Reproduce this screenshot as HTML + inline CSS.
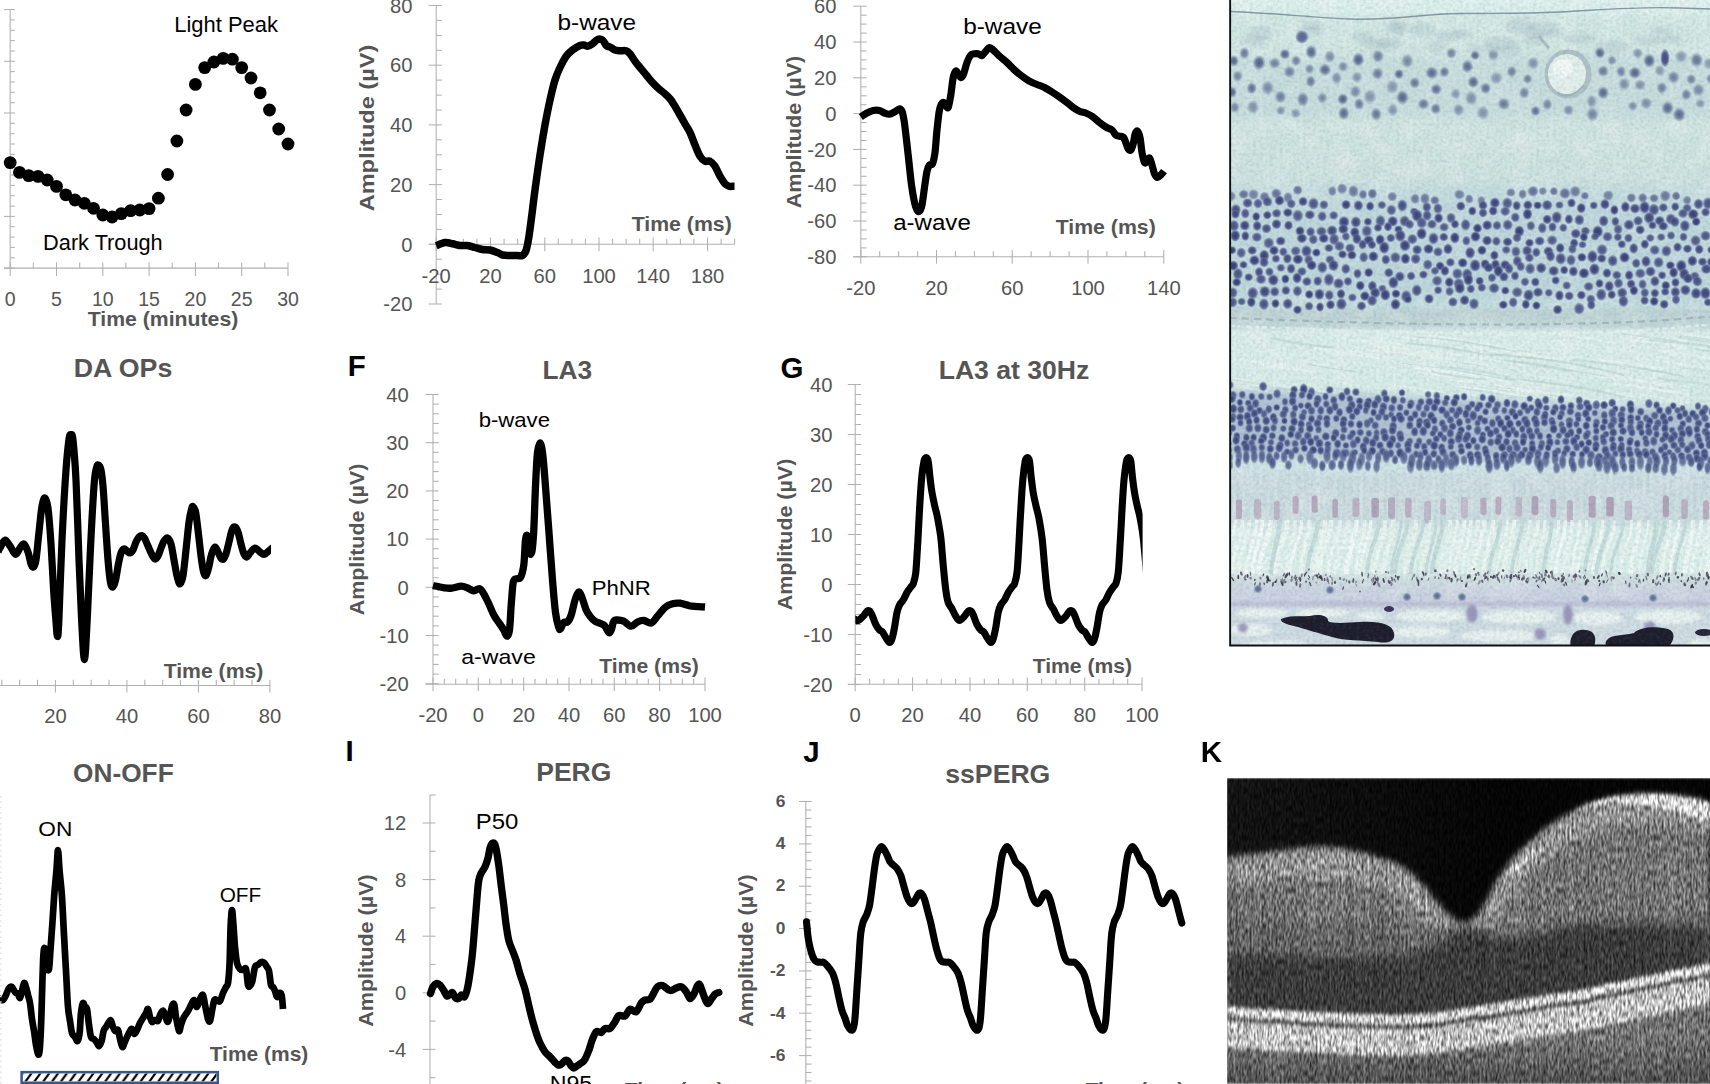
<!DOCTYPE html>
<html><head><meta charset="utf-8"><title>ERG figure</title>
<style>html,body{margin:0;padding:0;background:#fff;overflow:hidden}svg{display:block}text{font-family:"Liberation Sans",sans-serif}</style>
</head><body>
<svg width="1710" height="1084" viewBox="0 0 1710 1084">
<g id="chartA">
<line x1="10.2" y1="9.6" x2="10.2" y2="268.1" stroke="#b0b0b0" stroke-width="1.05"/>
<line x1="4" y1="9.6" x2="14.8" y2="9.6" stroke="#b0b0b0" stroke-width="1.05"/>
<line x1="4" y1="61.3" x2="14.8" y2="61.3" stroke="#b0b0b0" stroke-width="1.05"/>
<line x1="4" y1="113" x2="14.8" y2="113" stroke="#b0b0b0" stroke-width="1.05"/>
<line x1="4" y1="164.7" x2="14.8" y2="164.7" stroke="#b0b0b0" stroke-width="1.05"/>
<line x1="4" y1="216.4" x2="14.8" y2="216.4" stroke="#b0b0b0" stroke-width="1.05"/>
<line x1="4" y1="268.1" x2="14.8" y2="268.1" stroke="#b0b0b0" stroke-width="1.05"/>
<line x1="10.2" y1="19.9" x2="14.8" y2="19.9" stroke="#b0b0b0" stroke-width="1.05"/>
<line x1="10.2" y1="30.3" x2="14.8" y2="30.3" stroke="#b0b0b0" stroke-width="1.05"/>
<line x1="10.2" y1="40.6" x2="14.8" y2="40.6" stroke="#b0b0b0" stroke-width="1.05"/>
<line x1="10.2" y1="51" x2="14.8" y2="51" stroke="#b0b0b0" stroke-width="1.05"/>
<line x1="10.2" y1="71.6" x2="14.8" y2="71.6" stroke="#b0b0b0" stroke-width="1.05"/>
<line x1="10.2" y1="82" x2="14.8" y2="82" stroke="#b0b0b0" stroke-width="1.05"/>
<line x1="10.2" y1="92.3" x2="14.8" y2="92.3" stroke="#b0b0b0" stroke-width="1.05"/>
<line x1="10.2" y1="102.7" x2="14.8" y2="102.7" stroke="#b0b0b0" stroke-width="1.05"/>
<line x1="10.2" y1="123.3" x2="14.8" y2="123.3" stroke="#b0b0b0" stroke-width="1.05"/>
<line x1="10.2" y1="133.7" x2="14.8" y2="133.7" stroke="#b0b0b0" stroke-width="1.05"/>
<line x1="10.2" y1="144" x2="14.8" y2="144" stroke="#b0b0b0" stroke-width="1.05"/>
<line x1="10.2" y1="154.4" x2="14.8" y2="154.4" stroke="#b0b0b0" stroke-width="1.05"/>
<line x1="10.2" y1="175" x2="14.8" y2="175" stroke="#b0b0b0" stroke-width="1.05"/>
<line x1="10.2" y1="185.4" x2="14.8" y2="185.4" stroke="#b0b0b0" stroke-width="1.05"/>
<line x1="10.2" y1="195.7" x2="14.8" y2="195.7" stroke="#b0b0b0" stroke-width="1.05"/>
<line x1="10.2" y1="206.1" x2="14.8" y2="206.1" stroke="#b0b0b0" stroke-width="1.05"/>
<line x1="10.2" y1="226.7" x2="14.8" y2="226.7" stroke="#b0b0b0" stroke-width="1.05"/>
<line x1="10.2" y1="237.1" x2="14.8" y2="237.1" stroke="#b0b0b0" stroke-width="1.05"/>
<line x1="10.2" y1="247.4" x2="14.8" y2="247.4" stroke="#b0b0b0" stroke-width="1.05"/>
<line x1="10.2" y1="257.8" x2="14.8" y2="257.8" stroke="#b0b0b0" stroke-width="1.05"/>
<line x1="4" y1="268.1" x2="288" y2="268.1" stroke="#b0b0b0" stroke-width="1.05"/>
<line x1="10.2" y1="262.4" x2="10.2" y2="276" stroke="#b0b0b0" stroke-width="1.05"/>
<line x1="56.5" y1="262.4" x2="56.5" y2="276" stroke="#b0b0b0" stroke-width="1.05"/>
<line x1="102.8" y1="262.4" x2="102.8" y2="276" stroke="#b0b0b0" stroke-width="1.05"/>
<line x1="149.1" y1="262.4" x2="149.1" y2="276" stroke="#b0b0b0" stroke-width="1.05"/>
<line x1="195.4" y1="262.4" x2="195.4" y2="276" stroke="#b0b0b0" stroke-width="1.05"/>
<line x1="241.7" y1="262.4" x2="241.7" y2="276" stroke="#b0b0b0" stroke-width="1.05"/>
<line x1="288" y1="262.4" x2="288" y2="276" stroke="#b0b0b0" stroke-width="1.05"/>
<line x1="33.3" y1="262.4" x2="33.3" y2="268" stroke="#b0b0b0" stroke-width="1.05"/>
<line x1="79.7" y1="262.4" x2="79.7" y2="268" stroke="#b0b0b0" stroke-width="1.05"/>
<line x1="125.9" y1="262.4" x2="125.9" y2="268" stroke="#b0b0b0" stroke-width="1.05"/>
<line x1="172.2" y1="262.4" x2="172.2" y2="268" stroke="#b0b0b0" stroke-width="1.05"/>
<line x1="218.5" y1="262.4" x2="218.5" y2="268" stroke="#b0b0b0" stroke-width="1.05"/>
<line x1="264.8" y1="262.4" x2="264.8" y2="268" stroke="#b0b0b0" stroke-width="1.05"/>
<text x="10.2" y="306.3" font-size="19.5" fill="#555555" text-anchor="middle">0</text>
<text x="56.5" y="306.3" font-size="19.5" fill="#555555" text-anchor="middle">5</text>
<text x="102.8" y="306.3" font-size="19.5" fill="#555555" text-anchor="middle">10</text>
<text x="149.1" y="306.3" font-size="19.5" fill="#555555" text-anchor="middle">15</text>
<text x="195.4" y="306.3" font-size="19.5" fill="#555555" text-anchor="middle">20</text>
<text x="241.7" y="306.3" font-size="19.5" fill="#555555" text-anchor="middle">25</text>
<text x="288" y="306.3" font-size="19.5" fill="#555555" text-anchor="middle">30</text>
<text x="163" y="326.3" font-size="20.5" fill="#555555" font-weight="bold" text-anchor="middle" textLength="150.6" lengthAdjust="spacingAndGlyphs">Time (minutes)</text>
<text x="174.3" y="32" font-size="21.3" fill="#000" textLength="103.6" lengthAdjust="spacingAndGlyphs">Light Peak</text>
<text x="43.1" y="250" font-size="21.3" fill="#000" textLength="119.6" lengthAdjust="spacingAndGlyphs">Dark Trough</text>
<circle cx="10.2" cy="162.6" r="6.4" fill="#000"/>
<circle cx="19.5" cy="172.4" r="6.4" fill="#000"/>
<circle cx="28.7" cy="175.6" r="6.4" fill="#000"/>
<circle cx="38" cy="176.4" r="6.4" fill="#000"/>
<circle cx="47.2" cy="180" r="6.4" fill="#000"/>
<circle cx="56.5" cy="186.4" r="6.4" fill="#000"/>
<circle cx="65.8" cy="194.8" r="6.4" fill="#000"/>
<circle cx="75" cy="200" r="6.4" fill="#000"/>
<circle cx="84.3" cy="203.3" r="6.4" fill="#000"/>
<circle cx="93.5" cy="208.3" r="6.4" fill="#000"/>
<circle cx="102.8" cy="215" r="6.4" fill="#000"/>
<circle cx="112.1" cy="217" r="6.4" fill="#000"/>
<circle cx="121.3" cy="213.6" r="6.4" fill="#000"/>
<circle cx="130.6" cy="210.6" r="6.4" fill="#000"/>
<circle cx="139.8" cy="210" r="6.4" fill="#000"/>
<circle cx="149.1" cy="208.6" r="6.4" fill="#000"/>
<circle cx="158.4" cy="198.2" r="6.4" fill="#000"/>
<circle cx="167.6" cy="174.5" r="6.4" fill="#000"/>
<circle cx="176.9" cy="141" r="6.4" fill="#000"/>
<circle cx="186.1" cy="110" r="6.4" fill="#000"/>
<circle cx="195.4" cy="84.4" r="6.4" fill="#000"/>
<circle cx="204.7" cy="67.6" r="6.4" fill="#000"/>
<circle cx="213.9" cy="62" r="6.4" fill="#000"/>
<circle cx="223.2" cy="58.4" r="6.4" fill="#000"/>
<circle cx="232.4" cy="59.2" r="6.4" fill="#000"/>
<circle cx="241.7" cy="67.6" r="6.4" fill="#000"/>
<circle cx="251" cy="78" r="6.4" fill="#000"/>
<circle cx="260.2" cy="92.8" r="6.4" fill="#000"/>
<circle cx="269.5" cy="110" r="6.4" fill="#000"/>
<circle cx="278.7" cy="129" r="6.4" fill="#000"/>
<circle cx="288" cy="144" r="6.4" fill="#000"/>
</g>
<g id="chartC">
<line x1="436.2" y1="5.5" x2="436.2" y2="304" stroke="#b0b0b0" stroke-width="1.05"/>
<line x1="428.8" y1="5.5" x2="441.9" y2="5.5" stroke="#b0b0b0" stroke-width="1.05"/>
<line x1="428.8" y1="65.2" x2="441.9" y2="65.2" stroke="#b0b0b0" stroke-width="1.05"/>
<line x1="428.8" y1="124.9" x2="441.9" y2="124.9" stroke="#b0b0b0" stroke-width="1.05"/>
<line x1="428.8" y1="184.6" x2="441.9" y2="184.6" stroke="#b0b0b0" stroke-width="1.05"/>
<line x1="428.8" y1="244.3" x2="441.9" y2="244.3" stroke="#b0b0b0" stroke-width="1.05"/>
<line x1="428.8" y1="304" x2="441.9" y2="304" stroke="#b0b0b0" stroke-width="1.05"/>
<line x1="436.2" y1="20.4" x2="441.9" y2="20.4" stroke="#b0b0b0" stroke-width="1.05"/>
<line x1="436.2" y1="35.4" x2="441.9" y2="35.4" stroke="#b0b0b0" stroke-width="1.05"/>
<line x1="436.2" y1="50.3" x2="441.9" y2="50.3" stroke="#b0b0b0" stroke-width="1.05"/>
<line x1="436.2" y1="80.1" x2="441.9" y2="80.1" stroke="#b0b0b0" stroke-width="1.05"/>
<line x1="436.2" y1="95.1" x2="441.9" y2="95.1" stroke="#b0b0b0" stroke-width="1.05"/>
<line x1="436.2" y1="110" x2="441.9" y2="110" stroke="#b0b0b0" stroke-width="1.05"/>
<line x1="436.2" y1="139.8" x2="441.9" y2="139.8" stroke="#b0b0b0" stroke-width="1.05"/>
<line x1="436.2" y1="154.8" x2="441.9" y2="154.8" stroke="#b0b0b0" stroke-width="1.05"/>
<line x1="436.2" y1="169.7" x2="441.9" y2="169.7" stroke="#b0b0b0" stroke-width="1.05"/>
<line x1="436.2" y1="199.5" x2="441.9" y2="199.5" stroke="#b0b0b0" stroke-width="1.05"/>
<line x1="436.2" y1="214.5" x2="441.9" y2="214.5" stroke="#b0b0b0" stroke-width="1.05"/>
<line x1="436.2" y1="229.4" x2="441.9" y2="229.4" stroke="#b0b0b0" stroke-width="1.05"/>
<line x1="436.2" y1="259.2" x2="441.9" y2="259.2" stroke="#b0b0b0" stroke-width="1.05"/>
<line x1="436.2" y1="274.1" x2="441.9" y2="274.1" stroke="#b0b0b0" stroke-width="1.05"/>
<line x1="436.2" y1="289.1" x2="441.9" y2="289.1" stroke="#b0b0b0" stroke-width="1.05"/>
<line x1="428.8" y1="244.3" x2="734.6" y2="244.3" stroke="#b0b0b0" stroke-width="1.05"/>
<line x1="436.2" y1="237.5" x2="436.2" y2="251.2" stroke="#b0b0b0" stroke-width="1.05"/>
<line x1="490.5" y1="237.5" x2="490.5" y2="251.2" stroke="#b0b0b0" stroke-width="1.05"/>
<line x1="544.8" y1="237.5" x2="544.8" y2="251.2" stroke="#b0b0b0" stroke-width="1.05"/>
<line x1="599" y1="237.5" x2="599" y2="251.2" stroke="#b0b0b0" stroke-width="1.05"/>
<line x1="653.2" y1="237.5" x2="653.2" y2="251.2" stroke="#b0b0b0" stroke-width="1.05"/>
<line x1="707.5" y1="237.5" x2="707.5" y2="251.2" stroke="#b0b0b0" stroke-width="1.05"/>
<line x1="449.8" y1="238.7" x2="449.8" y2="244.3" stroke="#b0b0b0" stroke-width="1.05"/>
<line x1="463.4" y1="238.7" x2="463.4" y2="244.3" stroke="#b0b0b0" stroke-width="1.05"/>
<line x1="476.9" y1="238.7" x2="476.9" y2="244.3" stroke="#b0b0b0" stroke-width="1.05"/>
<line x1="504.1" y1="238.7" x2="504.1" y2="244.3" stroke="#b0b0b0" stroke-width="1.05"/>
<line x1="517.6" y1="238.7" x2="517.6" y2="244.3" stroke="#b0b0b0" stroke-width="1.05"/>
<line x1="531.2" y1="238.7" x2="531.2" y2="244.3" stroke="#b0b0b0" stroke-width="1.05"/>
<line x1="558.3" y1="238.7" x2="558.3" y2="244.3" stroke="#b0b0b0" stroke-width="1.05"/>
<line x1="571.9" y1="238.7" x2="571.9" y2="244.3" stroke="#b0b0b0" stroke-width="1.05"/>
<line x1="585.4" y1="238.7" x2="585.4" y2="244.3" stroke="#b0b0b0" stroke-width="1.05"/>
<line x1="612.6" y1="238.7" x2="612.6" y2="244.3" stroke="#b0b0b0" stroke-width="1.05"/>
<line x1="626.1" y1="238.7" x2="626.1" y2="244.3" stroke="#b0b0b0" stroke-width="1.05"/>
<line x1="639.7" y1="238.7" x2="639.7" y2="244.3" stroke="#b0b0b0" stroke-width="1.05"/>
<line x1="666.8" y1="238.7" x2="666.8" y2="244.3" stroke="#b0b0b0" stroke-width="1.05"/>
<line x1="680.4" y1="238.7" x2="680.4" y2="244.3" stroke="#b0b0b0" stroke-width="1.05"/>
<line x1="693.9" y1="238.7" x2="693.9" y2="244.3" stroke="#b0b0b0" stroke-width="1.05"/>
<line x1="721.1" y1="238.7" x2="721.1" y2="244.3" stroke="#b0b0b0" stroke-width="1.05"/>
<line x1="734.6" y1="238.7" x2="734.6" y2="244.3" stroke="#b0b0b0" stroke-width="1.05"/>
<text x="412.5" y="12.7" font-size="20.2" fill="#555555" text-anchor="end">80</text>
<text x="412.5" y="72.4" font-size="20.2" fill="#555555" text-anchor="end">60</text>
<text x="412.5" y="132.1" font-size="20.2" fill="#555555" text-anchor="end">40</text>
<text x="412.5" y="191.8" font-size="20.2" fill="#555555" text-anchor="end">20</text>
<text x="412.5" y="251.5" font-size="20.2" fill="#555555" text-anchor="end">0</text>
<text x="412.5" y="311.2" font-size="20.2" fill="#555555" text-anchor="end">-20</text>
<text x="436.2" y="282.5" font-size="20.2" fill="#555555" text-anchor="middle">-20</text>
<text x="490.5" y="282.5" font-size="20.2" fill="#555555" text-anchor="middle">20</text>
<text x="544.8" y="282.5" font-size="20.2" fill="#555555" text-anchor="middle">60</text>
<text x="599" y="282.5" font-size="20.2" fill="#555555" text-anchor="middle">100</text>
<text x="653.2" y="282.5" font-size="20.2" fill="#555555" text-anchor="middle">140</text>
<text x="707.5" y="282.5" font-size="20.2" fill="#555555" text-anchor="middle">180</text>
<text x="373.5" y="128" font-size="20.5" fill="#555555" font-weight="bold" text-anchor="middle" textLength="166.6" lengthAdjust="spacingAndGlyphs" transform="rotate(-90 373.5 128)">Amplitude (µV)</text>
<text x="557.5" y="29.5" font-size="21.3" fill="#000" textLength="78.6" lengthAdjust="spacingAndGlyphs">b-wave</text>
<text x="631.7" y="231.2" font-size="21" fill="#555555" font-weight="bold" textLength="100.1" lengthAdjust="spacingAndGlyphs">Time (ms)</text>
<path d="M436.2 245.8C437.7 245.2 442.3 242.8 445 242.5C447.7 242.2 450 243.2 452.5 243.8C455 244.2 457.5 245.2 460 245.5C462.5 245.8 465 245.2 467.5 245.5C470 245.8 472.5 246.8 475 247.5C477.5 248.2 480 249.1 482.5 249.5C485 249.9 487.5 249.5 490 250C492.5 250.5 495.4 251.7 497.5 252.5C499.6 253.3 500.4 254.5 502.5 255C504.6 255.5 507.5 255.4 510 255.5C512.5 255.6 515.4 255.5 517.5 255.5C519.6 255.5 521 256.4 522.5 255.5C524 254.6 525.2 253 526.2 250C527.3 247 527.9 242.5 528.8 237.5C529.6 232.5 530.2 227.9 531.2 220C532.3 212.1 533.5 200.8 535 190C536.5 179.2 538.3 165.8 540 155C541.7 144.2 543.3 134.2 545 125C546.7 115.8 548.3 107.5 550 100C551.7 92.5 553.3 85.4 555 80C556.7 74.6 558.1 71.5 560 67.5C561.9 63.5 564.2 59.2 566.2 56.2C568.3 53.3 570.2 51.8 572.5 50C574.8 48.2 578.1 46.3 580 45.5C581.9 44.7 582.5 44.9 583.8 45C585 45.1 586 46.5 587.5 46.2C589 46 590.8 44.9 592.5 43.8C594.2 42.6 595.8 40.1 597.5 39.5C599.2 38.9 601 39 602.5 40C604 41 605 44.3 606.2 45.5C607.5 46.7 608.5 46.2 610 47C611.5 47.8 613.3 49.4 615 50C616.7 50.6 618.1 50.6 620 50.8C621.9 50.9 624.6 50.2 626.2 50.8C627.9 51.2 628.5 52 630 53.8C631.5 55.5 633.3 59 635 61.2C636.7 63.5 638.1 65.2 640 67.5C641.9 69.8 644.2 72.5 646.2 75C648.3 77.5 650.4 80.2 652.5 82.5C654.6 84.8 656.7 86.9 658.8 88.8C660.8 90.6 663.1 92.1 665 93.8C666.9 95.4 668.3 96.7 670 98.8C671.7 100.8 673.3 103.5 675 106.2C676.7 109 678.3 112.1 680 115C681.7 117.9 683.3 120.8 685 123.8C686.7 126.7 688.3 129 690 132.5C691.7 136 693.3 141 695 145C696.7 149 698.3 153.5 700 156.2C701.7 159 703.3 160.4 705 161.2C706.7 162.1 708.3 160.4 710 161.2C711.7 162.1 713.3 163.8 715 166.2C716.7 168.8 718.3 173.3 720 176.2C721.7 179.2 723.5 182.1 725 183.8C726.5 185.4 727.2 185.8 728.8 186.2C730.3 186.7 733.5 186.2 734.5 186.2" fill="none" stroke="#000" stroke-width="7.5" stroke-linecap="butt" stroke-linejoin="round"/>
</g>
<g id="chartD">
<line x1="860.8" y1="6.2" x2="860.8" y2="256.8" stroke="#b0b0b0" stroke-width="1.05"/>
<line x1="853.2" y1="6.2" x2="866.5" y2="6.2" stroke="#b0b0b0" stroke-width="1.05"/>
<line x1="853.2" y1="42" x2="866.5" y2="42" stroke="#b0b0b0" stroke-width="1.05"/>
<line x1="853.2" y1="77.8" x2="866.5" y2="77.8" stroke="#b0b0b0" stroke-width="1.05"/>
<line x1="853.2" y1="113.6" x2="866.5" y2="113.6" stroke="#b0b0b0" stroke-width="1.05"/>
<line x1="853.2" y1="149.4" x2="866.5" y2="149.4" stroke="#b0b0b0" stroke-width="1.05"/>
<line x1="853.2" y1="185.2" x2="866.5" y2="185.2" stroke="#b0b0b0" stroke-width="1.05"/>
<line x1="853.2" y1="221" x2="866.5" y2="221" stroke="#b0b0b0" stroke-width="1.05"/>
<line x1="853.2" y1="256.8" x2="866.5" y2="256.8" stroke="#b0b0b0" stroke-width="1.05"/>
<line x1="860.8" y1="15.2" x2="866.5" y2="15.2" stroke="#b0b0b0" stroke-width="1.05"/>
<line x1="860.8" y1="24.1" x2="866.5" y2="24.1" stroke="#b0b0b0" stroke-width="1.05"/>
<line x1="860.8" y1="33.1" x2="866.5" y2="33.1" stroke="#b0b0b0" stroke-width="1.05"/>
<line x1="860.8" y1="51" x2="866.5" y2="51" stroke="#b0b0b0" stroke-width="1.05"/>
<line x1="860.8" y1="59.9" x2="866.5" y2="59.9" stroke="#b0b0b0" stroke-width="1.05"/>
<line x1="860.8" y1="68.9" x2="866.5" y2="68.9" stroke="#b0b0b0" stroke-width="1.05"/>
<line x1="860.8" y1="86.8" x2="866.5" y2="86.8" stroke="#b0b0b0" stroke-width="1.05"/>
<line x1="860.8" y1="95.8" x2="866.5" y2="95.8" stroke="#b0b0b0" stroke-width="1.05"/>
<line x1="860.8" y1="104.7" x2="866.5" y2="104.7" stroke="#b0b0b0" stroke-width="1.05"/>
<line x1="860.8" y1="122.6" x2="866.5" y2="122.6" stroke="#b0b0b0" stroke-width="1.05"/>
<line x1="860.8" y1="131.5" x2="866.5" y2="131.5" stroke="#b0b0b0" stroke-width="1.05"/>
<line x1="860.8" y1="140.5" x2="866.5" y2="140.5" stroke="#b0b0b0" stroke-width="1.05"/>
<line x1="860.8" y1="158.4" x2="866.5" y2="158.4" stroke="#b0b0b0" stroke-width="1.05"/>
<line x1="860.8" y1="167.3" x2="866.5" y2="167.3" stroke="#b0b0b0" stroke-width="1.05"/>
<line x1="860.8" y1="176.3" x2="866.5" y2="176.3" stroke="#b0b0b0" stroke-width="1.05"/>
<line x1="860.8" y1="194.2" x2="866.5" y2="194.2" stroke="#b0b0b0" stroke-width="1.05"/>
<line x1="860.8" y1="203.1" x2="866.5" y2="203.1" stroke="#b0b0b0" stroke-width="1.05"/>
<line x1="860.8" y1="212.1" x2="866.5" y2="212.1" stroke="#b0b0b0" stroke-width="1.05"/>
<line x1="860.8" y1="230" x2="866.5" y2="230" stroke="#b0b0b0" stroke-width="1.05"/>
<line x1="860.8" y1="238.9" x2="866.5" y2="238.9" stroke="#b0b0b0" stroke-width="1.05"/>
<line x1="860.8" y1="247.9" x2="866.5" y2="247.9" stroke="#b0b0b0" stroke-width="1.05"/>
<line x1="853.2" y1="256.8" x2="1164" y2="256.8" stroke="#b0b0b0" stroke-width="1.05"/>
<line x1="860.8" y1="250" x2="860.8" y2="263.7" stroke="#b0b0b0" stroke-width="1.05"/>
<line x1="936.5" y1="250" x2="936.5" y2="263.7" stroke="#b0b0b0" stroke-width="1.05"/>
<line x1="1012.2" y1="250" x2="1012.2" y2="263.7" stroke="#b0b0b0" stroke-width="1.05"/>
<line x1="1088" y1="250" x2="1088" y2="263.7" stroke="#b0b0b0" stroke-width="1.05"/>
<line x1="1163.8" y1="250" x2="1163.8" y2="263.7" stroke="#b0b0b0" stroke-width="1.05"/>
<line x1="879.7" y1="251.2" x2="879.7" y2="256.8" stroke="#b0b0b0" stroke-width="1.05"/>
<line x1="898.6" y1="251.2" x2="898.6" y2="256.8" stroke="#b0b0b0" stroke-width="1.05"/>
<line x1="917.6" y1="251.2" x2="917.6" y2="256.8" stroke="#b0b0b0" stroke-width="1.05"/>
<line x1="955.4" y1="251.2" x2="955.4" y2="256.8" stroke="#b0b0b0" stroke-width="1.05"/>
<line x1="974.4" y1="251.2" x2="974.4" y2="256.8" stroke="#b0b0b0" stroke-width="1.05"/>
<line x1="993.3" y1="251.2" x2="993.3" y2="256.8" stroke="#b0b0b0" stroke-width="1.05"/>
<line x1="1031.2" y1="251.2" x2="1031.2" y2="256.8" stroke="#b0b0b0" stroke-width="1.05"/>
<line x1="1050.1" y1="251.2" x2="1050.1" y2="256.8" stroke="#b0b0b0" stroke-width="1.05"/>
<line x1="1069.1" y1="251.2" x2="1069.1" y2="256.8" stroke="#b0b0b0" stroke-width="1.05"/>
<line x1="1106.9" y1="251.2" x2="1106.9" y2="256.8" stroke="#b0b0b0" stroke-width="1.05"/>
<line x1="1125.9" y1="251.2" x2="1125.9" y2="256.8" stroke="#b0b0b0" stroke-width="1.05"/>
<line x1="1144.8" y1="251.2" x2="1144.8" y2="256.8" stroke="#b0b0b0" stroke-width="1.05"/>
<text x="836.5" y="13.4" font-size="20.2" fill="#555555" text-anchor="end">60</text>
<text x="836.5" y="49.2" font-size="20.2" fill="#555555" text-anchor="end">40</text>
<text x="836.5" y="85" font-size="20.2" fill="#555555" text-anchor="end">20</text>
<text x="836.5" y="120.8" font-size="20.2" fill="#555555" text-anchor="end">0</text>
<text x="836.5" y="156.6" font-size="20.2" fill="#555555" text-anchor="end">-20</text>
<text x="836.5" y="192.4" font-size="20.2" fill="#555555" text-anchor="end">-40</text>
<text x="836.5" y="228.2" font-size="20.2" fill="#555555" text-anchor="end">-60</text>
<text x="836.5" y="264" font-size="20.2" fill="#555555" text-anchor="end">-80</text>
<text x="860.8" y="295" font-size="20.2" fill="#555555" text-anchor="middle">-20</text>
<text x="936.5" y="295" font-size="20.2" fill="#555555" text-anchor="middle">20</text>
<text x="1012.2" y="295" font-size="20.2" fill="#555555" text-anchor="middle">60</text>
<text x="1088" y="295" font-size="20.2" fill="#555555" text-anchor="middle">100</text>
<text x="1163.8" y="295" font-size="20.2" fill="#555555" text-anchor="middle">140</text>
<text x="800.8" y="132" font-size="20.5" fill="#555555" font-weight="bold" text-anchor="middle" textLength="152.6" lengthAdjust="spacingAndGlyphs" transform="rotate(-90 800.8 132)">Amplitude (µV)</text>
<text x="963.2" y="33.8" font-size="21.3" fill="#000" textLength="78.6" lengthAdjust="spacingAndGlyphs">b-wave</text>
<text x="893.2" y="230" font-size="21.3" fill="#000" textLength="77.6" lengthAdjust="spacingAndGlyphs">a-wave</text>
<text x="1055.7" y="233.8" font-size="21" fill="#555555" font-weight="bold" textLength="100.1" lengthAdjust="spacingAndGlyphs">Time (ms)</text>
<path d="M860.8 117C861.8 116.3 864.9 114.1 867 113C869.1 111.9 871.2 110.9 873.2 110.5C875.3 110.1 877.6 110.1 879.5 110.5C881.4 110.9 882.8 112.4 884.5 113C886.2 113.6 887.8 114.4 889.5 114.2C891.2 114.1 892.8 112.9 894.5 112C896.2 111.1 898.2 108.9 899.5 108.8C900.8 108.6 901.2 109.4 902 111.2C902.8 113.1 903.2 115.2 904 120C904.8 124.8 905.7 132.9 906.5 140C907.3 147.1 908.2 155 909 162.5C909.8 170 910.6 178.3 911.5 185C912.4 191.7 913.6 198.3 914.5 202.5C915.4 206.7 916.2 208.5 917 210C917.8 211.5 918.7 212.1 919.5 211.2C920.3 210.4 921.2 209 922 205C922.8 201 923.7 193.1 924.5 187.5C925.3 181.9 926.2 175 927 171.2C927.8 167.5 928.6 166.2 929.5 165C930.4 163.8 931.6 165.8 932.5 163.8C933.4 161.7 934.2 158.1 935 152.5C935.8 146.9 936.2 137.1 937 130C937.8 122.9 938.5 114.6 939.5 110C940.5 105.4 941.7 103.3 942.8 102.5C943.8 101.7 944.8 104.2 945.8 105C946.7 105.8 947.4 109.2 948.2 107.5C949.1 105.8 949.9 100 950.8 95C951.6 90 952.4 81.5 953.2 77.5C954.1 73.5 954.9 71.9 955.8 71.2C956.6 70.6 957.4 72.7 958.2 73.8C959.1 74.8 959.9 77.3 960.8 77.5C961.6 77.7 962.2 77.5 963.2 75C964.3 72.5 965.8 65.8 967 62.5C968.2 59.2 969.5 56.5 970.8 55C972 53.5 973.2 54 974.5 53.8C975.8 53.5 977 53.5 978.2 53.8C979.5 54 980.8 55.9 982 55.5C983.2 55.1 984.5 52.6 985.8 51.2C987 49.9 988.2 47.7 989.5 47.5C990.8 47.3 991.6 48.5 993.2 50C994.9 51.5 997.2 54.2 999.5 56.2C1001.8 58.3 1004.5 60.2 1007 62.5C1009.5 64.8 1012 67.7 1014.5 70C1017 72.3 1019.5 74.4 1022 76.2C1024.5 78.1 1027 79.9 1029.5 81.2C1032 82.6 1034.5 83.5 1037 84.5C1039.5 85.5 1042 86.2 1044.5 87.5C1047 88.8 1049.5 90.4 1052 92C1054.5 93.6 1057 95.2 1059.5 97C1062 98.8 1064.7 100.8 1067 102.5C1069.3 104.2 1071.2 106 1073.2 107.5C1075.3 109 1077.4 110.3 1079.5 111.2C1081.6 112.2 1083.7 112.2 1085.8 113C1087.8 113.8 1089.7 114.7 1092 116.2C1094.3 117.8 1097.2 120.7 1099.5 122.5C1101.8 124.3 1103.7 125.8 1105.8 127C1107.8 128.2 1110.3 128.7 1112 130C1113.7 131.3 1114.5 134 1115.8 135C1117 136 1118.2 135.9 1119.5 136.2C1120.8 136.6 1122.2 136 1123.2 137C1124.3 138 1124.9 140.5 1125.8 142.5C1126.6 144.5 1127.4 147.5 1128.2 148.8C1129.1 150 1129.9 150.8 1130.8 150C1131.6 149.2 1132.5 146.5 1133.2 143.8C1134 141 1134.5 135.8 1135.2 133.8C1136 131.7 1136.7 130.6 1137.5 131.2C1138.3 131.9 1139.2 134 1140 137.5C1140.8 141 1141.2 148.3 1142 152.5C1142.8 156.7 1143.7 161 1144.5 162.5C1145.3 164 1146.2 162 1147 161.2C1147.8 160.5 1148.7 157.4 1149.5 158C1150.3 158.6 1151.2 162.4 1152 165C1152.8 167.6 1153.6 171.7 1154.5 173.8C1155.4 175.8 1156.5 177.3 1157.5 177.5C1158.5 177.7 1159.7 176 1160.8 175C1161.8 174 1163.5 171.9 1164 171.2" fill="none" stroke="#000" stroke-width="7.2" stroke-linecap="butt" stroke-linejoin="round"/>
</g>
<g id="chartE">
<text x="123" y="377" font-size="25.7" fill="#555555" font-weight="bold" text-anchor="middle" textLength="98.6" lengthAdjust="spacingAndGlyphs">DA OPs</text>
<line x1="0" y1="685.4" x2="270.4" y2="685.4" stroke="#b0b0b0" stroke-width="1.05"/>
<line x1="55.4" y1="680" x2="55.4" y2="692.4" stroke="#b0b0b0" stroke-width="1.05"/>
<line x1="126.9" y1="680" x2="126.9" y2="692.4" stroke="#b0b0b0" stroke-width="1.05"/>
<line x1="198.4" y1="680" x2="198.4" y2="692.4" stroke="#b0b0b0" stroke-width="1.05"/>
<line x1="269.9" y1="680" x2="269.9" y2="692.4" stroke="#b0b0b0" stroke-width="1.05"/>
<line x1="73.3" y1="679.8" x2="73.3" y2="685.4" stroke="#b0b0b0" stroke-width="1.05"/>
<line x1="91.2" y1="679.8" x2="91.2" y2="685.4" stroke="#b0b0b0" stroke-width="1.05"/>
<line x1="109" y1="679.8" x2="109" y2="685.4" stroke="#b0b0b0" stroke-width="1.05"/>
<line x1="144.8" y1="679.8" x2="144.8" y2="685.4" stroke="#b0b0b0" stroke-width="1.05"/>
<line x1="162.7" y1="679.8" x2="162.7" y2="685.4" stroke="#b0b0b0" stroke-width="1.05"/>
<line x1="180.5" y1="679.8" x2="180.5" y2="685.4" stroke="#b0b0b0" stroke-width="1.05"/>
<line x1="216.3" y1="679.8" x2="216.3" y2="685.4" stroke="#b0b0b0" stroke-width="1.05"/>
<line x1="234.1" y1="679.8" x2="234.1" y2="685.4" stroke="#b0b0b0" stroke-width="1.05"/>
<line x1="252" y1="679.8" x2="252" y2="685.4" stroke="#b0b0b0" stroke-width="1.05"/>
<line x1="37.5" y1="679.8" x2="37.5" y2="685.4" stroke="#b0b0b0" stroke-width="1.05"/>
<line x1="19.6" y1="679.8" x2="19.6" y2="685.4" stroke="#b0b0b0" stroke-width="1.05"/>
<line x1="1.8" y1="679.8" x2="1.8" y2="685.4" stroke="#b0b0b0" stroke-width="1.05"/>
<text x="55.4" y="723" font-size="20.2" fill="#555555" text-anchor="middle">20</text>
<text x="126.9" y="723" font-size="20.2" fill="#555555" text-anchor="middle">40</text>
<text x="198.4" y="723" font-size="20.2" fill="#555555" text-anchor="middle">60</text>
<text x="269.9" y="723" font-size="20.2" fill="#555555" text-anchor="middle">80</text>
<text x="163.7" y="678" font-size="21" fill="#555555" font-weight="bold" textLength="99.6" lengthAdjust="spacingAndGlyphs">Time (ms)</text>
<clipPath id="clipE"><rect x="0" y="400" width="271" height="290"/></clipPath><g clip-path="url(#clipE)">
<path d="M-2 552C-1.7 551.3 -1.2 550 0 548C1.2 546 3.3 540.3 5 540C6.7 539.7 8.2 543.6 10 546C11.8 548.4 13.9 554.1 15.6 554.4C17.3 554.7 18.6 549.7 20 548C21.4 546.3 22.7 543.3 24 544C25.3 544.7 26.8 548.7 28 552C29.2 555.3 30.1 561.5 31 564C31.9 566.5 32.8 567.7 33.6 567C34.4 566.3 35.1 565.8 36 560C36.9 554.2 38 541 39 532C40 523 41 511.7 42 506C43 500.3 44 497.7 45 498C46 498.3 47 500.3 48 508C49 515.7 50.1 530.3 51 544C51.9 557.7 52.8 577 53.6 590C54.4 603 55.4 614.3 56 622C56.6 629.7 56.9 636.4 57.4 636.4C57.9 636.4 58 638.1 58.8 622C59.6 605.9 60.8 565.3 62 540C63.2 514.7 64.8 486.8 66 470C67.2 453.2 68.2 444.8 69 439C69.8 433.2 70.3 434.8 71 435C71.7 435.2 72.2 432.5 73 440C73.8 447.5 75 460 76 480C77 500 78.1 536.7 79 560C79.9 583.3 80.7 603.4 81.6 620C82.5 636.6 83.5 659.6 84.4 659.6C85.3 659.6 86.2 638.3 87.2 620C88.2 601.7 89.3 572.3 90.4 550C91.5 527.7 93 499.7 94 486C95 472.3 95.6 471.5 96.4 468C97.2 464.5 97.8 464.7 98.6 465C99.4 465.3 100.3 466.5 101 470C101.7 473.5 102.3 478.3 103 486C103.7 493.7 104.2 503.7 105 516C105.8 528.3 107.1 549 108 560C108.9 571 109.6 577.5 110.4 582C111.2 586.5 112.1 587.3 113 587C113.9 586.7 114.7 583.8 115.6 580C116.5 576.2 117.5 568.5 118.4 564C119.3 559.5 120.1 555.5 121 553C121.9 550.5 123 549.3 124 549C125 548.7 126 550.3 127 551C128 551.7 129 553.2 130 553C131 552.8 132 551.8 133 550C134 548.2 135 544.2 136 542C137 539.8 138.1 538.1 139 537C139.9 535.9 140.7 535.4 141.6 535.6C142.5 535.8 143.3 536.3 144.4 538C145.5 539.7 146.8 543.3 148 546C149.2 548.7 150.4 551.8 151.6 554C152.8 556.2 153.9 558.7 155 559C156.1 559.3 157 557.8 158 556C159 554.2 160 550.5 161 548C162 545.5 162.9 542.7 164 541C165.1 539.3 166.4 537.5 167.6 538C168.8 538.5 169.9 540.3 171 544C172.1 547.7 173 554.7 174 560C175 565.3 176 572 177 576C178 580 179 584 180 584C181 584 182 581.7 183 576C184 570.3 185 559 186 550C187 541 188.1 528.8 189 522C189.9 515.2 190.9 511.6 191.6 509C192.3 506.4 192.3 506.1 193 506.6C193.7 507.1 194.8 508.1 195.6 512C196.4 515.9 197.1 522.7 198 530C198.9 537.3 200.1 549 201 556C201.9 563 202.8 568.7 203.6 572C204.4 575.3 205.2 576.3 206 575.6C206.8 574.9 207.7 571.6 208.6 568C209.5 564.4 210.5 557.5 211.6 554C212.7 550.5 213.9 547.3 215 547C216.1 546.7 217 550.2 218 552C219 553.8 220.1 556.8 221 558C221.9 559.2 222.8 559.7 223.6 559C224.4 558.3 225.1 556.8 226 554C226.9 551.2 228 546 229 542C230 538 231 532.5 232 530C233 527.5 234 526.7 235 527C236 527.3 237 529.2 238 532C239 534.8 240 540.3 241 544C242 547.7 243 551.8 244 554C245 556.2 246 557.2 247 557C248 556.8 248.7 554.5 250 553C251.3 551.5 253.3 548.2 255 548C256.7 547.8 258.5 550.9 260 552C261.5 553.1 262.7 554.5 264 554.4C265.3 554.3 266.8 552.5 268 551.6C269.2 550.7 269.8 550.1 271 549.2C272.2 548.3 274.3 546.5 275 546" fill="none" stroke="#000" stroke-width="7.2" stroke-linecap="butt" stroke-linejoin="round"/>
</g>
</g>
<g id="chartF">
<text x="347.8" y="375.8" font-size="29.5" fill="#000" font-weight="bold">F</text>
<text x="567.2" y="378.8" font-size="25" fill="#555555" font-weight="bold" text-anchor="middle" textLength="49.6" lengthAdjust="spacingAndGlyphs">LA3</text>
<line x1="433" y1="394.5" x2="433" y2="683.7" stroke="#b0b0b0" stroke-width="1.05"/>
<line x1="425.5" y1="394.5" x2="438.7" y2="394.5" stroke="#b0b0b0" stroke-width="1.05"/>
<line x1="425.5" y1="442.7" x2="438.7" y2="442.7" stroke="#b0b0b0" stroke-width="1.05"/>
<line x1="425.5" y1="490.9" x2="438.7" y2="490.9" stroke="#b0b0b0" stroke-width="1.05"/>
<line x1="425.5" y1="539.1" x2="438.7" y2="539.1" stroke="#b0b0b0" stroke-width="1.05"/>
<line x1="425.5" y1="587.3" x2="438.7" y2="587.3" stroke="#b0b0b0" stroke-width="1.05"/>
<line x1="425.5" y1="635.5" x2="438.7" y2="635.5" stroke="#b0b0b0" stroke-width="1.05"/>
<line x1="425.5" y1="683.7" x2="438.7" y2="683.7" stroke="#b0b0b0" stroke-width="1.05"/>
<line x1="433" y1="404.1" x2="438.7" y2="404.1" stroke="#b0b0b0" stroke-width="1.05"/>
<line x1="433" y1="413.8" x2="438.7" y2="413.8" stroke="#b0b0b0" stroke-width="1.05"/>
<line x1="433" y1="423.4" x2="438.7" y2="423.4" stroke="#b0b0b0" stroke-width="1.05"/>
<line x1="433" y1="433.1" x2="438.7" y2="433.1" stroke="#b0b0b0" stroke-width="1.05"/>
<line x1="433" y1="452.3" x2="438.7" y2="452.3" stroke="#b0b0b0" stroke-width="1.05"/>
<line x1="433" y1="462" x2="438.7" y2="462" stroke="#b0b0b0" stroke-width="1.05"/>
<line x1="433" y1="471.6" x2="438.7" y2="471.6" stroke="#b0b0b0" stroke-width="1.05"/>
<line x1="433" y1="481.3" x2="438.7" y2="481.3" stroke="#b0b0b0" stroke-width="1.05"/>
<line x1="433" y1="500.5" x2="438.7" y2="500.5" stroke="#b0b0b0" stroke-width="1.05"/>
<line x1="433" y1="510.2" x2="438.7" y2="510.2" stroke="#b0b0b0" stroke-width="1.05"/>
<line x1="433" y1="519.8" x2="438.7" y2="519.8" stroke="#b0b0b0" stroke-width="1.05"/>
<line x1="433" y1="529.5" x2="438.7" y2="529.5" stroke="#b0b0b0" stroke-width="1.05"/>
<line x1="433" y1="548.7" x2="438.7" y2="548.7" stroke="#b0b0b0" stroke-width="1.05"/>
<line x1="433" y1="558.4" x2="438.7" y2="558.4" stroke="#b0b0b0" stroke-width="1.05"/>
<line x1="433" y1="568" x2="438.7" y2="568" stroke="#b0b0b0" stroke-width="1.05"/>
<line x1="433" y1="577.7" x2="438.7" y2="577.7" stroke="#b0b0b0" stroke-width="1.05"/>
<line x1="433" y1="596.9" x2="438.7" y2="596.9" stroke="#b0b0b0" stroke-width="1.05"/>
<line x1="433" y1="606.6" x2="438.7" y2="606.6" stroke="#b0b0b0" stroke-width="1.05"/>
<line x1="433" y1="616.2" x2="438.7" y2="616.2" stroke="#b0b0b0" stroke-width="1.05"/>
<line x1="433" y1="625.9" x2="438.7" y2="625.9" stroke="#b0b0b0" stroke-width="1.05"/>
<line x1="433" y1="645.1" x2="438.7" y2="645.1" stroke="#b0b0b0" stroke-width="1.05"/>
<line x1="433" y1="654.8" x2="438.7" y2="654.8" stroke="#b0b0b0" stroke-width="1.05"/>
<line x1="433" y1="664.4" x2="438.7" y2="664.4" stroke="#b0b0b0" stroke-width="1.05"/>
<line x1="433" y1="674.1" x2="438.7" y2="674.1" stroke="#b0b0b0" stroke-width="1.05"/>
<line x1="425.5" y1="684.3" x2="705" y2="684.3" stroke="#b0b0b0" stroke-width="1.05"/>
<line x1="433" y1="677.5" x2="433" y2="691.2" stroke="#b0b0b0" stroke-width="1.05"/>
<line x1="478.3" y1="677.5" x2="478.3" y2="691.2" stroke="#b0b0b0" stroke-width="1.05"/>
<line x1="523.7" y1="677.5" x2="523.7" y2="691.2" stroke="#b0b0b0" stroke-width="1.05"/>
<line x1="569" y1="677.5" x2="569" y2="691.2" stroke="#b0b0b0" stroke-width="1.05"/>
<line x1="614.3" y1="677.5" x2="614.3" y2="691.2" stroke="#b0b0b0" stroke-width="1.05"/>
<line x1="659.6" y1="677.5" x2="659.6" y2="691.2" stroke="#b0b0b0" stroke-width="1.05"/>
<line x1="705" y1="677.5" x2="705" y2="691.2" stroke="#b0b0b0" stroke-width="1.05"/>
<line x1="444.3" y1="678.7" x2="444.3" y2="684.3" stroke="#b0b0b0" stroke-width="1.05"/>
<line x1="455.7" y1="678.7" x2="455.7" y2="684.3" stroke="#b0b0b0" stroke-width="1.05"/>
<line x1="467" y1="678.7" x2="467" y2="684.3" stroke="#b0b0b0" stroke-width="1.05"/>
<line x1="489.7" y1="678.7" x2="489.7" y2="684.3" stroke="#b0b0b0" stroke-width="1.05"/>
<line x1="501" y1="678.7" x2="501" y2="684.3" stroke="#b0b0b0" stroke-width="1.05"/>
<line x1="512.3" y1="678.7" x2="512.3" y2="684.3" stroke="#b0b0b0" stroke-width="1.05"/>
<line x1="535" y1="678.7" x2="535" y2="684.3" stroke="#b0b0b0" stroke-width="1.05"/>
<line x1="546.3" y1="678.7" x2="546.3" y2="684.3" stroke="#b0b0b0" stroke-width="1.05"/>
<line x1="557.7" y1="678.7" x2="557.7" y2="684.3" stroke="#b0b0b0" stroke-width="1.05"/>
<line x1="580.3" y1="678.7" x2="580.3" y2="684.3" stroke="#b0b0b0" stroke-width="1.05"/>
<line x1="591.7" y1="678.7" x2="591.7" y2="684.3" stroke="#b0b0b0" stroke-width="1.05"/>
<line x1="603" y1="678.7" x2="603" y2="684.3" stroke="#b0b0b0" stroke-width="1.05"/>
<line x1="625.7" y1="678.7" x2="625.7" y2="684.3" stroke="#b0b0b0" stroke-width="1.05"/>
<line x1="637" y1="678.7" x2="637" y2="684.3" stroke="#b0b0b0" stroke-width="1.05"/>
<line x1="648.3" y1="678.7" x2="648.3" y2="684.3" stroke="#b0b0b0" stroke-width="1.05"/>
<line x1="671" y1="678.7" x2="671" y2="684.3" stroke="#b0b0b0" stroke-width="1.05"/>
<line x1="682.3" y1="678.7" x2="682.3" y2="684.3" stroke="#b0b0b0" stroke-width="1.05"/>
<line x1="693.6" y1="678.7" x2="693.6" y2="684.3" stroke="#b0b0b0" stroke-width="1.05"/>
<text x="408.8" y="401.7" font-size="20.2" fill="#555555" text-anchor="end">40</text>
<text x="408.8" y="449.9" font-size="20.2" fill="#555555" text-anchor="end">30</text>
<text x="408.8" y="498.1" font-size="20.2" fill="#555555" text-anchor="end">20</text>
<text x="408.8" y="546.3" font-size="20.2" fill="#555555" text-anchor="end">10</text>
<text x="408.8" y="594.5" font-size="20.2" fill="#555555" text-anchor="end">0</text>
<text x="408.8" y="642.7" font-size="20.2" fill="#555555" text-anchor="end">-10</text>
<text x="408.8" y="690.9" font-size="20.2" fill="#555555" text-anchor="end">-20</text>
<text x="433" y="722" font-size="20.2" fill="#555555" text-anchor="middle">-20</text>
<text x="478.3" y="722" font-size="20.2" fill="#555555" text-anchor="middle">0</text>
<text x="523.7" y="722" font-size="20.2" fill="#555555" text-anchor="middle">20</text>
<text x="569" y="722" font-size="20.2" fill="#555555" text-anchor="middle">40</text>
<text x="614.3" y="722" font-size="20.2" fill="#555555" text-anchor="middle">60</text>
<text x="659.6" y="722" font-size="20.2" fill="#555555" text-anchor="middle">80</text>
<text x="705" y="722" font-size="20.2" fill="#555555" text-anchor="middle">100</text>
<text x="363.5" y="539.5" font-size="20.5" fill="#555555" font-weight="bold" text-anchor="middle" textLength="151.6" lengthAdjust="spacingAndGlyphs" transform="rotate(-90 363.5 539.5)">Amplitude (µV)</text>
<text x="478.7" y="426.8" font-size="21" fill="#000" textLength="71.3" lengthAdjust="spacingAndGlyphs">b-wave</text>
<text x="461.2" y="664.2" font-size="21" fill="#000" textLength="74.6" lengthAdjust="spacingAndGlyphs">a-wave</text>
<text x="591.7" y="595" font-size="21" fill="#000" textLength="59.1" lengthAdjust="spacingAndGlyphs">PhNR</text>
<text x="599.2" y="672.5" font-size="21" fill="#555555" font-weight="bold" textLength="99.6" lengthAdjust="spacingAndGlyphs">Time (ms)</text>
<path d="M433 585.5C434.2 585.8 437.6 586.5 440 587C442.4 587.5 445.4 588.1 447.5 588.2C449.6 588.4 450.2 588.3 452.5 588C454.8 587.7 458.8 586.2 461.2 586.2C463.8 586.2 465.4 587.2 467.5 588C469.6 588.8 471.8 590.6 473.8 590.8C475.8 590.9 477.8 588.2 479.5 588.8C481.2 589.2 482.2 591.2 483.8 593.8C485.3 596.2 487.1 600.2 488.8 603.8C490.4 607.3 492.1 611.9 493.8 615C495.4 618.1 497.1 620 498.8 622.5C500.4 625 502.4 627.7 503.8 630C505.1 632.3 506 636.2 507 636.2C508 636.2 508.8 635.2 509.5 630C510.2 624.8 510.6 612.9 511.2 605C511.9 597.1 512.4 586.9 513.2 582.5C514.1 578.1 515 579.6 516.2 578.8C517.5 577.9 519.2 579.8 520.5 577.5C521.8 575.2 522.9 571.2 523.8 565C524.6 558.8 524.9 544.8 525.5 540C526.1 535.2 526.8 534.2 527.5 536.2C528.2 538.3 528.8 550 529.5 552.5C530.2 555 531.3 555 532 551.2C532.7 547.5 533.1 541.9 533.8 530C534.4 518.1 535.1 492.9 535.8 480C536.4 467.1 536.8 458.7 537.5 452.5C538.2 446.3 539.2 443 540 443C540.8 443 541.7 446.3 542.5 452.5C543.3 458.7 544 467.1 545 480C546 492.9 547.5 513.3 548.8 530C550 546.7 551.4 566.2 552.5 580C553.6 593.8 554.5 604.6 555.5 612.5C556.5 620.4 557.9 624.8 558.8 627.5C559.6 630.2 559.7 629.6 560.5 628.8C561.3 627.9 562.6 623.6 563.8 622.5C564.9 621.4 566.2 623.2 567.5 622C568.8 620.8 570 618.7 571.2 615C572.5 611.3 573.8 603.8 575 600C576.2 596.2 577.6 592.4 578.8 592C579.9 591.6 580.8 594.5 582 597.5C583.2 600.5 584.9 606.9 586.2 610C587.6 613.1 588.5 614.4 590 616.2C591.5 618.1 593.1 620 595 621.2C596.9 622.5 599.6 622.9 601.2 623.8C602.9 624.6 603.8 624.8 605 626.2C606.2 627.7 607.7 631.9 608.8 632.5C609.8 633.1 610.4 631.9 611.2 630C612.1 628.1 612.7 622.9 613.8 621.2C614.8 619.6 615.8 620 617.5 620C619.2 620 621.5 620.2 623.8 621.2C626 622.3 629 626.1 631.2 626.2C633.5 626.4 635.4 623 637.5 622C639.6 621 641.5 620.3 643.8 620.5C646 620.7 649 623.7 651.2 623C653.5 622.3 655.2 618.8 657.5 616.2C659.8 613.7 662.5 609.6 665 607.5C667.5 605.4 670 604.5 672.5 603.8C675 603 677.1 602.9 680 603.2C682.9 603.6 685.8 605.1 690 605.8C694.2 606.4 702.5 606.8 705 607" fill="none" stroke="#000" stroke-width="7.3" stroke-linecap="butt" stroke-linejoin="round"/>
</g>
<g id="chartG">
<text x="780.6" y="377.5" font-size="29.5" fill="#000" font-weight="bold">G</text>
<text x="1014" y="379.2" font-size="25" fill="#555555" font-weight="bold" text-anchor="middle" textLength="150.6" lengthAdjust="spacingAndGlyphs">LA3 at 30Hz</text>
<line x1="855.2" y1="384.5" x2="855.2" y2="684.5" stroke="#b0b0b0" stroke-width="1.05"/>
<line x1="847.8" y1="384.5" x2="861" y2="384.5" stroke="#b0b0b0" stroke-width="1.05"/>
<line x1="847.8" y1="434.5" x2="861" y2="434.5" stroke="#b0b0b0" stroke-width="1.05"/>
<line x1="847.8" y1="484.5" x2="861" y2="484.5" stroke="#b0b0b0" stroke-width="1.05"/>
<line x1="847.8" y1="534.5" x2="861" y2="534.5" stroke="#b0b0b0" stroke-width="1.05"/>
<line x1="847.8" y1="584.5" x2="861" y2="584.5" stroke="#b0b0b0" stroke-width="1.05"/>
<line x1="847.8" y1="634.5" x2="861" y2="634.5" stroke="#b0b0b0" stroke-width="1.05"/>
<line x1="847.8" y1="684.5" x2="861" y2="684.5" stroke="#b0b0b0" stroke-width="1.05"/>
<line x1="855.2" y1="394.5" x2="861" y2="394.5" stroke="#b0b0b0" stroke-width="1.05"/>
<line x1="855.2" y1="404.5" x2="861" y2="404.5" stroke="#b0b0b0" stroke-width="1.05"/>
<line x1="855.2" y1="414.5" x2="861" y2="414.5" stroke="#b0b0b0" stroke-width="1.05"/>
<line x1="855.2" y1="424.5" x2="861" y2="424.5" stroke="#b0b0b0" stroke-width="1.05"/>
<line x1="855.2" y1="444.5" x2="861" y2="444.5" stroke="#b0b0b0" stroke-width="1.05"/>
<line x1="855.2" y1="454.5" x2="861" y2="454.5" stroke="#b0b0b0" stroke-width="1.05"/>
<line x1="855.2" y1="464.5" x2="861" y2="464.5" stroke="#b0b0b0" stroke-width="1.05"/>
<line x1="855.2" y1="474.5" x2="861" y2="474.5" stroke="#b0b0b0" stroke-width="1.05"/>
<line x1="855.2" y1="494.5" x2="861" y2="494.5" stroke="#b0b0b0" stroke-width="1.05"/>
<line x1="855.2" y1="504.5" x2="861" y2="504.5" stroke="#b0b0b0" stroke-width="1.05"/>
<line x1="855.2" y1="514.5" x2="861" y2="514.5" stroke="#b0b0b0" stroke-width="1.05"/>
<line x1="855.2" y1="524.5" x2="861" y2="524.5" stroke="#b0b0b0" stroke-width="1.05"/>
<line x1="855.2" y1="544.5" x2="861" y2="544.5" stroke="#b0b0b0" stroke-width="1.05"/>
<line x1="855.2" y1="554.5" x2="861" y2="554.5" stroke="#b0b0b0" stroke-width="1.05"/>
<line x1="855.2" y1="564.5" x2="861" y2="564.5" stroke="#b0b0b0" stroke-width="1.05"/>
<line x1="855.2" y1="574.5" x2="861" y2="574.5" stroke="#b0b0b0" stroke-width="1.05"/>
<line x1="855.2" y1="594.5" x2="861" y2="594.5" stroke="#b0b0b0" stroke-width="1.05"/>
<line x1="855.2" y1="604.5" x2="861" y2="604.5" stroke="#b0b0b0" stroke-width="1.05"/>
<line x1="855.2" y1="614.5" x2="861" y2="614.5" stroke="#b0b0b0" stroke-width="1.05"/>
<line x1="855.2" y1="624.5" x2="861" y2="624.5" stroke="#b0b0b0" stroke-width="1.05"/>
<line x1="855.2" y1="644.5" x2="861" y2="644.5" stroke="#b0b0b0" stroke-width="1.05"/>
<line x1="855.2" y1="654.5" x2="861" y2="654.5" stroke="#b0b0b0" stroke-width="1.05"/>
<line x1="855.2" y1="664.5" x2="861" y2="664.5" stroke="#b0b0b0" stroke-width="1.05"/>
<line x1="855.2" y1="674.5" x2="861" y2="674.5" stroke="#b0b0b0" stroke-width="1.05"/>
<line x1="848.2" y1="684.3" x2="1142" y2="684.3" stroke="#b0b0b0" stroke-width="1.05"/>
<line x1="855.2" y1="677.5" x2="855.2" y2="691.2" stroke="#b0b0b0" stroke-width="1.05"/>
<line x1="912.6" y1="677.5" x2="912.6" y2="691.2" stroke="#b0b0b0" stroke-width="1.05"/>
<line x1="970" y1="677.5" x2="970" y2="691.2" stroke="#b0b0b0" stroke-width="1.05"/>
<line x1="1027.3" y1="677.5" x2="1027.3" y2="691.2" stroke="#b0b0b0" stroke-width="1.05"/>
<line x1="1084.7" y1="677.5" x2="1084.7" y2="691.2" stroke="#b0b0b0" stroke-width="1.05"/>
<line x1="1142" y1="677.5" x2="1142" y2="691.2" stroke="#b0b0b0" stroke-width="1.05"/>
<line x1="869.6" y1="678.7" x2="869.6" y2="684.3" stroke="#b0b0b0" stroke-width="1.05"/>
<line x1="883.9" y1="678.7" x2="883.9" y2="684.3" stroke="#b0b0b0" stroke-width="1.05"/>
<line x1="898.3" y1="678.7" x2="898.3" y2="684.3" stroke="#b0b0b0" stroke-width="1.05"/>
<line x1="926.9" y1="678.7" x2="926.9" y2="684.3" stroke="#b0b0b0" stroke-width="1.05"/>
<line x1="941.3" y1="678.7" x2="941.3" y2="684.3" stroke="#b0b0b0" stroke-width="1.05"/>
<line x1="955.6" y1="678.7" x2="955.6" y2="684.3" stroke="#b0b0b0" stroke-width="1.05"/>
<line x1="984.3" y1="678.7" x2="984.3" y2="684.3" stroke="#b0b0b0" stroke-width="1.05"/>
<line x1="998.6" y1="678.7" x2="998.6" y2="684.3" stroke="#b0b0b0" stroke-width="1.05"/>
<line x1="1013" y1="678.7" x2="1013" y2="684.3" stroke="#b0b0b0" stroke-width="1.05"/>
<line x1="1041.6" y1="678.7" x2="1041.6" y2="684.3" stroke="#b0b0b0" stroke-width="1.05"/>
<line x1="1056" y1="678.7" x2="1056" y2="684.3" stroke="#b0b0b0" stroke-width="1.05"/>
<line x1="1070.3" y1="678.7" x2="1070.3" y2="684.3" stroke="#b0b0b0" stroke-width="1.05"/>
<line x1="1099" y1="678.7" x2="1099" y2="684.3" stroke="#b0b0b0" stroke-width="1.05"/>
<line x1="1113.3" y1="678.7" x2="1113.3" y2="684.3" stroke="#b0b0b0" stroke-width="1.05"/>
<line x1="1127.7" y1="678.7" x2="1127.7" y2="684.3" stroke="#b0b0b0" stroke-width="1.05"/>
<text x="832.5" y="391.7" font-size="20.2" fill="#555555" text-anchor="end">40</text>
<text x="832.5" y="441.7" font-size="20.2" fill="#555555" text-anchor="end">30</text>
<text x="832.5" y="491.7" font-size="20.2" fill="#555555" text-anchor="end">20</text>
<text x="832.5" y="541.7" font-size="20.2" fill="#555555" text-anchor="end">10</text>
<text x="832.5" y="591.7" font-size="20.2" fill="#555555" text-anchor="end">0</text>
<text x="832.5" y="641.7" font-size="20.2" fill="#555555" text-anchor="end">-10</text>
<text x="832.5" y="691.7" font-size="20.2" fill="#555555" text-anchor="end">-20</text>
<text x="855.2" y="722" font-size="20.2" fill="#555555" text-anchor="middle">0</text>
<text x="912.6" y="722" font-size="20.2" fill="#555555" text-anchor="middle">20</text>
<text x="970" y="722" font-size="20.2" fill="#555555" text-anchor="middle">40</text>
<text x="1027.3" y="722" font-size="20.2" fill="#555555" text-anchor="middle">60</text>
<text x="1084.7" y="722" font-size="20.2" fill="#555555" text-anchor="middle">80</text>
<text x="1142" y="722" font-size="20.2" fill="#555555" text-anchor="middle">100</text>
<text x="791.5" y="534.5" font-size="20.5" fill="#555555" font-weight="bold" text-anchor="middle" textLength="151.6" lengthAdjust="spacingAndGlyphs" transform="rotate(-90 791.5 534.5)">Amplitude (µV)</text>
<text x="1032.7" y="673" font-size="21" fill="#555555" font-weight="bold" textLength="99.3" lengthAdjust="spacingAndGlyphs">Time (ms)</text>
<clipPath id="clipG"><rect x="855.3" y="380" width="287.3" height="310"/></clipPath><g clip-path="url(#clipG)">
<path d="M852 617.5C852.7 617.9 855.2 619.5 856.2 620C857.3 620.5 857.1 621.1 858.2 620.5C859.4 619.9 861.8 617.8 863.2 616.2C864.7 614.7 865.9 612.1 867 611.2C868.1 610.4 869.1 610.4 870 611.2C870.9 612.1 871.5 614 872.5 616.2C873.5 618.5 874.6 622.2 875.8 624.5C876.9 626.8 878.4 628.8 879.5 630C880.6 631.2 881.5 630.8 882.5 632C883.5 633.2 884.6 635.8 885.8 637.5C886.9 639.2 888.5 642.3 889.5 642.5C890.5 642.7 891.2 641.2 892 638.8C892.8 636.2 893.7 631.9 894.5 627.5C895.3 623.1 896.2 616.2 897 612.5C897.8 608.8 898.5 607.1 899.5 605C900.5 602.9 902 602.1 903.2 600C904.5 597.9 905.8 594.7 907 592.5C908.2 590.3 909.7 588.5 910.8 587C911.8 585.5 912.4 586.2 913.2 583.8C914.1 581.3 915 579.4 915.8 572.5C916.5 565.6 917.1 552.9 917.8 542.5C918.4 532.1 918.9 520.4 919.5 510C920.1 499.6 920.8 488.1 921.5 480C922.2 471.9 923.2 465 924 461.2C924.8 457.5 925.5 457.5 926.2 457.5C927 457.5 927.6 457.9 928.2 461.2C928.9 464.6 929.4 472.3 930 477.5C930.6 482.7 931.2 487.9 932 492.5C932.8 497.1 933.6 500.8 934.5 505C935.4 509.2 936.5 512.1 937.5 517.5C938.5 522.9 939.8 529.6 940.8 537.5C941.7 545.4 942.4 556.2 943.2 565C944.1 573.8 944.9 583.8 945.8 590C946.6 596.2 947.2 599.4 948.2 602.5C949.3 605.6 950.8 606.5 952 608.8C953.2 611 954.5 614.3 955.8 616.2C957 618.2 958 620.5 959.5 620.5C961 620.5 963 617.8 964.5 616.2C966 614.7 967.1 612.1 968.2 611.2C969.4 610.4 970.3 610.4 971.2 611.2C972.2 612.1 972.8 614 973.8 616.2C974.7 618.5 975.8 622.2 977 624.5C978.2 626.8 979.6 628.8 980.8 630C981.9 631.2 982.7 630.8 983.8 632C984.8 633.2 985.8 635.8 987 637.5C988.2 639.2 989.7 642.3 990.8 642.5C991.8 642.7 992.4 641.2 993.2 638.8C994.1 636.2 994.9 631.9 995.8 627.5C996.6 623.1 997.4 616.2 998.2 612.5C999.1 608.8 999.7 607.1 1000.8 605C1001.8 602.9 1003.2 602.1 1004.5 600C1005.8 597.9 1007 594.7 1008.2 592.5C1009.5 590.3 1011 588.5 1012 587C1013 585.5 1013.7 586.2 1014.5 583.8C1015.3 581.3 1016.2 579.4 1017 572.5C1017.8 565.6 1018.4 552.9 1019 542.5C1019.6 532.1 1020.1 520.4 1020.8 510C1021.4 499.6 1022 488.1 1022.8 480C1023.5 471.9 1024.5 465 1025.2 461.2C1026 457.5 1026.8 457.5 1027.5 457.5C1028.2 457.5 1028.9 457.9 1029.5 461.2C1030.1 464.6 1030.6 472.3 1031.2 477.5C1031.9 482.7 1032.5 487.9 1033.2 492.5C1034 497.1 1034.8 500.8 1035.8 505C1036.7 509.2 1037.7 512.1 1038.8 517.5C1039.8 522.9 1041 529.6 1042 537.5C1043 545.4 1043.7 556.2 1044.5 565C1045.3 573.8 1046.2 583.8 1047 590C1047.8 596.2 1048.5 599.4 1049.5 602.5C1050.5 605.6 1052 606.5 1053.2 608.8C1054.5 611 1055.8 614.3 1057 616.2C1058.2 618.2 1059.3 620.5 1060.8 620.5C1062.2 620.5 1064.3 617.8 1065.8 616.2C1067.2 614.7 1068.4 612.1 1069.5 611.2C1070.6 610.4 1071.6 610.4 1072.5 611.2C1073.4 612.1 1074 614 1075 616.2C1076 618.5 1077.1 622.2 1078.2 624.5C1079.4 626.8 1080.9 628.8 1082 630C1083.1 631.2 1084 630.8 1085 632C1086 633.2 1087.1 635.8 1088.2 637.5C1089.4 639.2 1091 642.3 1092 642.5C1093 642.7 1093.7 641.2 1094.5 638.8C1095.3 636.2 1096.2 631.9 1097 627.5C1097.8 623.1 1098.7 616.2 1099.5 612.5C1100.3 608.8 1101 607.1 1102 605C1103 602.9 1104.5 602.1 1105.8 600C1107 597.9 1108.2 594.7 1109.5 592.5C1110.8 590.3 1112.2 588.5 1113.2 587C1114.3 585.5 1114.9 586.2 1115.8 583.8C1116.6 581.3 1117.5 579.4 1118.2 572.5C1119 565.6 1119.6 552.9 1120.2 542.5C1120.9 532.1 1121.4 520.4 1122 510C1122.6 499.6 1123.2 488.1 1124 480C1124.8 471.9 1125.7 465 1126.5 461.2C1127.3 457.5 1128 457.5 1128.8 457.5C1129.5 457.5 1130.1 457.9 1130.8 461.2C1131.4 464.6 1131.9 472.3 1132.5 477.5C1133.1 482.7 1133.8 487.9 1134.5 492.5C1135.2 497.1 1136.1 500.8 1137 505C1137.9 509.2 1139 512.1 1140 517.5C1141 522.9 1142.3 529.6 1143.2 537.5C1144.2 545.4 1144.9 556.2 1145.8 565C1146.6 573.8 1147.4 583.8 1148.2 590C1149.1 596.2 1149.7 599.4 1150.8 602.5C1151.8 605.6 1153.9 607.7 1154.5 608.8" fill="none" stroke="#000" stroke-width="7.1" stroke-linecap="butt" stroke-linejoin="round"/>
</g>
</g>
<g id="chartH">
<text x="123.4" y="782" font-size="25.7" fill="#555555" font-weight="bold" text-anchor="middle" textLength="100.6" lengthAdjust="spacingAndGlyphs">ON-OFF</text>
<text x="38.3" y="836" font-size="21" fill="#000" textLength="34" lengthAdjust="spacingAndGlyphs">ON</text>
<text x="219.7" y="901.6" font-size="21" fill="#000" textLength="41.6" lengthAdjust="spacingAndGlyphs">OFF</text>
<text x="209.7" y="1061" font-size="20.5" fill="#555555" font-weight="bold" textLength="98.6" lengthAdjust="spacingAndGlyphs">Time (ms)</text>
<path d="M-2 998C-1.7 998.2 -0.8 998.7 0 999C0.8 999.3 2 1000.7 3 1000C4 999.3 5 997 6 995C7 993 8 989.3 9 988C10 986.7 11 986.3 12 987C13 987.7 14 990.8 15 992C16 993.2 17.2 993 18 994C18.8 995 19.3 998.5 20 998C20.7 997.5 21.3 993.5 22 991C22.7 988.5 23.3 983.7 24 983C24.7 982.3 25.3 985 26 987C26.7 989 27.3 992.3 28 995C28.7 997.7 29.3 999 30 1003C30.7 1007 31.3 1014.3 32 1019C32.7 1023.7 33.3 1026.7 34 1031C34.7 1035.3 35.3 1041.2 36 1045C36.7 1048.8 37.4 1053 38 1054C38.6 1055 39.1 1055.5 39.6 1051C40.1 1046.5 40.6 1036.3 41 1027C41.4 1017.7 41.7 1005.7 42 995C42.3 984.3 42.7 970.7 43 963C43.3 955.3 43.6 951 44 949C44.4 947 45.1 948 45.6 951C46.1 954 46.4 964 47 967C47.6 970 48.4 971.7 49 969C49.6 966.3 49.8 958.7 50.4 951C51 943.3 51.7 932.7 52.4 923C53.1 913.3 53.7 901.7 54.4 893C55.1 884.3 55.8 878.2 56.4 871C57 863.8 57.5 850 58 850C58.5 850 58.9 863.2 59.6 871C60.3 878.8 61.3 886.3 62 897C62.7 907.7 63.3 922.7 64 935C64.7 947.3 65.3 959 66 971C66.7 983 67.3 998.7 68 1007C68.7 1015.3 69.3 1016.7 70 1021C70.7 1025.3 71.2 1030.3 72 1033C72.8 1035.7 74.1 1035.7 75 1037C75.9 1038.3 76.8 1041.7 77.6 1041C78.4 1040.3 79 1037.7 79.6 1033C80.2 1028.3 80.4 1018 81 1013C81.6 1008 82.3 1004 83 1003C83.7 1002 84.3 1006 85 1007C85.7 1008 86.3 1006 87 1009C87.7 1012 88.3 1020.3 89 1025C89.7 1029.7 90.2 1034.7 91 1037C91.8 1039.3 93 1038 94 1039C95 1040 96.2 1041.8 97 1043C97.8 1044.2 98.2 1046.3 99 1046C99.8 1045.7 100.8 1043.5 101.6 1041C102.4 1038.5 102.9 1033.3 103.6 1031C104.3 1028.7 105.1 1028.5 106 1027C106.9 1025.5 108.2 1023.1 109 1022C109.8 1020.9 110.3 1019.8 111 1020.6C111.7 1021.4 112.3 1025.3 113 1027C113.7 1028.7 114.2 1030.5 115 1031C115.8 1031.5 117.2 1028.7 118 1030C118.8 1031.3 119.3 1036.2 120 1039C120.7 1041.8 121.7 1046.3 122.4 1047C123.1 1047.7 123.6 1044.7 124.4 1043C125.2 1041.3 126.1 1039 127 1037C127.9 1035 129.2 1032.3 130 1031C130.8 1029.7 131.3 1028.5 132 1029C132.7 1029.5 133.6 1033.8 134.4 1034C135.2 1034.2 136.1 1031.8 137 1030C137.9 1028.2 139 1025 140 1023C141 1021 142 1019.7 143 1018C144 1016.3 145.2 1014.5 146 1013C146.8 1011.5 147.3 1008.3 148 1009C148.7 1009.7 149.3 1014.8 150 1017C150.7 1019.2 151.2 1021.5 152 1022C152.8 1022.5 154 1020.2 155 1020C156 1019.8 157.2 1021.8 158 1021C158.8 1020.2 159.2 1016.7 160 1015C160.8 1013.3 162.2 1010.6 163 1010.6C163.8 1010.6 164.2 1013.1 165 1015C165.8 1016.9 166.8 1022 167.6 1022C168.4 1022 169.2 1017.8 170 1015C170.8 1012.2 171.7 1006.7 172.4 1005C173.1 1003.3 173.8 1003 174.4 1005C175 1007 175.2 1012.7 176 1017C176.8 1021.3 178.2 1029.7 179 1031C179.8 1032.3 180.2 1027.3 181 1025C181.8 1022.7 182.8 1019.3 184 1017C185.2 1014.7 186.8 1013 188 1011C189.2 1009 190 1006.8 191 1005C192 1003.2 193 999.7 194 1000C195 1000.3 196 1007.2 197 1007C198 1006.8 199 1001 200 999C201 997 202.2 994 203 995C203.8 996 204.2 1001 205 1005C205.8 1009 207.2 1016.3 208 1019C208.8 1021.7 209.3 1022.3 210 1021C210.7 1019.7 211.3 1014.5 212 1011C212.7 1007.5 213.6 1001.7 214.4 1000C215.2 998.3 216.1 1000.4 217 1000.6C217.9 1000.8 219 1002.3 220 1001C221 999.7 222 995.3 223 993C224 990.7 225.2 988.7 226 987C226.8 985.3 227.4 987 228 983C228.6 979 229.2 972.3 229.6 963C230 953.7 230.2 935.8 230.6 927C231 918.2 231.5 910 232 910C232.5 910 233.1 920.8 233.6 927C234.1 933.2 234.4 941 235 947C235.6 953 236.2 959.3 237 963C237.8 966.7 239 967.8 240 969C241 970.2 242 970 243 970C244 970 245.2 966.5 246 969C246.8 971.5 247.3 982.2 248 985C248.7 987.8 249.3 986.7 250 986C250.7 985.3 251.6 984.2 252.4 981C253.2 977.8 254.1 969.7 255 967C255.9 964.3 257 965.8 258 965C259 964.2 260 962.4 261 962C262 961.6 263 961.8 264 962.6C265 963.4 266.2 965.6 267 967C267.8 968.4 268.3 968 269 971C269.7 974 270.3 982.3 271 985C271.7 987.7 272.3 986 273 987C273.7 988 274.3 989.3 275 991C275.7 992.7 276.3 996.7 277 997C277.7 997.3 278.2 993.3 279 993C279.8 992.7 280.9 992.3 281.6 995C282.3 997.7 282.8 1006.7 283 1009" fill="none" stroke="#000" stroke-width="6.7" stroke-linecap="butt" stroke-linejoin="round"/>
<line x1="0.6" y1="796" x2="0.6" y2="1084" stroke="#e4e4e4" stroke-width="2" stroke-dasharray="1.5 3.9"/>
<defs><pattern id="hatch" width="8.85" height="12" patternUnits="userSpaceOnUse" patternTransform="translate(24.2 1073)"><path d="M0 8.6 L6.2 0 L8.9 0 L2.7 8.6 Z M-8.85 8.6 L-2.65 0 L0.05 0 L-6.15 8.6Z M8.85 8.6 L15.05 0 L17.75 0 L11.55 8.6Z" fill="#000"/></pattern><clipPath id="barclip"><rect x="23" y="1073.4" width="193.5" height="8.2"/></clipPath></defs>
<rect x="21.6" y="1072.15" width="196.2" height="10.6" fill="#fff"/>
<rect x="21.6" y="1073" width="196.2" height="9" fill="url(#hatch)" clip-path="url(#barclip)"/>
<rect x="21.6" y="1072.15" width="196.2" height="10.6" fill="none" stroke="#3a578a" stroke-width="2.5"/>
</g>
<g id="chartI">
<text x="345.4" y="761.2" font-size="29.5" fill="#000" font-weight="bold">I</text>
<text x="573.8" y="781.2" font-size="25.5" fill="#555555" font-weight="bold" text-anchor="middle" textLength="75.1" lengthAdjust="spacingAndGlyphs">PERG</text>
<line x1="430" y1="795" x2="430" y2="1084" stroke="#b0b0b0" stroke-width="1.05"/>
<line x1="430" y1="795" x2="435.5" y2="795" stroke="#b0b0b0" stroke-width="1.05"/>
<line x1="422.5" y1="823" x2="435.5" y2="823" stroke="#b0b0b0" stroke-width="1.05"/>
<line x1="430" y1="851.3" x2="435.5" y2="851.3" stroke="#b0b0b0" stroke-width="1.05"/>
<line x1="422.5" y1="879.6" x2="435.5" y2="879.6" stroke="#b0b0b0" stroke-width="1.05"/>
<line x1="430" y1="907.9" x2="435.5" y2="907.9" stroke="#b0b0b0" stroke-width="1.05"/>
<line x1="422.5" y1="936.2" x2="435.5" y2="936.2" stroke="#b0b0b0" stroke-width="1.05"/>
<line x1="430" y1="964.5" x2="435.5" y2="964.5" stroke="#b0b0b0" stroke-width="1.05"/>
<line x1="422.5" y1="992.8" x2="435.5" y2="992.8" stroke="#b0b0b0" stroke-width="1.05"/>
<line x1="430" y1="1021.1" x2="435.5" y2="1021.1" stroke="#b0b0b0" stroke-width="1.05"/>
<line x1="422.5" y1="1049.4" x2="435.5" y2="1049.4" stroke="#b0b0b0" stroke-width="1.05"/>
<line x1="430" y1="1077.7" x2="435.5" y2="1077.7" stroke="#b0b0b0" stroke-width="1.05"/>
<text x="406.2" y="830.2" font-size="20.2" fill="#555555" text-anchor="end">12</text>
<text x="406.2" y="886.8" font-size="20.2" fill="#555555" text-anchor="end">8</text>
<text x="406.2" y="943.4" font-size="20.2" fill="#555555" text-anchor="end">4</text>
<text x="406.2" y="1000" font-size="20.2" fill="#555555" text-anchor="end">0</text>
<text x="406.2" y="1056.6" font-size="20.2" fill="#555555" text-anchor="end">-4</text>
<text x="372.5" y="950.5" font-size="20.5" fill="#555555" font-weight="bold" text-anchor="middle" textLength="152.6" lengthAdjust="spacingAndGlyphs" transform="rotate(-90 372.5 950.5)">Amplitude (µV)</text>
<text x="475.7" y="828.8" font-size="22" fill="#000" textLength="42.6" lengthAdjust="spacingAndGlyphs">P50</text>
<text x="549.7" y="1090.5" font-size="22" fill="#000" textLength="42.6" lengthAdjust="spacingAndGlyphs">N95</text>
<text x="624.7" y="1097" font-size="21" fill="#555555" font-weight="bold" textLength="99.1" lengthAdjust="spacingAndGlyphs">Time (ms)</text>
<path d="M430.5 993.5C430.9 992.4 432 988.4 433 986.8C434 985.1 435.1 983.8 436.2 983.5C437.4 983.2 438.8 983.8 440 985C441.2 986.2 442.6 988.7 443.8 990.5C444.9 992.3 446 995.4 447 996C448 996.6 449.1 994.8 450 994.2C450.9 993.7 451.6 991.9 452.5 992.5C453.4 993.1 454.5 997 455.5 998C456.5 999 457.8 999 458.8 998.5C459.7 998 460.3 995.3 461.2 995C462.2 994.7 463.5 997.9 464.5 996.8C465.5 995.6 466.6 992 467.5 988C468.4 984 469.2 978.8 470 973C470.8 967.2 471.7 961.3 472.5 953C473.3 944.7 474.2 932.2 475 923C475.8 913.8 476.4 905.1 477 898C477.6 890.9 478 884.7 478.8 880.5C479.5 876.3 480.2 875.3 481.2 873C482.3 870.7 483.9 869.2 485 866.8C486.1 864.2 487.2 861.1 488 858C488.8 854.9 489.3 850.4 490 848C490.7 845.6 491.2 844.2 492 843.5C492.8 842.8 493.8 842.5 494.5 843.5C495.2 844.5 495.5 845.6 496.2 849.2C497 852.9 497.9 859.5 498.8 865.5C499.6 871.5 500.4 878.8 501.2 885.5C502.1 892.2 502.9 898.8 503.8 905.5C504.6 912.2 505.4 919.7 506.2 925.5C507.1 931.3 507.7 936.3 508.8 940.5C509.8 944.7 511.2 947.2 512.5 950.5C513.8 953.8 515 956.5 516.2 960.5C517.5 964.5 518.5 969.5 520 974.2C521.5 979 523.5 984 525 989.2C526.5 994.5 527.5 1000.3 528.8 1005.5C530 1010.7 531.2 1015.9 532.5 1020.5C533.8 1025.1 535 1029.2 536.2 1033C537.5 1036.8 538.5 1039.9 540 1043C541.5 1046.1 543.3 1049.5 545 1051.8C546.7 1054 548.4 1055.1 550 1056.8C551.6 1058.4 553.2 1060.4 554.5 1061.8C555.8 1063.1 556.9 1064.6 558 1065C559.1 1065.4 560.1 1065 561.2 1064.2C562.4 1063.5 563.9 1061 565 1060.5C566.1 1060 567 1060.1 568 1061C569 1061.9 570.3 1064.8 571.2 1066C572.2 1067.2 572.7 1068.1 573.8 1068C574.8 1067.9 576.1 1066.4 577.5 1065.5C578.9 1064.6 580.8 1063.5 582 1062.5C583.2 1061.5 583.9 1061.2 585 1059.2C586.1 1057.2 587.5 1053.8 588.8 1050.5C590 1047.2 591.2 1042.4 592.5 1039.2C593.8 1036.1 594.8 1032.9 596.2 1031.8C597.7 1030.6 599.8 1033 601.2 1032.5C602.7 1032 603.5 1029.2 605 1028.5C606.5 1027.8 608.3 1029.6 610 1028.5C611.7 1027.4 613.5 1023.9 615 1021.8C616.5 1019.6 617.1 1016.5 618.8 1015.5C620.4 1014.5 623.1 1017 625 1016C626.9 1015 628.1 1010 630 1009.2C631.9 1008.5 634.4 1012.8 636.2 1011.8C638.1 1010.7 639.8 1005 641.2 1003C642.7 1001 643.5 1000.6 645 1000C646.5 999.4 648.5 1000.4 650 999.2C651.5 998.1 652.5 995.1 653.8 993C655 990.9 656 988 657.5 986.8C659 985.5 660.4 984.9 662.5 985.5C664.6 986.1 667.7 990.1 670 990.5C672.3 990.9 674.4 988.6 676.2 988C678.1 987.4 679.6 986.1 681.2 986.8C682.9 987.4 684.8 989.8 686.2 991.8C687.7 993.7 688.8 998.1 690 998.5C691.2 998.9 692.5 996.4 693.8 994.2C695 992.1 696.5 987 697.5 985.5C698.5 984 699 983.3 700 985C701 986.7 702.5 992.4 703.8 995.5C705 998.6 706.2 1002.9 707.5 1003.5C708.8 1004.1 710 1000.8 711.2 999.2C712.5 997.7 713.8 995.4 715 994.2C716.2 993.1 718.1 992.8 718.8 992.5" fill="none" stroke="#000" stroke-width="7.3" stroke-linecap="round" stroke-linejoin="round"/>
</g>
<g id="chartJ">
<text x="803.3" y="761.8" font-size="29.5" fill="#000" font-weight="bold">J</text>
<text x="997.8" y="782.5" font-size="25" fill="#555555" font-weight="bold" text-anchor="middle" textLength="105.1" lengthAdjust="spacingAndGlyphs">ssPERG</text>
<line x1="805.8" y1="801.5" x2="805.8" y2="1084" stroke="#b0b0b0" stroke-width="1.05"/>
<line x1="799" y1="801.5" x2="811.5" y2="801.5" stroke="#b0b0b0" stroke-width="1.05"/>
<line x1="805.8" y1="810" x2="811.5" y2="810" stroke="#b0b0b0" stroke-width="1.05"/>
<line x1="805.8" y1="818.4" x2="811.5" y2="818.4" stroke="#b0b0b0" stroke-width="1.05"/>
<line x1="805.8" y1="826.9" x2="811.5" y2="826.9" stroke="#b0b0b0" stroke-width="1.05"/>
<line x1="805.8" y1="835.4" x2="811.5" y2="835.4" stroke="#b0b0b0" stroke-width="1.05"/>
<line x1="799" y1="843.9" x2="811.5" y2="843.9" stroke="#b0b0b0" stroke-width="1.05"/>
<line x1="805.8" y1="852.3" x2="811.5" y2="852.3" stroke="#b0b0b0" stroke-width="1.05"/>
<line x1="805.8" y1="860.8" x2="811.5" y2="860.8" stroke="#b0b0b0" stroke-width="1.05"/>
<line x1="805.8" y1="869.3" x2="811.5" y2="869.3" stroke="#b0b0b0" stroke-width="1.05"/>
<line x1="805.8" y1="877.7" x2="811.5" y2="877.7" stroke="#b0b0b0" stroke-width="1.05"/>
<line x1="799" y1="886.2" x2="811.5" y2="886.2" stroke="#b0b0b0" stroke-width="1.05"/>
<line x1="805.8" y1="894.7" x2="811.5" y2="894.7" stroke="#b0b0b0" stroke-width="1.05"/>
<line x1="805.8" y1="903.1" x2="811.5" y2="903.1" stroke="#b0b0b0" stroke-width="1.05"/>
<line x1="805.8" y1="911.6" x2="811.5" y2="911.6" stroke="#b0b0b0" stroke-width="1.05"/>
<line x1="805.8" y1="920.1" x2="811.5" y2="920.1" stroke="#b0b0b0" stroke-width="1.05"/>
<line x1="799" y1="928.5" x2="811.5" y2="928.5" stroke="#b0b0b0" stroke-width="1.05"/>
<line x1="805.8" y1="937" x2="811.5" y2="937" stroke="#b0b0b0" stroke-width="1.05"/>
<line x1="805.8" y1="945.5" x2="811.5" y2="945.5" stroke="#b0b0b0" stroke-width="1.05"/>
<line x1="805.8" y1="954" x2="811.5" y2="954" stroke="#b0b0b0" stroke-width="1.05"/>
<line x1="805.8" y1="962.4" x2="811.5" y2="962.4" stroke="#b0b0b0" stroke-width="1.05"/>
<line x1="799" y1="970.9" x2="811.5" y2="970.9" stroke="#b0b0b0" stroke-width="1.05"/>
<line x1="805.8" y1="979.4" x2="811.5" y2="979.4" stroke="#b0b0b0" stroke-width="1.05"/>
<line x1="805.8" y1="987.8" x2="811.5" y2="987.8" stroke="#b0b0b0" stroke-width="1.05"/>
<line x1="805.8" y1="996.3" x2="811.5" y2="996.3" stroke="#b0b0b0" stroke-width="1.05"/>
<line x1="805.8" y1="1004.8" x2="811.5" y2="1004.8" stroke="#b0b0b0" stroke-width="1.05"/>
<line x1="799" y1="1013.2" x2="811.5" y2="1013.2" stroke="#b0b0b0" stroke-width="1.05"/>
<line x1="805.8" y1="1021.7" x2="811.5" y2="1021.7" stroke="#b0b0b0" stroke-width="1.05"/>
<line x1="805.8" y1="1030.2" x2="811.5" y2="1030.2" stroke="#b0b0b0" stroke-width="1.05"/>
<line x1="805.8" y1="1038.7" x2="811.5" y2="1038.7" stroke="#b0b0b0" stroke-width="1.05"/>
<line x1="805.8" y1="1047.1" x2="811.5" y2="1047.1" stroke="#b0b0b0" stroke-width="1.05"/>
<line x1="799" y1="1055.6" x2="811.5" y2="1055.6" stroke="#b0b0b0" stroke-width="1.05"/>
<line x1="805.8" y1="1064.1" x2="811.5" y2="1064.1" stroke="#b0b0b0" stroke-width="1.05"/>
<line x1="805.8" y1="1072.5" x2="811.5" y2="1072.5" stroke="#b0b0b0" stroke-width="1.05"/>
<line x1="805.8" y1="1081" x2="811.5" y2="1081" stroke="#b0b0b0" stroke-width="1.05"/>
<line x1="805.8" y1="1089.5" x2="811.5" y2="1089.5" stroke="#b0b0b0" stroke-width="1.05"/>
<text x="785.4" y="806.7" font-size="17.4" fill="#555555" font-weight="bold" text-anchor="end">6</text>
<text x="785.4" y="849.1" font-size="17.4" fill="#555555" font-weight="bold" text-anchor="end">4</text>
<text x="785.4" y="891.4" font-size="17.4" fill="#555555" font-weight="bold" text-anchor="end">2</text>
<text x="785.4" y="933.8" font-size="17.4" fill="#555555" font-weight="bold" text-anchor="end">0</text>
<text x="785.4" y="976.1" font-size="17.4" fill="#555555" font-weight="bold" text-anchor="end">-2</text>
<text x="785.4" y="1018.5" font-size="17.4" fill="#555555" font-weight="bold" text-anchor="end">-4</text>
<text x="785.4" y="1060.8" font-size="17.4" fill="#555555" font-weight="bold" text-anchor="end">-6</text>
<text x="752.5" y="950.5" font-size="20.5" fill="#555555" font-weight="bold" text-anchor="middle" textLength="152.6" lengthAdjust="spacingAndGlyphs" transform="rotate(-90 752.5 950.5)">Amplitude (µV)</text>
<text x="1085.7" y="1096.5" font-size="21" fill="#555555" font-weight="bold" textLength="98.6" lengthAdjust="spacingAndGlyphs">Time (ms)</text>
<path d="M806.5 921.8C806.8 924.5 807.5 933.2 808.2 938C809 942.8 809.8 947 810.8 950.5C811.7 954 813 957.4 814 959.2C815 961.1 815.9 961.2 817 961.8C818.1 962.2 819.6 962.1 820.8 962.2C821.9 962.4 822.8 961.8 824 962.5C825.2 963.2 826.8 965 828.2 966.8C829.7 968.5 831.2 970.3 832.5 973C833.8 975.7 834.7 978.8 835.8 983C836.8 987.2 838 993.4 839 998C840 1002.6 841 1007.2 842 1010.5C843 1013.8 844.1 1015.5 845 1018C845.9 1020.5 846.5 1023.5 847.5 1025.5C848.5 1027.5 849.8 1029.5 850.8 1030C851.7 1030.5 852.5 1030.5 853.2 1028.5C854 1026.5 854.4 1024.8 855 1018C855.6 1011.2 856.3 998 857 988C857.7 978 858.4 967.2 859 958C859.6 948.8 860 939 860.8 933C861.5 927 862.3 924.8 863.2 921.8C864.2 918.8 865.5 917.7 866.5 915C867.5 912.3 868.6 910 869.5 905.5C870.4 901 871.2 894.2 872 888C872.8 881.8 873.7 874.1 874.5 868.5C875.3 862.9 876.1 857.7 877 854.2C877.9 850.8 879.2 849.2 880 848C880.8 846.8 881.2 846.4 882 846.8C882.8 847.1 883.6 848.5 884.5 850C885.4 851.5 886.6 854 887.5 856C888.4 858 889 860.2 890 861.8C891 863.2 892.1 863.9 893.2 865C894.4 866.1 895.8 866.8 897 868.5C898.2 870.2 899.6 872.5 900.8 875.5C901.9 878.5 903 883.2 904 886.8C905 890.3 906 894.1 907 896.8C908 899.4 909 901.5 910 902.5C911 903.5 912.2 903.8 913.2 903C914.3 902.2 915.3 899.6 916.2 898C917.2 896.4 917.9 894.2 918.8 893.5C919.6 892.8 920.5 892.5 921.5 893.5C922.5 894.5 923.5 896.4 924.5 899.2C925.5 902.1 926.5 906.5 927.5 910.5C928.5 914.5 929.7 918.4 930.8 923C931.8 927.6 933 933.4 934 938C935 942.6 936 947 937 950.5C938 954 939.1 957.4 940 959.2C940.9 961.1 941.5 961.2 942.5 961.8C943.5 962.2 945.1 962.1 946.2 962.2C947.4 962.4 948.2 961.8 949.5 962.5C950.8 963.2 952.3 965 953.8 966.8C955.2 968.5 956.8 970.3 958 973C959.2 975.7 960.2 978.8 961.2 983C962.3 987.2 963.5 993.4 964.5 998C965.5 1002.6 966.5 1007.2 967.5 1010.5C968.5 1013.8 969.6 1015.5 970.5 1018C971.4 1020.5 972 1023.5 973 1025.5C974 1027.5 975.3 1029.5 976.2 1030C977.2 1030.5 978 1030.5 978.8 1028.5C979.5 1026.5 979.9 1024.8 980.5 1018C981.1 1011.2 981.8 998 982.5 988C983.2 978 983.9 967.2 984.5 958C985.1 948.8 985.5 939 986.2 933C987 927 987.8 924.8 988.8 921.8C989.7 918.8 991 917.7 992 915C993 912.3 994.1 910 995 905.5C995.9 901 996.7 894.2 997.5 888C998.3 881.8 999.2 874.1 1000 868.5C1000.8 862.9 1001.6 857.7 1002.5 854.2C1003.4 850.8 1004.7 849.2 1005.5 848C1006.3 846.8 1006.8 846.4 1007.5 846.8C1008.2 847.1 1009.1 848.5 1010 850C1010.9 851.5 1012.1 854 1013 856C1013.9 858 1014.5 860.2 1015.5 861.8C1016.5 863.2 1017.6 863.9 1018.8 865C1019.9 866.1 1021.2 866.8 1022.5 868.5C1023.8 870.2 1025.1 872.5 1026.2 875.5C1027.4 878.5 1028.5 883.2 1029.5 886.8C1030.5 890.3 1031.5 894.1 1032.5 896.8C1033.5 899.4 1034.5 901.5 1035.5 902.5C1036.5 903.5 1037.7 903.8 1038.8 903C1039.8 902.2 1040.8 899.6 1041.8 898C1042.7 896.4 1043.4 894.2 1044.2 893.5C1045.1 892.8 1046 892.5 1047 893.5C1048 894.5 1049 896.4 1050 899.2C1051 902.1 1052 906.5 1053 910.5C1054 914.5 1055.2 918.4 1056.2 923C1057.3 927.6 1058.5 933.4 1059.5 938C1060.5 942.6 1061.5 947 1062.5 950.5C1063.5 954 1064.6 957.4 1065.5 959.2C1066.4 961.1 1067 961.2 1068 961.8C1069 962.2 1070.6 962.1 1071.8 962.2C1072.9 962.4 1073.8 961.8 1075 962.5C1076.2 963.2 1077.8 965 1079.2 966.8C1080.7 968.5 1082.2 970.3 1083.5 973C1084.8 975.7 1085.7 978.8 1086.8 983C1087.8 987.2 1089 993.4 1090 998C1091 1002.6 1092 1007.2 1093 1010.5C1094 1013.8 1095.1 1015.5 1096 1018C1096.9 1020.5 1097.5 1023.5 1098.5 1025.5C1099.5 1027.5 1100.8 1029.5 1101.8 1030C1102.7 1030.5 1103.5 1030.5 1104.2 1028.5C1105 1026.5 1105.4 1024.8 1106 1018C1106.6 1011.2 1107.3 998 1108 988C1108.7 978 1109.4 967.2 1110 958C1110.6 948.8 1111 939 1111.8 933C1112.5 927 1113.3 924.8 1114.2 921.8C1115.2 918.8 1116.5 917.7 1117.5 915C1118.5 912.3 1119.6 910 1120.5 905.5C1121.4 901 1122.2 894.2 1123 888C1123.8 881.8 1124.7 874.1 1125.5 868.5C1126.3 862.9 1127.1 857.7 1128 854.2C1128.9 850.8 1130.2 849.2 1131 848C1131.8 846.8 1132.2 846.4 1133 846.8C1133.8 847.1 1134.6 848.5 1135.5 850C1136.4 851.5 1137.6 854 1138.5 856C1139.4 858 1140 860.2 1141 861.8C1142 863.2 1143.1 863.9 1144.2 865C1145.4 866.1 1146.8 866.8 1148 868.5C1149.2 870.2 1150.6 872.5 1151.8 875.5C1152.9 878.5 1154 883.2 1155 886.8C1156 890.3 1157 894.1 1158 896.8C1159 899.4 1160 901.5 1161 902.5C1162 903.5 1163.2 903.8 1164.2 903C1165.3 902.2 1166.3 899.6 1167.2 898C1168.2 896.4 1168.9 894.2 1169.8 893.5C1170.6 892.8 1171.5 892.5 1172.5 893.5C1173.5 894.5 1174.5 896.4 1175.5 899.2C1176.5 902.1 1177.5 906.5 1178.5 910.5C1179.5 914.5 1181.2 920.9 1181.8 923" fill="none" stroke="#000" stroke-width="7.1" stroke-linecap="round" stroke-linejoin="round"/>
</g>
<defs>
<clipPath id="hclip"><rect x="1230" y="0" width="480" height="646"/></clipPath>
<radialGradient id="cA"><stop offset="0" stop-color="#333a70"/><stop offset="0.6" stop-color="#444b82"/><stop offset="1" stop-color="#6f80a8" stop-opacity="0.5"/></radialGradient>
<radialGradient id="cB"><stop offset="0" stop-color="#4c5a84"/><stop offset="0.55" stop-color="#6b7c9e"/><stop offset="1" stop-color="#9cb3c2" stop-opacity="0.35"/></radialGradient>
<radialGradient id="cC"><stop offset="0" stop-color="#353e73"/><stop offset="0.6" stop-color="#485389"/><stop offset="1" stop-color="#788bb0" stop-opacity="0.45"/></radialGradient>
<linearGradient id="hbg" x1="0" y1="0" x2="0" y2="646" gradientUnits="userSpaceOnUse">
<stop offset="0.0000" stop-color="#e0f3ef"/>
<stop offset="0.0186" stop-color="#dcf0ec"/>
<stop offset="0.0248" stop-color="#d4eae6"/>
<stop offset="0.0929" stop-color="#d0e6e3"/>
<stop offset="0.1827" stop-color="#cfe5e2"/>
<stop offset="0.1981" stop-color="#d2e6e3"/>
<stop offset="0.2786" stop-color="#cfe3e1"/>
<stop offset="0.2941" stop-color="#c6dee0"/>
<stop offset="0.4721" stop-color="#c4dddf"/>
<stop offset="0.4830" stop-color="#bed4d5"/>
<stop offset="0.5046" stop-color="#c3d8d8"/>
<stop offset="0.5139" stop-color="#dcefeb"/>
<stop offset="0.5882" stop-color="#d9ede9"/>
<stop offset="0.7276" stop-color="#d0e3e6"/>
<stop offset="0.7399" stop-color="#cadbe0"/>
<stop offset="0.8050" stop-color="#cbdbe1"/>
<stop offset="0.8204" stop-color="#ddf0ec"/>
<stop offset="0.8824" stop-color="#ddf1ec"/>
<stop offset="0.8978" stop-color="#cedee1"/>
<stop offset="0.9133" stop-color="#cdd6e4"/>
<stop offset="0.9319" stop-color="#cbd2e2"/>
<stop offset="0.9412" stop-color="#d6e8e7"/>
<stop offset="1.0000" stop-color="#d7eae9"/>
</linearGradient>
<filter id="soft" x="-5%" y="-5%" width="110%" height="110%"><feGaussianBlur stdDeviation="0.75"/></filter>
<filter id="soft2" x="-5%" y="-5%" width="110%" height="110%"><feGaussianBlur stdDeviation="1.8"/></filter>
<filter id="soft3" x="-5%" y="-5%" width="110%" height="110%"><feGaussianBlur stdDeviation="3.5"/></filter>
<filter id="grain" x="0" y="0" width="100%" height="100%" color-interpolation-filters="sRGB"><feTurbulence type="fractalNoise" baseFrequency="0.3" numOctaves="2" seed="3"/><feColorMatrix type="matrix" values="0 0 0 0 0.38  0 0 0 0 0.47  0 0 0 0 0.52  0.9 0.9 0 0 -0.72"/></filter>
<filter id="mott" x="0" y="0" width="100%" height="100%" color-interpolation-filters="sRGB"><feTurbulence type="fractalNoise" baseFrequency="0.045" numOctaves="2" seed="8"/><feColorMatrix type="matrix" values="0 0 0 0 1  0 0 0 0 1  0 0 0 0 1  1.6 0 0 0 -0.62"/></filter>
</defs>
<g id="histo" clip-path="url(#hclip)">
<rect x="1230" y="0" width="480" height="646" fill="url(#hbg)"/>
<rect x="1230" y="0" width="480" height="646" filter="url(#mott)" opacity="0.35"/>
<g filter="url(#soft)"><path d="M1351.6 339.4 q54.3 2.4 108.6 16.3" stroke="#e8f5f1" stroke-width="2" fill="none" opacity="0.7"/><path d="M1488.9 386.4 q34.7 2.5 69.3 10.4" stroke="#c7dedb" stroke-width="1" fill="none" opacity="0.7"/><path d="M1307.6 364.2 q27.7 5.4 55.3 8.3" stroke="#c0d9d7" stroke-width="1" fill="none" opacity="0.7"/><path d="M1485.9 354.6 q68.9 2.3 137.9 20.7" stroke="#c0d9d7" stroke-width="2" fill="none" opacity="0.7"/><path d="M1402.1 363.5 q50.7 5.4 101.4 15.2" stroke="#c0d9d7" stroke-width="1" fill="none" opacity="0.7"/><path d="M1488.2 369.6 q41.8 5.3 83.5 12.5" stroke="#e8f5f1" stroke-width="1" fill="none" opacity="0.7"/><path d="M1508.1 360.8 q48.9 6.7 97.9 14.7" stroke="#c7dedb" stroke-width="2.5" fill="none" opacity="0.7"/><path d="M1371.6 345.4 q33.1 6.7 66.2 9.9" stroke="#e8f5f1" stroke-width="2" fill="none" opacity="0.7"/><path d="M1458.4 384.3 q57.8 3.7 115.7 17.3" stroke="#e8f5f1" stroke-width="1" fill="none" opacity="0.7"/><path d="M1451.3 340.2 q40.4 7.6 80.8 12.1" stroke="#c7dedb" stroke-width="1" fill="none" opacity="0.7"/><path d="M1689.9 334.8 q50.1 6.7 100.2 15" stroke="#ecf7f3" stroke-width="2" fill="none" opacity="0.7"/><path d="M1548.5 366.9 q51.1 4.7 102.2 15.3" stroke="#e8f5f1" stroke-width="2" fill="none" opacity="0.7"/><path d="M1431.3 371.2 q27.7 6.2 55.5 8.3" stroke="#c7dedb" stroke-width="2" fill="none" opacity="0.7"/><path d="M1559.8 385 q40.6 7.6 81.2 12.2" stroke="#ecf7f3" stroke-width="1.5" fill="none" opacity="0.7"/><path d="M1503.8 360.6 q34.8 3.7 69.6 10.4" stroke="#c0d9d7" stroke-width="2.5" fill="none" opacity="0.7"/><path d="M1387.2 384 q28.6 4.7 57.3 8.6" stroke="#ecf7f3" stroke-width="1.5" fill="none" opacity="0.7"/><path d="M1614.2 383.6 q37.5 4.5 75.1 11.3" stroke="#ecf7f3" stroke-width="2.5" fill="none" opacity="0.7"/><path d="M1687.6 339.4 q32.9 3.4 65.9 9.9" stroke="#c0d9d7" stroke-width="1" fill="none" opacity="0.7"/><path d="M1437 366.5 q36.8 2 73.6 11" stroke="#c7dedb" stroke-width="2" fill="none" opacity="0.7"/><path d="M1503.2 349.8 q30.6 7.2 61.3 9.2" stroke="#e8f5f1" stroke-width="2.5" fill="none" opacity="0.7"/><path d="M1656.8 378.4 q64.4 6.8 128.7 19.3" stroke="#c7dedb" stroke-width="2.5" fill="none" opacity="0.7"/><path d="M1391.5 336.4 q53.5 2.4 107.1 16.1" stroke="#e8f5f1" stroke-width="1.5" fill="none" opacity="0.7"/><path d="M1413.5 336.8 q52 2.6 104.1 15.6" stroke="#c0d9d7" stroke-width="1" fill="none" opacity="0.7"/><path d="M1682.9 368.1 q28.2 3.2 56.3 8.4" stroke="#c7dedb" stroke-width="1.5" fill="none" opacity="0.7"/><path d="M1516.2 389.2 q52.1 4.8 104.2 15.6" stroke="#e8f5f1" stroke-width="2.5" fill="none" opacity="0.7"/><path d="M1706.3 358.9 q46.8 2.5 93.5 14" stroke="#e8f5f1" stroke-width="2" fill="none" opacity="0.7"/><path d="M1572.4 359.7 q56.1 5.1 112.3 16.8" stroke="#c0d9d7" stroke-width="2" fill="none" opacity="0.7"/><path d="M1257.7 363.7 q26.2 5.2 52.4 7.9" stroke="#e8f5f1" stroke-width="2" fill="none" opacity="0.7"/><path d="M1454.8 386.3 q41 3.3 82 12.3" stroke="#ecf7f3" stroke-width="1.5" fill="none" opacity="0.7"/><path d="M1505 378.9 q59.1 3.2 118.2 17.7" stroke="#c0d9d7" stroke-width="2.5" fill="none" opacity="0.7"/><path d="M1572.1 344.1 q48.3 4.1 96.6 14.5" stroke="#e8f5f1" stroke-width="1" fill="none" opacity="0.7"/><path d="M1598.8 359.3 q33.7 5.6 67.4 10.1" stroke="#ecf7f3" stroke-width="2.5" fill="none" opacity="0.7"/><path d="M1608.5 374.8 q40.7 7.8 81.5 12.2" stroke="#e8f5f1" stroke-width="1.5" fill="none" opacity="0.7"/><path d="M1234.1 359.1 q40.2 4.9 80.4 12.1" stroke="#e8f5f1" stroke-width="2.5" fill="none" opacity="0.7"/><path d="M1661.9 351.3 q53.9 7 107.9 16.2" stroke="#e8f5f1" stroke-width="2.5" fill="none" opacity="0.7"/><path d="M1594.6 376.5 q46.5 3.1 93 14" stroke="#ecf7f3" stroke-width="1" fill="none" opacity="0.7"/><path d="M1604.4 390.2 q42.8 4.4 85.6 12.8" stroke="#e8f5f1" stroke-width="1.5" fill="none" opacity="0.7"/><path d="M1270.1 337.9 q31.8 7.4 63.6 9.5" stroke="#c0d9d7" stroke-width="2.5" fill="none" opacity="0.7"/><path d="M1528.4 351.7 q49.7 2.8 99.4 14.9" stroke="#e8f5f1" stroke-width="1" fill="none" opacity="0.7"/><path d="M1459.1 387.9 q44.5 7.2 89 13.4" stroke="#c0d9d7" stroke-width="1" fill="none" opacity="0.7"/><path d="M1313.5 348.2 q35.8 5.5 71.6 10.7" stroke="#ecf7f3" stroke-width="2.5" fill="none" opacity="0.7"/><path d="M1622.1 333.8 q58.3 7.4 116.6 17.5" stroke="#c7dedb" stroke-width="1.5" fill="none" opacity="0.7"/><path d="M1461.9 362.5 q25.8 4.6 51.7 7.8" stroke="#c0d9d7" stroke-width="1" fill="none" opacity="0.7"/><path d="M1591.3 339.3 q31.4 5.7 62.7 9.4" stroke="#e8f5f1" stroke-width="1" fill="none" opacity="0.7"/><path d="M1352.8 362.1 q50 6.7 100 15" stroke="#e8f5f1" stroke-width="1" fill="none" opacity="0.7"/><path d="M1311.7 347.2 q59.8 5 119.5 17.9" stroke="#e8f5f1" stroke-width="1" fill="none" opacity="0.7"/><path d="M1414.9 368 q47.7 5.1 95.5 14.3" stroke="#ecf7f3" stroke-width="2.5" fill="none" opacity="0.7"/><path d="M1449.3 380.1 q47.8 3.5 95.7 14.4" stroke="#ecf7f3" stroke-width="1.5" fill="none" opacity="0.7"/><path d="M1625.2 338.5 q30.5 4.7 60.9 9.1" stroke="#e8f5f1" stroke-width="1.5" fill="none" opacity="0.7"/><path d="M1407 343.2 q38.6 2.7 77.3 11.6" stroke="#c0d9d7" stroke-width="2" fill="none" opacity="0.7"/><path d="M1255.8 384.7 q68.5 3.3 137.1 20.6" stroke="#e8f5f1" stroke-width="2.5" fill="none" opacity="0.7"/><path d="M1649 340.1 q55.1 3.3 110.1 16.5" stroke="#c7dedb" stroke-width="2.5" fill="none" opacity="0.7"/><path d="M1359.7 342.1 q39.3 6.3 78.7 11.8" stroke="#e8f5f1" stroke-width="2" fill="none" opacity="0.7"/><path d="M1473.6 357.3 q25.8 4 51.6 7.7" stroke="#ecf7f3" stroke-width="1" fill="none" opacity="0.7"/><path d="M1239.8 386.9 q35.3 7.3 70.6 10.6" stroke="#e8f5f1" stroke-width="2" fill="none" opacity="0.7"/><path d="M1324.1 386.2 q33.2 6.5 66.3 10" stroke="#c7dedb" stroke-width="2" fill="none" opacity="0.7"/><path d="M1395.2 363.3 q48.2 5 96.3 14.4" stroke="#ecf7f3" stroke-width="1" fill="none" opacity="0.7"/><path d="M1327.9 379.6 q33.3 7.4 66.5 10" stroke="#ecf7f3" stroke-width="1" fill="none" opacity="0.7"/><path d="M1516.3 379.7 q28.8 7.1 57.5 8.6" stroke="#e8f5f1" stroke-width="2" fill="none" opacity="0.7"/><path d="M1637.3 358.1 q40.3 5.3 80.5 12.1" stroke="#ecf7f3" stroke-width="1.5" fill="none" opacity="0.7"/><path d="M1202.9 374 q67.2 7.8 134.4 20.2" stroke="#ecf7f3" stroke-width="1" fill="none" opacity="0.7"/><path d="M1276 387.8 q53.3 5.2 106.6 16" stroke="#c0d9d7" stroke-width="2" fill="none" opacity="0.7"/><path d="M1416.2 371.7 q37.2 6.8 74.3 11.2" stroke="#ecf7f3" stroke-width="1" fill="none" opacity="0.7"/><path d="M1188.1 375.5 q49.8 3.1 99.6 14.9" stroke="#c7dedb" stroke-width="1.5" fill="none" opacity="0.7"/><path d="M1675.4 336.6 q61.9 4.6 123.7 18.6" stroke="#c7dedb" stroke-width="2.5" fill="none" opacity="0.7"/><path d="M1694.3 349.1 q34.7 3.4 69.4 10.4" stroke="#c0d9d7" stroke-width="1.5" fill="none" opacity="0.7"/><path d="M1394.5 351.5 q27.4 2.8 54.9 8.2" stroke="#e8f5f1" stroke-width="2" fill="none" opacity="0.7"/><path d="M1408.3 333.4 q54.9 4.3 109.9 16.5" stroke="#ecf7f3" stroke-width="1.5" fill="none" opacity="0.7"/><path d="M1547.1 332.8 q33.3 3.6 66.7 10" stroke="#e8f5f1" stroke-width="2" fill="none" opacity="0.7"/><path d="M1373 350.4 q69.3 3.9 138.6 20.8" stroke="#e8f5f1" stroke-width="2" fill="none" opacity="0.7"/></g>
<path d="M1230 390 L1710 411 L1710 460 L1230 455Z" fill="#93a6c4" opacity="0.55" filter="url(#soft3)"/>
<path d="M1230 198 L1710 202 L1710 300 L1230 298Z" fill="#b8d0da" opacity="0.35" filter="url(#soft3)"/>
<path d="M1230 60 L1710 55 L1710 118 L1230 116Z" fill="#b8d0d6" opacity="0.28" filter="url(#soft3)"/>
<g filter="url(#soft)" fill="url(#cB)"><ellipse cx="1336.6" cy="78" rx="5.3" ry="6.3" opacity="0.61"/><ellipse cx="1473.3" cy="82.1" rx="5.8" ry="6" opacity="0.92"/><ellipse cx="1624.2" cy="84.1" rx="5.8" ry="6.6" opacity="0.63"/><ellipse cx="1378" cy="56.2" rx="6" ry="6.6" opacity="0.76"/><ellipse cx="1253" cy="107.1" rx="6.2" ry="7.2" opacity="0.60"/><ellipse cx="1568.5" cy="110.1" rx="5.3" ry="5.5" opacity="0.64"/><ellipse cx="1632.8" cy="106" rx="4.9" ry="5" opacity="0.64"/><ellipse cx="1533.3" cy="63.3" rx="6.1" ry="6.4" opacity="0.60"/><ellipse cx="1451.3" cy="53.3" rx="5.4" ry="5.7" opacity="0.71"/><ellipse cx="1700.4" cy="103.5" rx="5.1" ry="4.9" opacity="0.55"/><ellipse cx="1369.9" cy="96.8" rx="6.6" ry="7.5" opacity="0.59"/><ellipse cx="1302.8" cy="99.3" rx="6.1" ry="7.3" opacity="0.80"/><ellipse cx="1296.1" cy="60.7" rx="5" ry="5.4" opacity="0.75"/><ellipse cx="1455.6" cy="93.8" rx="5.1" ry="5.6" opacity="0.55"/><ellipse cx="1696.7" cy="60.1" rx="6.5" ry="7.2" opacity="0.83"/><ellipse cx="1267.8" cy="87.9" rx="6.5" ry="7.2" opacity="0.66"/><ellipse cx="1295.7" cy="113.3" rx="5.2" ry="5.2" opacity="0.56"/><ellipse cx="1407.3" cy="61" rx="6.2" ry="7.2" opacity="0.68"/><ellipse cx="1233.7" cy="60.9" rx="5.1" ry="5.7" opacity="0.93"/><ellipse cx="1431.8" cy="72.9" rx="6.5" ry="6.4" opacity="0.90"/><ellipse cx="1592.4" cy="114.2" rx="6.3" ry="7.1" opacity="0.70"/><ellipse cx="1237.6" cy="76.1" rx="5.1" ry="5.9" opacity="0.69"/><ellipse cx="1711.4" cy="78.7" rx="5.5" ry="5.9" opacity="0.72"/><ellipse cx="1681.1" cy="56.5" rx="6.3" ry="6.4" opacity="0.57"/><ellipse cx="1603.1" cy="92.7" rx="5.8" ry="6.4" opacity="0.92"/><ellipse cx="1649.3" cy="60.7" rx="6.1" ry="7.1" opacity="0.98"/><ellipse cx="1458.6" cy="109.7" rx="5.7" ry="6.1" opacity="0.62"/><ellipse cx="1356.9" cy="77.2" rx="5.3" ry="5.8" opacity="0.59"/><ellipse cx="1289.5" cy="71.8" rx="6" ry="6" opacity="0.75"/><ellipse cx="1496.2" cy="78" rx="6.5" ry="6.4" opacity="0.57"/><ellipse cx="1436.1" cy="89.3" rx="5.6" ry="5.6" opacity="0.88"/><ellipse cx="1232.1" cy="92.2" rx="4.8" ry="5.6" opacity="0.93"/><ellipse cx="1698.5" cy="89.8" rx="6.2" ry="6.6" opacity="0.68"/><ellipse cx="1673.6" cy="77.3" rx="6" ry="6.5" opacity="0.74"/><ellipse cx="1485.6" cy="88.3" rx="5.4" ry="5.7" opacity="0.85"/><ellipse cx="1471.2" cy="98.2" rx="6.3" ry="7.4" opacity="0.62"/><ellipse cx="1435.7" cy="108.7" rx="5.3" ry="5.7" opacity="0.80"/><ellipse cx="1637.7" cy="53.2" rx="5.4" ry="5.4" opacity="0.59"/><ellipse cx="1342.8" cy="99.1" rx="5.4" ry="5.7" opacity="0.99"/><ellipse cx="1259.1" cy="62.7" rx="6.4" ry="7.5" opacity="0.99"/><ellipse cx="1679.2" cy="114.5" rx="6.5" ry="7.2" opacity="0.92"/><ellipse cx="1444.4" cy="71.9" rx="4.9" ry="5.5" opacity="0.82"/><ellipse cx="1600" cy="52.7" rx="5.3" ry="5.8" opacity="0.98"/><ellipse cx="1355.4" cy="91.6" rx="5.7" ry="6.3" opacity="0.68"/><ellipse cx="1392.8" cy="109.9" rx="5.4" ry="6.3" opacity="0.56"/><ellipse cx="1686.3" cy="94.6" rx="5.1" ry="5.8" opacity="0.75"/><ellipse cx="1691.3" cy="79.3" rx="5" ry="5.5" opacity="0.72"/><ellipse cx="1377.6" cy="73.6" rx="5.8" ry="6.2" opacity="0.79"/><ellipse cx="1493.4" cy="54.9" rx="5.8" ry="6.1" opacity="0.60"/><ellipse cx="1359.1" cy="104" rx="5.1" ry="6" opacity="0.80"/><ellipse cx="1322.4" cy="97.9" rx="5" ry="5.8" opacity="0.66"/><ellipse cx="1343.1" cy="66.6" rx="5" ry="5.4" opacity="0.66"/><ellipse cx="1329.9" cy="56.6" rx="5.7" ry="6.2" opacity="0.65"/><ellipse cx="1603.1" cy="71.2" rx="5.8" ry="5.7" opacity="0.78"/><ellipse cx="1274.7" cy="63.2" rx="5.9" ry="5.7" opacity="0.73"/><ellipse cx="1399" cy="74.1" rx="4.9" ry="5.2" opacity="0.94"/><ellipse cx="1467.4" cy="66.5" rx="5.8" ry="6.5" opacity="0.89"/><ellipse cx="1251.7" cy="88.2" rx="5" ry="6" opacity="0.87"/><ellipse cx="1621.1" cy="71.6" rx="5" ry="5.8" opacity="0.73"/><ellipse cx="1244.4" cy="53.2" rx="5.1" ry="6.1" opacity="0.80"/><ellipse cx="1325" cy="69.7" rx="6.2" ry="6.1" opacity="0.90"/><ellipse cx="1527.6" cy="78.9" rx="4.9" ry="4.9" opacity="0.72"/><ellipse cx="1309.4" cy="68.9" rx="4.8" ry="5.3" opacity="0.65"/><ellipse cx="1661.9" cy="87.9" rx="5.3" ry="6" opacity="0.74"/><ellipse cx="1402.4" cy="97.4" rx="6.4" ry="7.1" opacity="0.94"/><ellipse cx="1311.2" cy="52" rx="5.8" ry="6.9" opacity="0.94"/><ellipse cx="1547.3" cy="104.4" rx="5.1" ry="5.8" opacity="0.70"/><ellipse cx="1667.6" cy="108" rx="6.2" ry="6.9" opacity="0.92"/><ellipse cx="1535.5" cy="111" rx="5" ry="5.2" opacity="0.88"/><ellipse cx="1392.3" cy="86.7" rx="6.5" ry="7.4" opacity="0.57"/><ellipse cx="1423.5" cy="104" rx="5.9" ry="5.7" opacity="0.80"/><ellipse cx="1634.9" cy="72.8" rx="6.2" ry="6.1" opacity="0.97"/><ellipse cx="1646.2" cy="103.2" rx="6" ry="6.1" opacity="0.64"/><ellipse cx="1376.2" cy="114.1" rx="5.6" ry="6.5" opacity="0.81"/><ellipse cx="1280.7" cy="110.6" rx="5" ry="4.8" opacity="0.60"/><ellipse cx="1503.8" cy="103.9" rx="6.2" ry="6.2" opacity="0.80"/><ellipse cx="1524.3" cy="92.8" rx="5.3" ry="6" opacity="0.72"/><ellipse cx="1310.7" cy="81.4" rx="5.1" ry="5.9" opacity="0.79"/><ellipse cx="1358.3" cy="59.6" rx="6" ry="7" opacity="0.98"/><ellipse cx="1612" cy="60.3" rx="4.8" ry="5" opacity="0.62"/><ellipse cx="1343.8" cy="113.2" rx="5.7" ry="6.7" opacity="0.91"/><ellipse cx="1475.1" cy="55.3" rx="4.9" ry="4.8" opacity="0.92"/><ellipse cx="1280.5" cy="96.8" rx="6" ry="6.3" opacity="0.76"/><ellipse cx="1511.8" cy="71.6" rx="5.1" ry="5.9" opacity="0.73"/><ellipse cx="1483" cy="112.9" rx="6.4" ry="7" opacity="0.58"/><ellipse cx="1284.8" cy="54.2" rx="5.4" ry="5.4" opacity="0.95"/><ellipse cx="1640" cy="84.9" rx="5.9" ry="5.6" opacity="0.63"/><ellipse cx="1414.7" cy="82.9" rx="5.4" ry="5.8" opacity="0.81"/><ellipse cx="1659.8" cy="70.6" rx="5.5" ry="5.7" opacity="0.55"/><ellipse cx="1709" cy="63.5" rx="5.8" ry="6" opacity="0.56"/><ellipse cx="1591.8" cy="101.4" rx="5.6" ry="6.7" opacity="0.57"/><ellipse cx="1234.8" cy="107.4" rx="5.1" ry="5.7" opacity="0.67"/></g>
<g filter="url(#soft2)" fill="#a5bcc3"><ellipse cx="1362.7" cy="37" rx="10.4" ry="6.3" opacity="0.30"/><ellipse cx="1484.5" cy="48.9" rx="16.9" ry="4.1" opacity="0.30"/><ellipse cx="1500" cy="44" rx="15.9" ry="7.1" opacity="0.30"/><ellipse cx="1534.6" cy="40.5" rx="11.3" ry="5.1" opacity="0.30"/><ellipse cx="1612.2" cy="46.7" rx="16.4" ry="6.7" opacity="0.30"/><ellipse cx="1377.3" cy="43.8" rx="14.7" ry="6" opacity="0.30"/><ellipse cx="1535.6" cy="33.1" rx="13" ry="5.6" opacity="0.30"/><ellipse cx="1260.9" cy="32.8" rx="10.9" ry="8" opacity="0.30"/><ellipse cx="1462.1" cy="33.5" rx="10.2" ry="4.9" opacity="0.30"/><ellipse cx="1398.9" cy="27.5" rx="8.1" ry="7.5" opacity="0.30"/><ellipse cx="1448.6" cy="35.6" rx="13.1" ry="5.2" opacity="0.30"/><ellipse cx="1312.7" cy="25.7" rx="10.7" ry="5.2" opacity="0.30"/><ellipse cx="1579.3" cy="38.3" rx="16.4" ry="5.4" opacity="0.30"/><ellipse cx="1672.3" cy="39.2" rx="8.7" ry="4.7" opacity="0.30"/><ellipse cx="1509.5" cy="49.7" rx="11.2" ry="7.1" opacity="0.30"/><ellipse cx="1436.7" cy="46.6" rx="8.6" ry="5.9" opacity="0.30"/><ellipse cx="1661.8" cy="31.2" rx="10.3" ry="4.1" opacity="0.30"/><ellipse cx="1310.7" cy="31" rx="14.3" ry="4.9" opacity="0.30"/><ellipse cx="1423" cy="29.2" rx="13.4" ry="7.5" opacity="0.30"/><ellipse cx="1541.8" cy="29.1" rx="14.6" ry="7.9" opacity="0.30"/><ellipse cx="1519.3" cy="26.1" rx="15.3" ry="7.5" opacity="0.30"/><ellipse cx="1395.1" cy="27.6" rx="9.7" ry="6.1" opacity="0.30"/><ellipse cx="1650.5" cy="40.6" rx="16.3" ry="4.8" opacity="0.30"/><ellipse cx="1388.2" cy="43.5" rx="13.8" ry="5.6" opacity="0.30"/><ellipse cx="1556.5" cy="32.8" rx="8.5" ry="5.7" opacity="0.30"/><ellipse cx="1253.7" cy="40.3" rx="11" ry="6" opacity="0.30"/></g>
<g filter="url(#soft)"><circle cx="1302" cy="37" r="6.5" fill="url(#cA)" opacity="0.75"/><ellipse cx="1665" cy="58" rx="4.5" ry="9" fill="url(#cA)" opacity="0.9"/></g>
<g filter="url(#soft)"><ellipse cx="1568" cy="74" rx="23.5" ry="24.5" fill="#aec2c7"/><ellipse cx="1567" cy="74" rx="19" ry="20" fill="#e6f2ee"/><ellipse cx="1563" cy="68" rx="10" ry="9" fill="#f4faf7"/><path d="M1558 93 q12 8 26 -8" stroke="#9fb3b8" stroke-width="1.5" fill="none"/><path d="M1549 48 q-6 -6 -10 -12" stroke="#9ab0ba" stroke-width="3" fill="none" opacity="0.7"/></g>
<path d="M1230 11.5 C1270 13 1310 17 1350 19 S1420 14 1460 13.5 S1520 14 1560 12 S1640 6 1680 8 L1710 9" stroke="#8799a1" stroke-width="1.3" fill="none"/>
<g filter="url(#soft)" fill="url(#cA)"><ellipse cx="1231.2" cy="196.2" rx="4.6" ry="5" opacity="0.56"/><ellipse cx="1243.7" cy="194.3" rx="4.9" ry="4.5" opacity="0.66"/><ellipse cx="1253.5" cy="194.4" rx="5.1" ry="5.2" opacity="0.57"/><ellipse cx="1264.5" cy="196.7" rx="4.8" ry="4.8" opacity="0.65"/><ellipse cx="1276.2" cy="193.5" rx="5" ry="5" opacity="0.67"/><ellipse cx="1288" cy="197.6" rx="4.6" ry="5.5" opacity="0.60"/><ellipse cx="1297.7" cy="190.1" rx="4.7" ry="4.7" opacity="0.65"/><ellipse cx="1332.3" cy="191.1" rx="4.2" ry="5" opacity="0.58"/><ellipse cx="1342.1" cy="188.7" rx="5.1" ry="5.3" opacity="0.59"/><ellipse cx="1353.4" cy="191.2" rx="5.1" ry="6" opacity="0.62"/><ellipse cx="1363" cy="194.4" rx="4.1" ry="4.7" opacity="0.65"/><ellipse cx="1372.4" cy="193.7" rx="4.6" ry="5" opacity="0.69"/><ellipse cx="1392.2" cy="196.6" rx="4.9" ry="4.7" opacity="0.60"/><ellipse cx="1415.1" cy="198.8" rx="4.4" ry="5.1" opacity="0.61"/><ellipse cx="1424.9" cy="198.5" rx="4.8" ry="5.6" opacity="0.62"/><ellipse cx="1434.8" cy="200.3" rx="4.5" ry="4.3" opacity="0.67"/><ellipse cx="1459.4" cy="194.5" rx="5.3" ry="4.9" opacity="0.58"/><ellipse cx="1469.2" cy="199" rx="4.1" ry="4.6" opacity="0.61"/><ellipse cx="1481.4" cy="200.5" rx="4" ry="4.5" opacity="0.59"/><ellipse cx="1510.9" cy="192.5" rx="4.6" ry="4.3" opacity="0.59"/><ellipse cx="1522.6" cy="194.1" rx="4.2" ry="4.9" opacity="0.61"/><ellipse cx="1533" cy="191.3" rx="5.4" ry="5.3" opacity="0.68"/><ellipse cx="1542.8" cy="191.1" rx="4.1" ry="4.2" opacity="0.57"/><ellipse cx="1553.9" cy="191.3" rx="4" ry="4.3" opacity="0.66"/><ellipse cx="1564.9" cy="193.4" rx="5.4" ry="5.5" opacity="0.68"/><ellipse cx="1575.2" cy="191.5" rx="5.4" ry="5.5" opacity="0.61"/><ellipse cx="1584.9" cy="195.8" rx="4" ry="3.9" opacity="0.65"/><ellipse cx="1608.2" cy="195.5" rx="5.3" ry="5.3" opacity="0.57"/><ellipse cx="1631.4" cy="197.8" rx="4.7" ry="4.6" opacity="0.64"/><ellipse cx="1642.7" cy="197.9" rx="4.5" ry="4.8" opacity="0.66"/><ellipse cx="1654" cy="198.2" rx="4.5" ry="4.3" opacity="0.65"/><ellipse cx="1665.3" cy="195.9" rx="5.3" ry="5.6" opacity="0.63"/><ellipse cx="1676.1" cy="196" rx="4.2" ry="4.4" opacity="0.69"/><ellipse cx="1687.1" cy="200.2" rx="4.3" ry="4.5" opacity="0.58"/><ellipse cx="1225.2" cy="206.2" rx="5.1" ry="4.7" opacity="0.90"/><ellipse cx="1235.8" cy="209.9" rx="5" ry="5.7" opacity="0.89"/><ellipse cx="1247.6" cy="203" rx="5" ry="4.8" opacity="0.87"/><ellipse cx="1258" cy="203.5" rx="4.5" ry="4.9" opacity="0.80"/><ellipse cx="1267.4" cy="201.7" rx="5" ry="4.9" opacity="0.85"/><ellipse cx="1279.5" cy="200.5" rx="4.9" ry="5" opacity="0.97"/><ellipse cx="1291.3" cy="203.8" rx="4.5" ry="4.6" opacity="0.81"/><ellipse cx="1303" cy="201.5" rx="4.6" ry="4.6" opacity="0.93"/><ellipse cx="1313.5" cy="203.7" rx="5.3" ry="5.9" opacity="0.84"/><ellipse cx="1323.9" cy="204.7" rx="4.5" ry="4.5" opacity="0.81"/><ellipse cx="1346.1" cy="204.7" rx="4.6" ry="4.8" opacity="0.97"/><ellipse cx="1358.4" cy="205.5" rx="4.7" ry="5.2" opacity="0.90"/><ellipse cx="1370.1" cy="206.2" rx="4.1" ry="4.6" opacity="0.94"/><ellipse cx="1381.9" cy="205" rx="4.3" ry="4" opacity="0.82"/><ellipse cx="1391.4" cy="210" rx="4.8" ry="5.3" opacity="0.81"/><ellipse cx="1402.3" cy="205.6" rx="5" ry="6" opacity="0.88"/><ellipse cx="1414.2" cy="211.5" rx="4.2" ry="3.8" opacity="0.87"/><ellipse cx="1426.8" cy="207.2" rx="4.4" ry="5.1" opacity="0.86"/><ellipse cx="1437.9" cy="208.5" rx="4.6" ry="5.3" opacity="0.81"/><ellipse cx="1460.8" cy="206.1" rx="4.6" ry="4.7" opacity="0.90"/><ellipse cx="1483" cy="205.4" rx="4.6" ry="4.5" opacity="0.91"/><ellipse cx="1494.9" cy="202.8" rx="5" ry="5.2" opacity="0.96"/><ellipse cx="1507.3" cy="203.2" rx="5.2" ry="5.7" opacity="0.81"/><ellipse cx="1516.7" cy="205.7" rx="4.1" ry="4.8" opacity="0.92"/><ellipse cx="1527.8" cy="205" rx="4.7" ry="4.6" opacity="0.93"/><ellipse cx="1537.7" cy="205.3" rx="4.2" ry="3.9" opacity="0.98"/><ellipse cx="1547.2" cy="205.1" rx="5.3" ry="5.2" opacity="0.88"/><ellipse cx="1559.5" cy="205" rx="4.2" ry="3.8" opacity="0.81"/><ellipse cx="1571.5" cy="203" rx="4.3" ry="4.6" opacity="0.92"/><ellipse cx="1581.3" cy="208.1" rx="4.5" ry="5.1" opacity="0.97"/><ellipse cx="1593.8" cy="205.4" rx="4" ry="3.9" opacity="0.88"/><ellipse cx="1604.9" cy="204.2" rx="4.7" ry="5.1" opacity="0.95"/><ellipse cx="1614.4" cy="210" rx="4.2" ry="4.9" opacity="0.98"/><ellipse cx="1625.4" cy="206.9" rx="4.5" ry="5.3" opacity="0.95"/><ellipse cx="1635" cy="208.6" rx="5.2" ry="4.8" opacity="0.92"/><ellipse cx="1644.6" cy="207.3" rx="5.3" ry="6.2" opacity="0.97"/><ellipse cx="1653.9" cy="209.6" rx="5.4" ry="5.9" opacity="0.87"/><ellipse cx="1663.3" cy="207.5" rx="4.6" ry="4.4" opacity="0.85"/><ellipse cx="1675.2" cy="206.7" rx="4.1" ry="4.4" opacity="0.91"/><ellipse cx="1687.1" cy="208.1" rx="4.6" ry="4.3" opacity="0.81"/><ellipse cx="1698.5" cy="204" rx="4.8" ry="5.3" opacity="0.87"/><ellipse cx="1708.2" cy="203.5" rx="5.3" ry="6.2" opacity="0.87"/><ellipse cx="1225.8" cy="212.3" rx="5.2" ry="5.5" opacity="0.82"/><ellipse cx="1235.4" cy="214.4" rx="4.2" ry="4.3" opacity="0.91"/><ellipse cx="1245.3" cy="213.5" rx="4.3" ry="5" opacity="0.83"/><ellipse cx="1256.2" cy="216.6" rx="4" ry="4.6" opacity="0.99"/><ellipse cx="1267.3" cy="215.1" rx="4.3" ry="4.2" opacity="0.95"/><ellipse cx="1276.6" cy="213.3" rx="4.7" ry="4.4" opacity="0.86"/><ellipse cx="1287.8" cy="212.6" rx="4.8" ry="4.4" opacity="0.96"/><ellipse cx="1297.8" cy="215.7" rx="5.4" ry="6" opacity="0.81"/><ellipse cx="1309.8" cy="214.8" rx="5.1" ry="4.6" opacity="0.89"/><ellipse cx="1322.2" cy="216.3" rx="4.6" ry="5.1" opacity="0.82"/><ellipse cx="1333.7" cy="215.4" rx="4.5" ry="4.3" opacity="0.83"/><ellipse cx="1344" cy="221.9" rx="5.4" ry="5.7" opacity="0.96"/><ellipse cx="1355.9" cy="222.1" rx="5.1" ry="5.5" opacity="0.93"/><ellipse cx="1367.9" cy="221.7" rx="4.1" ry="3.9" opacity="0.94"/><ellipse cx="1380.4" cy="221" rx="5" ry="6" opacity="0.83"/><ellipse cx="1392.7" cy="221.3" rx="5.2" ry="5.3" opacity="0.96"/><ellipse cx="1404.7" cy="221.1" rx="5.2" ry="5.5" opacity="0.86"/><ellipse cx="1417.1" cy="215.7" rx="5.4" ry="6.2" opacity="0.96"/><ellipse cx="1427.1" cy="215.5" rx="4.6" ry="5.4" opacity="0.85"/><ellipse cx="1438.6" cy="218.1" rx="4.5" ry="5" opacity="0.96"/><ellipse cx="1451" cy="218" rx="4.6" ry="5.3" opacity="0.82"/><ellipse cx="1472.3" cy="211" rx="4.2" ry="4.5" opacity="0.96"/><ellipse cx="1483" cy="212.8" rx="4.3" ry="4.7" opacity="0.87"/><ellipse cx="1493.2" cy="210.9" rx="4.4" ry="4.8" opacity="0.94"/><ellipse cx="1505.2" cy="211.3" rx="5" ry="4.7" opacity="0.81"/><ellipse cx="1515.3" cy="217.4" rx="4.5" ry="4.9" opacity="0.84"/><ellipse cx="1527.5" cy="214.1" rx="4.7" ry="5.6" opacity="0.99"/><ellipse cx="1547.2" cy="219.4" rx="4.6" ry="4.7" opacity="0.96"/><ellipse cx="1556.7" cy="217.4" rx="5.2" ry="6.1" opacity="0.90"/><ellipse cx="1568.9" cy="219.2" rx="4.1" ry="4.9" opacity="0.92"/><ellipse cx="1579.4" cy="219.9" rx="4.9" ry="5.4" opacity="0.88"/><ellipse cx="1603.7" cy="221" rx="4.8" ry="5.6" opacity="0.89"/><ellipse cx="1615.4" cy="221.5" rx="4" ry="4.8" opacity="0.87"/><ellipse cx="1638.1" cy="220.8" rx="4.9" ry="4.8" opacity="0.86"/><ellipse cx="1649.2" cy="217.8" rx="5.4" ry="5.9" opacity="0.93"/><ellipse cx="1659.7" cy="220.8" rx="5" ry="4.7" opacity="0.94"/><ellipse cx="1670.8" cy="219" rx="5.1" ry="5.4" opacity="0.87"/><ellipse cx="1683" cy="213.4" rx="5" ry="4.6" opacity="0.83"/><ellipse cx="1693.2" cy="214.2" rx="5.4" ry="5.3" opacity="0.99"/><ellipse cx="1705.6" cy="212.2" rx="4.4" ry="4.4" opacity="0.89"/><ellipse cx="1716.2" cy="213.1" rx="5.3" ry="6.3" opacity="0.85"/><ellipse cx="1234" cy="225.7" rx="5.1" ry="5.7" opacity="0.86"/><ellipse cx="1244.8" cy="225.5" rx="4.9" ry="5" opacity="0.95"/><ellipse cx="1257.2" cy="225.9" rx="4.4" ry="5" opacity="0.93"/><ellipse cx="1266.5" cy="228.6" rx="4.8" ry="4.7" opacity="0.87"/><ellipse cx="1276.5" cy="224.1" rx="4.8" ry="4.9" opacity="0.95"/><ellipse cx="1288.5" cy="225.4" rx="4.4" ry="4.8" opacity="0.93"/><ellipse cx="1300" cy="230.9" rx="4.6" ry="4.6" opacity="0.99"/><ellipse cx="1310.6" cy="231.8" rx="4.5" ry="4.8" opacity="0.84"/><ellipse cx="1321.5" cy="231.4" rx="5.3" ry="4.8" opacity="0.83"/><ellipse cx="1332.1" cy="230.6" rx="5.2" ry="5.3" opacity="0.93"/><ellipse cx="1343.3" cy="229.1" rx="5.2" ry="4.9" opacity="0.96"/><ellipse cx="1354.8" cy="232.3" rx="4.7" ry="5.3" opacity="0.98"/><ellipse cx="1366.8" cy="231.1" rx="5.2" ry="5.8" opacity="0.83"/><ellipse cx="1378" cy="227.8" rx="4.1" ry="4" opacity="0.92"/><ellipse cx="1388" cy="226.7" rx="4.1" ry="4.7" opacity="0.94"/><ellipse cx="1398.4" cy="229.2" rx="4.1" ry="3.7" opacity="0.97"/><ellipse cx="1409.7" cy="224.4" rx="4.4" ry="4.7" opacity="0.81"/><ellipse cx="1421.7" cy="222.8" rx="5.2" ry="5.6" opacity="0.82"/><ellipse cx="1432" cy="224.2" rx="4.8" ry="4.6" opacity="0.84"/><ellipse cx="1444.1" cy="227.1" rx="4.8" ry="4.3" opacity="0.81"/><ellipse cx="1455" cy="224.2" rx="4.1" ry="4.4" opacity="0.93"/><ellipse cx="1465.6" cy="224.8" rx="4.8" ry="5.8" opacity="0.85"/><ellipse cx="1477.5" cy="228.3" rx="4.5" ry="4.7" opacity="1.00"/><ellipse cx="1487.2" cy="225.2" rx="5" ry="5" opacity="0.94"/><ellipse cx="1497" cy="225.5" rx="4.4" ry="4.6" opacity="0.84"/><ellipse cx="1507.7" cy="224.9" rx="5" ry="5.3" opacity="0.84"/><ellipse cx="1519.3" cy="231.2" rx="5" ry="5.6" opacity="0.99"/><ellipse cx="1530.9" cy="225.8" rx="4.3" ry="4.8" opacity="0.80"/><ellipse cx="1542.3" cy="228" rx="4.5" ry="5.4" opacity="0.83"/><ellipse cx="1552.5" cy="227" rx="4.2" ry="4.8" opacity="0.87"/><ellipse cx="1563.3" cy="227.8" rx="4.1" ry="4.3" opacity="0.83"/><ellipse cx="1575.8" cy="233.6" rx="5.1" ry="4.8" opacity="0.90"/><ellipse cx="1585.4" cy="231" rx="4.7" ry="4.3" opacity="0.84"/><ellipse cx="1597.7" cy="231.6" rx="5.3" ry="6" opacity="1.00"/><ellipse cx="1618.1" cy="229.4" rx="4.5" ry="5.1" opacity="0.80"/><ellipse cx="1628.9" cy="224.8" rx="5.2" ry="5.2" opacity="0.91"/><ellipse cx="1640.2" cy="229.8" rx="4.7" ry="4.6" opacity="0.93"/><ellipse cx="1652.5" cy="225.3" rx="4.1" ry="4" opacity="0.92"/><ellipse cx="1663.2" cy="226.1" rx="4.9" ry="4.5" opacity="0.94"/><ellipse cx="1674.9" cy="221.8" rx="4.7" ry="5.2" opacity="0.88"/><ellipse cx="1684.9" cy="225.8" rx="5" ry="5.8" opacity="0.89"/><ellipse cx="1696.2" cy="221.7" rx="4.3" ry="4.4" opacity="1.00"/><ellipse cx="1235.2" cy="235.7" rx="4.9" ry="5.8" opacity="0.99"/><ellipse cx="1245.3" cy="236" rx="4" ry="4.8" opacity="0.95"/><ellipse cx="1256.9" cy="237.2" rx="5.1" ry="4.8" opacity="0.83"/><ellipse cx="1268.8" cy="243" rx="5.3" ry="5.6" opacity="0.80"/><ellipse cx="1280.7" cy="241" rx="4.9" ry="4.5" opacity="0.92"/><ellipse cx="1301.9" cy="238.3" rx="5.2" ry="4.8" opacity="0.96"/><ellipse cx="1313.3" cy="239.5" rx="4.6" ry="4.9" opacity="0.82"/><ellipse cx="1323.7" cy="238.4" rx="5" ry="4.7" opacity="0.97"/><ellipse cx="1334.1" cy="239.3" rx="5.1" ry="6" opacity="0.83"/><ellipse cx="1345.9" cy="236.5" rx="4.1" ry="4.4" opacity="0.82"/><ellipse cx="1356.9" cy="238.8" rx="4.6" ry="5.4" opacity="0.92"/><ellipse cx="1368.6" cy="240.2" rx="5.3" ry="4.8" opacity="0.97"/><ellipse cx="1380.1" cy="239.7" rx="4.6" ry="5.4" opacity="0.98"/><ellipse cx="1390.8" cy="238" rx="4.4" ry="4.3" opacity="0.86"/><ellipse cx="1400.3" cy="235.7" rx="5.4" ry="6.1" opacity="0.93"/><ellipse cx="1412.4" cy="239.1" rx="5.1" ry="5.2" opacity="0.85"/><ellipse cx="1421.6" cy="233.7" rx="5.2" ry="5.9" opacity="0.98"/><ellipse cx="1433.5" cy="238.5" rx="5.1" ry="5.9" opacity="0.91"/><ellipse cx="1443.8" cy="237" rx="4.5" ry="4.3" opacity="0.91"/><ellipse cx="1454.8" cy="237.8" rx="4.8" ry="5.6" opacity="0.99"/><ellipse cx="1466.3" cy="240.8" rx="4.1" ry="4.8" opacity="0.84"/><ellipse cx="1475.5" cy="236.6" rx="5" ry="5.2" opacity="1.00"/><ellipse cx="1487.1" cy="240.6" rx="5" ry="4.9" opacity="0.95"/><ellipse cx="1496.4" cy="241.3" rx="4.3" ry="4.7" opacity="0.85"/><ellipse cx="1507.6" cy="241.8" rx="4.8" ry="4.4" opacity="0.94"/><ellipse cx="1517" cy="237.8" rx="4.5" ry="4.7" opacity="0.83"/><ellipse cx="1529.5" cy="242.8" rx="4.4" ry="4.1" opacity="0.95"/><ellipse cx="1539.7" cy="241" rx="5" ry="4.6" opacity="0.89"/><ellipse cx="1552.1" cy="240.3" rx="5.2" ry="5" opacity="0.81"/><ellipse cx="1574.1" cy="243.1" rx="4.2" ry="4.6" opacity="0.93"/><ellipse cx="1583.9" cy="237" rx="4.1" ry="4.5" opacity="1.00"/><ellipse cx="1595" cy="236.7" rx="4.1" ry="3.8" opacity="0.80"/><ellipse cx="1607.5" cy="236.7" rx="5" ry="4.9" opacity="0.83"/><ellipse cx="1617.9" cy="237.1" rx="4.2" ry="4.1" opacity="0.85"/><ellipse cx="1628.4" cy="238.1" rx="4.3" ry="4.4" opacity="0.84"/><ellipse cx="1650.3" cy="238" rx="4.3" ry="4" opacity="0.81"/><ellipse cx="1661.1" cy="237.1" rx="4.1" ry="3.9" opacity="0.82"/><ellipse cx="1671.1" cy="235.5" rx="4.2" ry="4.3" opacity="0.81"/><ellipse cx="1683.5" cy="236.9" rx="4.1" ry="4.4" opacity="0.84"/><ellipse cx="1695.6" cy="240.6" rx="5.2" ry="5.5" opacity="0.82"/><ellipse cx="1705.6" cy="235.8" rx="5.2" ry="5.1" opacity="0.84"/><ellipse cx="1718" cy="238.8" rx="5" ry="5" opacity="0.81"/><ellipse cx="1232" cy="250.2" rx="4.2" ry="4" opacity="1.00"/><ellipse cx="1241.2" cy="252.8" rx="4.7" ry="5.3" opacity="0.80"/><ellipse cx="1252.2" cy="250.4" rx="4.7" ry="4.4" opacity="0.92"/><ellipse cx="1264.2" cy="255.6" rx="5" ry="5.9" opacity="0.97"/><ellipse cx="1274" cy="250.5" rx="4.8" ry="4.7" opacity="0.98"/><ellipse cx="1283.3" cy="251.8" rx="4.2" ry="4.5" opacity="0.84"/><ellipse cx="1295.7" cy="251" rx="5" ry="4.8" opacity="0.80"/><ellipse cx="1306.5" cy="251.1" rx="5.3" ry="5.8" opacity="0.90"/><ellipse cx="1316.4" cy="252.6" rx="4.3" ry="4.1" opacity="1.00"/><ellipse cx="1328.9" cy="248" rx="4.6" ry="4.1" opacity="0.87"/><ellipse cx="1339.4" cy="246.1" rx="5.2" ry="5" opacity="0.80"/><ellipse cx="1350.1" cy="248.1" rx="5" ry="4.7" opacity="0.83"/><ellipse cx="1362.6" cy="244.5" rx="4.2" ry="4.9" opacity="0.90"/><ellipse cx="1372" cy="244.8" rx="4.2" ry="4.3" opacity="0.92"/><ellipse cx="1384.2" cy="247.6" rx="5.2" ry="6.2" opacity="0.99"/><ellipse cx="1405" cy="245.5" rx="5.4" ry="5.7" opacity="0.97"/><ellipse cx="1417.1" cy="249.8" rx="4.9" ry="4.8" opacity="0.90"/><ellipse cx="1428.5" cy="249" rx="5.1" ry="4.9" opacity="0.98"/><ellipse cx="1438" cy="251.9" rx="4.8" ry="4.7" opacity="0.84"/><ellipse cx="1448" cy="249" rx="4.7" ry="5.3" opacity="0.94"/><ellipse cx="1470.1" cy="252.8" rx="5" ry="5.9" opacity="0.93"/><ellipse cx="1482" cy="250.3" rx="4.6" ry="4.7" opacity="0.99"/><ellipse cx="1494.4" cy="255.3" rx="4.3" ry="4.8" opacity="0.95"/><ellipse cx="1506.2" cy="249.9" rx="4.3" ry="3.9" opacity="0.84"/><ellipse cx="1515.9" cy="251.6" rx="4.6" ry="5.4" opacity="0.82"/><ellipse cx="1527.1" cy="250.7" rx="5" ry="5.2" opacity="0.89"/><ellipse cx="1536.3" cy="252.4" rx="4.2" ry="4.8" opacity="0.87"/><ellipse cx="1548.4" cy="251.3" rx="4.9" ry="4.7" opacity="0.94"/><ellipse cx="1560.2" cy="248" rx="4.4" ry="5" opacity="0.96"/><ellipse cx="1572.4" cy="249" rx="4.3" ry="4.8" opacity="0.80"/><ellipse cx="1582.5" cy="244.7" rx="4" ry="3.6" opacity="0.83"/><ellipse cx="1602.1" cy="249.8" rx="5.4" ry="5.7" opacity="0.83"/><ellipse cx="1621.8" cy="244.2" rx="4.1" ry="4" opacity="0.92"/><ellipse cx="1633.7" cy="248.4" rx="4.5" ry="5.3" opacity="0.90"/><ellipse cx="1644.8" cy="244.2" rx="4.2" ry="4.7" opacity="0.94"/><ellipse cx="1654.8" cy="250" rx="5.1" ry="4.9" opacity="0.82"/><ellipse cx="1666.4" cy="251" rx="5.1" ry="5.6" opacity="0.85"/><ellipse cx="1677.5" cy="247.2" rx="4.3" ry="4.7" opacity="0.92"/><ellipse cx="1687.5" cy="248.8" rx="4.6" ry="4.2" opacity="0.91"/><ellipse cx="1699.2" cy="249.4" rx="4.4" ry="4.8" opacity="0.93"/><ellipse cx="1711.5" cy="249.9" rx="4.4" ry="4.2" opacity="0.93"/><ellipse cx="1233.3" cy="265.7" rx="5" ry="5" opacity="0.99"/><ellipse cx="1243.5" cy="264.8" rx="4.1" ry="3.7" opacity="0.92"/><ellipse cx="1254.5" cy="260.4" rx="5.3" ry="5.1" opacity="0.98"/><ellipse cx="1264.1" cy="262.3" rx="4.7" ry="5" opacity="0.87"/><ellipse cx="1275.9" cy="258.7" rx="4.1" ry="4" opacity="0.88"/><ellipse cx="1287.4" cy="258.6" rx="4.4" ry="5" opacity="0.90"/><ellipse cx="1297.9" cy="259.3" rx="5.3" ry="4.9" opacity="0.99"/><ellipse cx="1308.6" cy="259.8" rx="4.4" ry="5.1" opacity="0.81"/><ellipse cx="1330" cy="259.6" rx="4.6" ry="4.3" opacity="0.82"/><ellipse cx="1342.5" cy="254.3" rx="4.4" ry="4.1" opacity="0.95"/><ellipse cx="1351.9" cy="255.1" rx="4.7" ry="4.5" opacity="0.97"/><ellipse cx="1363.7" cy="257.2" rx="4.5" ry="5.3" opacity="0.82"/><ellipse cx="1373.3" cy="256.4" rx="5" ry="5.2" opacity="0.98"/><ellipse cx="1385.8" cy="259.6" rx="4.4" ry="4.9" opacity="0.89"/><ellipse cx="1395.4" cy="257.5" rx="5.3" ry="5.4" opacity="0.82"/><ellipse cx="1405.4" cy="258.7" rx="4.7" ry="5.4" opacity="1.00"/><ellipse cx="1415.7" cy="258.9" rx="5" ry="5.2" opacity="0.87"/><ellipse cx="1427.7" cy="264.6" rx="4.8" ry="5.2" opacity="0.80"/><ellipse cx="1440" cy="266" rx="4.5" ry="4.4" opacity="0.97"/><ellipse cx="1450.4" cy="262.3" rx="4.5" ry="4.4" opacity="0.88"/><ellipse cx="1462.7" cy="262.8" rx="4.9" ry="4.8" opacity="0.98"/><ellipse cx="1475.1" cy="265.4" rx="5.4" ry="6.2" opacity="0.95"/><ellipse cx="1485.1" cy="264" rx="4.5" ry="4.8" opacity="0.97"/><ellipse cx="1495.5" cy="264.6" rx="4.5" ry="5.2" opacity="0.97"/><ellipse cx="1505.1" cy="264.8" rx="5" ry="4.6" opacity="0.94"/><ellipse cx="1517.3" cy="261.1" rx="4.6" ry="5.3" opacity="0.87"/><ellipse cx="1529.4" cy="257.8" rx="4.5" ry="4.5" opacity="0.85"/><ellipse cx="1550.5" cy="256.2" rx="4.6" ry="5.5" opacity="0.88"/><ellipse cx="1560.7" cy="258.7" rx="5.3" ry="5.9" opacity="0.89"/><ellipse cx="1571" cy="260.1" rx="4.8" ry="5.5" opacity="0.82"/><ellipse cx="1581.9" cy="257.3" rx="4.6" ry="4.4" opacity="0.98"/><ellipse cx="1592.4" cy="256.6" rx="5.3" ry="6.3" opacity="0.94"/><ellipse cx="1601.7" cy="258.5" rx="4.6" ry="4.3" opacity="0.94"/><ellipse cx="1612.7" cy="260.8" rx="5.1" ry="5.7" opacity="0.87"/><ellipse cx="1624.6" cy="257.4" rx="5.2" ry="5.3" opacity="1.00"/><ellipse cx="1636.2" cy="263.3" rx="4.3" ry="4.8" opacity="0.86"/><ellipse cx="1646" cy="261.4" rx="4.7" ry="5.6" opacity="0.93"/><ellipse cx="1658.6" cy="262.4" rx="5.1" ry="5.4" opacity="0.84"/><ellipse cx="1670.4" cy="265.3" rx="4.5" ry="4.1" opacity="0.98"/><ellipse cx="1681.3" cy="266" rx="5.3" ry="6.2" opacity="0.99"/><ellipse cx="1692.4" cy="260.9" rx="4.9" ry="5.3" opacity="0.96"/><ellipse cx="1702.5" cy="261.8" rx="4.6" ry="4.3" opacity="0.90"/><ellipse cx="1711.7" cy="262" rx="5" ry="4.9" opacity="0.95"/><ellipse cx="1226.1" cy="274" rx="5.3" ry="5.9" opacity="0.84"/><ellipse cx="1237.9" cy="273.9" rx="5" ry="5.9" opacity="0.85"/><ellipse cx="1259.1" cy="272" rx="4.2" ry="5" opacity="0.89"/><ellipse cx="1269.5" cy="271.8" rx="4.3" ry="4.4" opacity="0.84"/><ellipse cx="1280.8" cy="267.8" rx="4.2" ry="4" opacity="0.84"/><ellipse cx="1291.1" cy="268.7" rx="4.3" ry="5.1" opacity="0.90"/><ellipse cx="1301.9" cy="271.5" rx="4.7" ry="4.4" opacity="0.84"/><ellipse cx="1311.7" cy="265.3" rx="5" ry="5" opacity="0.99"/><ellipse cx="1322.3" cy="267.4" rx="5" ry="5.8" opacity="0.88"/><ellipse cx="1333.5" cy="265.4" rx="5.2" ry="5.7" opacity="0.95"/><ellipse cx="1345.8" cy="268.9" rx="4.6" ry="5.1" opacity="0.86"/><ellipse cx="1357.5" cy="273.6" rx="4.2" ry="4.8" opacity="0.87"/><ellipse cx="1368.7" cy="272.6" rx="4.5" ry="4.6" opacity="0.99"/><ellipse cx="1388.8" cy="272.7" rx="4.7" ry="4.7" opacity="0.87"/><ellipse cx="1399.8" cy="276.6" rx="4.9" ry="5" opacity="0.90"/><ellipse cx="1411.1" cy="276" rx="4.4" ry="4.4" opacity="0.87"/><ellipse cx="1423.4" cy="274.6" rx="4.4" ry="4.2" opacity="0.87"/><ellipse cx="1435" cy="270.9" rx="4.3" ry="4" opacity="0.81"/><ellipse cx="1444.9" cy="270.8" rx="4.4" ry="5.1" opacity="0.95"/><ellipse cx="1457.4" cy="273.7" rx="5.3" ry="5.5" opacity="0.82"/><ellipse cx="1467.2" cy="274.4" rx="5.2" ry="6" opacity="0.88"/><ellipse cx="1488.6" cy="267.6" rx="5" ry="4.7" opacity="0.93"/><ellipse cx="1498.4" cy="271" rx="4.9" ry="5.9" opacity="0.99"/><ellipse cx="1509.1" cy="268.7" rx="4.4" ry="5.2" opacity="0.85"/><ellipse cx="1520.7" cy="266.5" rx="4.3" ry="4.8" opacity="0.83"/><ellipse cx="1530.1" cy="268.7" rx="5" ry="5.6" opacity="0.81"/><ellipse cx="1541.2" cy="268" rx="5.2" ry="5.3" opacity="0.92"/><ellipse cx="1553.7" cy="270.9" rx="5.3" ry="5" opacity="0.91"/><ellipse cx="1564.2" cy="270.1" rx="4" ry="4.2" opacity="0.96"/><ellipse cx="1573.4" cy="271.4" rx="4.6" ry="5.1" opacity="0.93"/><ellipse cx="1584" cy="273.2" rx="5.3" ry="5.3" opacity="0.99"/><ellipse cx="1594.4" cy="269.2" rx="5.3" ry="6" opacity="0.96"/><ellipse cx="1607" cy="273.1" rx="4.4" ry="4.8" opacity="0.95"/><ellipse cx="1616.8" cy="275.1" rx="4.7" ry="4.3" opacity="0.86"/><ellipse cx="1629.1" cy="275.2" rx="4.2" ry="4.9" opacity="0.95"/><ellipse cx="1640.3" cy="273.4" rx="5.3" ry="4.9" opacity="0.82"/><ellipse cx="1650.5" cy="271.5" rx="5.2" ry="5.1" opacity="0.89"/><ellipse cx="1662.1" cy="275.3" rx="4.1" ry="4" opacity="0.90"/><ellipse cx="1673.6" cy="272.5" rx="4.5" ry="5.4" opacity="0.98"/><ellipse cx="1684.2" cy="274.1" rx="5.1" ry="5.9" opacity="0.95"/><ellipse cx="1694.8" cy="276.1" rx="4.7" ry="4.4" opacity="0.82"/><ellipse cx="1706.3" cy="269" rx="5.4" ry="5.1" opacity="0.91"/><ellipse cx="1225" cy="283.9" rx="5.3" ry="5.5" opacity="0.81"/><ellipse cx="1236.7" cy="282.2" rx="4.5" ry="4.2" opacity="0.99"/><ellipse cx="1248.7" cy="277.2" rx="4.3" ry="4" opacity="0.90"/><ellipse cx="1261" cy="279.2" rx="5.1" ry="4.9" opacity="0.85"/><ellipse cx="1273.3" cy="280" rx="5.4" ry="5.7" opacity="0.95"/><ellipse cx="1285.4" cy="279" rx="4.1" ry="4.6" opacity="0.98"/><ellipse cx="1297.1" cy="277.9" rx="4.6" ry="5.5" opacity="0.96"/><ellipse cx="1306.9" cy="281.6" rx="4.8" ry="4.5" opacity="0.88"/><ellipse cx="1317.7" cy="281.1" rx="4.4" ry="4.9" opacity="0.87"/><ellipse cx="1328.9" cy="279.6" rx="5.2" ry="6.3" opacity="0.87"/><ellipse cx="1338.6" cy="283.4" rx="5.4" ry="5.3" opacity="0.88"/><ellipse cx="1347.9" cy="281.4" rx="4.2" ry="4.5" opacity="0.86"/><ellipse cx="1360.3" cy="285.6" rx="4.5" ry="4.8" opacity="0.99"/><ellipse cx="1372.4" cy="286.1" rx="4.5" ry="5.4" opacity="0.92"/><ellipse cx="1382.4" cy="288.5" rx="4.1" ry="3.9" opacity="0.80"/><ellipse cx="1393.4" cy="282.5" rx="5.2" ry="6.1" opacity="0.93"/><ellipse cx="1437.1" cy="280.8" rx="5.2" ry="5.1" opacity="0.82"/><ellipse cx="1449.3" cy="282.2" rx="4.5" ry="4.9" opacity="0.99"/><ellipse cx="1458.7" cy="283.6" rx="5.4" ry="5.3" opacity="0.82"/><ellipse cx="1468.4" cy="279.6" rx="4.9" ry="5.9" opacity="0.99"/><ellipse cx="1479.7" cy="281" rx="4.2" ry="4.3" opacity="0.95"/><ellipse cx="1492" cy="277.7" rx="4.2" ry="4.5" opacity="0.83"/><ellipse cx="1503.9" cy="276.8" rx="4.7" ry="4.8" opacity="0.91"/><ellipse cx="1515" cy="275.9" rx="4.1" ry="4.6" opacity="0.88"/><ellipse cx="1525" cy="281.9" rx="4.3" ry="4.4" opacity="0.82"/><ellipse cx="1535.3" cy="282" rx="4.3" ry="4.5" opacity="0.93"/><ellipse cx="1555.7" cy="280.4" rx="4.1" ry="4.1" opacity="0.93"/><ellipse cx="1566.7" cy="285.5" rx="4.3" ry="4.3" opacity="0.83"/><ellipse cx="1588.6" cy="286.5" rx="4.9" ry="4.5" opacity="0.83"/><ellipse cx="1599.5" cy="283.5" rx="4.1" ry="4.4" opacity="0.95"/><ellipse cx="1609.3" cy="286.2" rx="4.6" ry="5.4" opacity="0.93"/><ellipse cx="1618.5" cy="283.2" rx="4.6" ry="5" opacity="0.84"/><ellipse cx="1631.1" cy="284" rx="4.4" ry="4.5" opacity="0.93"/><ellipse cx="1642.6" cy="284.3" rx="4.2" ry="5" opacity="0.81"/><ellipse cx="1654.9" cy="281.3" rx="4.7" ry="5.2" opacity="0.90"/><ellipse cx="1665.8" cy="285.5" rx="4.4" ry="4.6" opacity="0.99"/><ellipse cx="1675.5" cy="282.5" rx="4.2" ry="4.5" opacity="0.94"/><ellipse cx="1688" cy="278.4" rx="5" ry="5" opacity="0.96"/><ellipse cx="1697.4" cy="281.4" rx="5" ry="5.1" opacity="0.87"/><ellipse cx="1232.7" cy="292.7" rx="4.9" ry="5.5" opacity="0.83"/><ellipse cx="1252.7" cy="293" rx="5.4" ry="6.1" opacity="0.86"/><ellipse cx="1264.8" cy="291.6" rx="5.4" ry="5.7" opacity="0.93"/><ellipse cx="1274.7" cy="291.7" rx="4.7" ry="4.9" opacity="0.87"/><ellipse cx="1285.9" cy="290.5" rx="4.4" ry="4.5" opacity="0.90"/><ellipse cx="1297.4" cy="291.1" rx="4.7" ry="5.3" opacity="0.86"/><ellipse cx="1309.2" cy="294.4" rx="4.3" ry="4.4" opacity="0.99"/><ellipse cx="1319.4" cy="294.3" rx="5" ry="5.6" opacity="0.96"/><ellipse cx="1329.3" cy="295.2" rx="4.5" ry="5.1" opacity="0.86"/><ellipse cx="1341" cy="293.9" rx="4.3" ry="4.8" opacity="0.96"/><ellipse cx="1352.4" cy="297.5" rx="4.4" ry="4" opacity="0.81"/><ellipse cx="1364.9" cy="296.1" rx="4.9" ry="4.8" opacity="0.99"/><ellipse cx="1375.2" cy="292.8" rx="5.1" ry="5.2" opacity="0.95"/><ellipse cx="1385.3" cy="294.9" rx="5" ry="5.8" opacity="0.98"/><ellipse cx="1396" cy="293.7" rx="4.4" ry="4.2" opacity="0.99"/><ellipse cx="1406.2" cy="296.4" rx="5.2" ry="6.1" opacity="0.87"/><ellipse cx="1416.8" cy="290.4" rx="5.1" ry="5.9" opacity="0.87"/><ellipse cx="1438.1" cy="290.2" rx="4" ry="4" opacity="0.87"/><ellipse cx="1449.6" cy="291.4" rx="4.3" ry="4.6" opacity="0.80"/><ellipse cx="1459.8" cy="288.1" rx="5.2" ry="5.6" opacity="0.98"/><ellipse cx="1470.9" cy="288.9" rx="4.1" ry="4.4" opacity="0.87"/><ellipse cx="1481.8" cy="287.6" rx="4.3" ry="4.3" opacity="0.86"/><ellipse cx="1494.1" cy="288.1" rx="5.4" ry="5.2" opacity="0.85"/><ellipse cx="1505.3" cy="290.6" rx="4.1" ry="4" opacity="0.96"/><ellipse cx="1517.2" cy="292.2" rx="5.4" ry="5.2" opacity="0.81"/><ellipse cx="1528.5" cy="295.2" rx="5.2" ry="5.9" opacity="0.91"/><ellipse cx="1538" cy="292.3" rx="5.1" ry="4.7" opacity="0.89"/><ellipse cx="1548.8" cy="292.8" rx="4" ry="4" opacity="0.82"/><ellipse cx="1559.5" cy="295.5" rx="4.4" ry="5.3" opacity="0.94"/><ellipse cx="1569.2" cy="295.9" rx="4.7" ry="4.5" opacity="0.87"/><ellipse cx="1581.4" cy="295.1" rx="4.5" ry="4.4" opacity="0.92"/><ellipse cx="1590.9" cy="299.2" rx="4.5" ry="4.8" opacity="0.82"/><ellipse cx="1601.2" cy="294.6" rx="5.2" ry="6.2" opacity="0.87"/><ellipse cx="1611.7" cy="294.7" rx="4.2" ry="4.4" opacity="0.93"/><ellipse cx="1622.2" cy="292.8" rx="5.1" ry="5.2" opacity="0.89"/><ellipse cx="1633.9" cy="290.5" rx="4.3" ry="4.8" opacity="0.99"/><ellipse cx="1644.8" cy="292.8" rx="4.3" ry="4.7" opacity="0.83"/><ellipse cx="1654.9" cy="293.2" rx="4.2" ry="4.4" opacity="0.92"/><ellipse cx="1665.2" cy="291.8" rx="4.2" ry="3.9" opacity="0.90"/><ellipse cx="1675.4" cy="292" rx="4.8" ry="5.1" opacity="0.92"/><ellipse cx="1685.4" cy="290" rx="5.2" ry="5.2" opacity="0.91"/><ellipse cx="1696.1" cy="293.4" rx="5.2" ry="5.6" opacity="0.93"/><ellipse cx="1705.4" cy="293.2" rx="5.4" ry="6.2" opacity="0.95"/><ellipse cx="1715.2" cy="292.6" rx="4.7" ry="4.9" opacity="0.80"/><ellipse cx="1232.3" cy="302.3" rx="5.2" ry="5.2" opacity="0.84"/><ellipse cx="1241.6" cy="301.6" rx="4.1" ry="3.8" opacity="0.81"/><ellipse cx="1251.3" cy="302.1" rx="4.4" ry="5.1" opacity="0.98"/><ellipse cx="1263.9" cy="304.1" rx="5.1" ry="5.8" opacity="0.86"/><ellipse cx="1275.5" cy="303.5" rx="4.1" ry="4.5" opacity="0.99"/><ellipse cx="1287.7" cy="303.7" rx="5" ry="5.2" opacity="0.89"/><ellipse cx="1297.5" cy="309.8" rx="4.4" ry="4.3" opacity="0.95"/><ellipse cx="1309.1" cy="306.2" rx="4.3" ry="4.4" opacity="0.84"/><ellipse cx="1320" cy="307" rx="4" ry="4.7" opacity="0.95"/><ellipse cx="1330.5" cy="304.7" rx="4.5" ry="4.6" opacity="0.95"/><ellipse cx="1341.4" cy="303.9" rx="5.3" ry="6" opacity="0.89"/><ellipse cx="1361.5" cy="305.9" rx="4.7" ry="4.5" opacity="0.88"/><ellipse cx="1372.1" cy="300.6" rx="5.1" ry="5.5" opacity="0.85"/><ellipse cx="1395.5" cy="304.3" rx="4.9" ry="5.5" opacity="0.96"/><ellipse cx="1408" cy="299.4" rx="4.1" ry="3.9" opacity="0.88"/><ellipse cx="1429.1" cy="298.8" rx="4.7" ry="4.9" opacity="0.91"/><ellipse cx="1452.9" cy="302" rx="4.8" ry="4.7" opacity="0.84"/><ellipse cx="1464.6" cy="300.2" rx="4.8" ry="5" opacity="0.93"/><ellipse cx="1474" cy="303.8" rx="5" ry="5.6" opacity="0.83"/><ellipse cx="1503.3" cy="304.8" rx="4.5" ry="4.2" opacity="0.96"/><ellipse cx="1513.2" cy="302.3" rx="4.5" ry="5.1" opacity="0.82"/><ellipse cx="1525.8" cy="304.4" rx="4.1" ry="4.8" opacity="0.95"/><ellipse cx="1536.4" cy="305.5" rx="4.1" ry="4.2" opacity="0.99"/><ellipse cx="1557.6" cy="309.6" rx="4.6" ry="4.7" opacity="0.93"/><ellipse cx="1579.2" cy="308.7" rx="5.4" ry="5.9" opacity="0.80"/><ellipse cx="1591.3" cy="305" rx="4.2" ry="4.7" opacity="0.86"/><ellipse cx="1623.4" cy="301.2" rx="5.1" ry="5.8" opacity="0.86"/><ellipse cx="1644.6" cy="300.5" rx="4.3" ry="4.4" opacity="0.88"/><ellipse cx="1654.2" cy="301.3" rx="4.4" ry="4.6" opacity="0.99"/><ellipse cx="1664.2" cy="304.3" rx="4.5" ry="4.5" opacity="0.93"/><ellipse cx="1676" cy="299.6" rx="4.2" ry="4.8" opacity="0.81"/><ellipse cx="1707.9" cy="302.3" rx="4" ry="4" opacity="0.89"/></g>
<path d="M1230 318 C1330 322 1450 326 1560 324 S1680 318 1710 317" stroke="#9db3ba" stroke-width="2.2" stroke-dasharray="7 5" fill="none" opacity="0.8"/>
<path d="M1230 326 C1330 330 1450 335 1560 333 S1680 326 1710 325" stroke="#e3f2ee" stroke-width="2.5" stroke-dasharray="5 3" fill="none" opacity="0.9"/>
<g filter="url(#soft)" fill="url(#cC)"><ellipse cx="1229.7" cy="384.9" rx="4.2" ry="4.6" opacity="0.82"/><ellipse cx="1263.1" cy="386.5" rx="4.2" ry="5" opacity="0.88"/><ellipse cx="1294.1" cy="389.8" rx="3.8" ry="4.2" opacity="0.94"/><ellipse cx="1303.7" cy="389.2" rx="4.3" ry="5.6" opacity="0.98"/><ellipse cx="1311.5" cy="392" rx="3.9" ry="5.1" opacity="0.84"/><ellipse cx="1329.8" cy="390" rx="3.8" ry="3.9" opacity="0.94"/><ellipse cx="1347" cy="391.6" rx="3.7" ry="4.5" opacity="0.87"/><ellipse cx="1355.9" cy="392.1" rx="3.9" ry="4.1" opacity="0.90"/><ellipse cx="1384.4" cy="393.6" rx="3.6" ry="4.5" opacity="0.87"/><ellipse cx="1402" cy="392.7" rx="3.5" ry="3.7" opacity="0.94"/><ellipse cx="1428.1" cy="394.5" rx="3.6" ry="3.7" opacity="0.80"/><ellipse cx="1436.9" cy="396.1" rx="3.5" ry="4.6" opacity="0.86"/><ellipse cx="1446.8" cy="398.2" rx="3.4" ry="3.4" opacity="0.97"/><ellipse cx="1456.3" cy="397.8" rx="3.8" ry="4" opacity="0.96"/><ellipse cx="1464.1" cy="396.8" rx="3.5" ry="4.1" opacity="0.94"/><ellipse cx="1482.7" cy="397.5" rx="3.4" ry="4.1" opacity="0.87"/><ellipse cx="1491.7" cy="399.1" rx="4.2" ry="4.8" opacity="0.96"/><ellipse cx="1529.8" cy="398.7" rx="3.4" ry="3.4" opacity="0.89"/><ellipse cx="1538" cy="402.4" rx="3.7" ry="4.6" opacity="0.97"/><ellipse cx="1545.7" cy="400" rx="3.8" ry="4.5" opacity="0.88"/><ellipse cx="1561" cy="399.6" rx="3.7" ry="4.5" opacity="0.97"/><ellipse cx="1579.3" cy="400.5" rx="3.8" ry="4.4" opacity="0.88"/><ellipse cx="1586.7" cy="403.5" rx="4.1" ry="4.2" opacity="0.92"/><ellipse cx="1596.3" cy="405" rx="4.1" ry="5.1" opacity="0.81"/><ellipse cx="1604.1" cy="405.1" rx="4.1" ry="4.4" opacity="0.98"/><ellipse cx="1612.2" cy="402.9" rx="4.1" ry="4.5" opacity="0.92"/><ellipse cx="1630.4" cy="404.7" rx="4" ry="4.8" opacity="0.99"/><ellipse cx="1648.9" cy="403.6" rx="4.1" ry="4.9" opacity="0.81"/><ellipse cx="1656.6" cy="405.2" rx="3.5" ry="4.1" opacity="0.94"/><ellipse cx="1673.2" cy="405.9" rx="3.6" ry="3.8" opacity="0.96"/><ellipse cx="1682.5" cy="408.5" rx="3.3" ry="3.8" opacity="0.85"/><ellipse cx="1698" cy="406.2" rx="3.4" ry="4.2" opacity="0.86"/><ellipse cx="1705.3" cy="408.9" rx="3.8" ry="4.7" opacity="0.83"/><ellipse cx="1713" cy="409.8" rx="4.1" ry="4.1" opacity="0.85"/><ellipse cx="1224.8" cy="395" rx="4.1" ry="5.1" opacity="0.93"/><ellipse cx="1232.8" cy="395.6" rx="4.2" ry="5.1" opacity="0.86"/><ellipse cx="1242.3" cy="394.7" rx="3.6" ry="4.2" opacity="0.85"/><ellipse cx="1251.9" cy="396.7" rx="3.5" ry="4.3" opacity="0.94"/><ellipse cx="1261.2" cy="396.5" rx="3.6" ry="3.9" opacity="0.82"/><ellipse cx="1269.6" cy="397" rx="3.5" ry="3.8" opacity="0.82"/><ellipse cx="1277.1" cy="393.8" rx="4.1" ry="4.9" opacity="0.82"/><ellipse cx="1292.9" cy="395.3" rx="4.1" ry="5.1" opacity="0.94"/><ellipse cx="1302" cy="395.1" rx="3.7" ry="4" opacity="0.86"/><ellipse cx="1309.6" cy="396.3" rx="3.6" ry="4.3" opacity="0.97"/><ellipse cx="1317.8" cy="399.4" rx="4.2" ry="5" opacity="0.89"/><ellipse cx="1325.5" cy="396.7" rx="3.4" ry="4.2" opacity="0.90"/><ellipse cx="1333.8" cy="400.4" rx="3.8" ry="4.7" opacity="0.88"/><ellipse cx="1341.9" cy="396.7" rx="3.9" ry="5" opacity="0.95"/><ellipse cx="1349.9" cy="398.9" rx="3.6" ry="4.1" opacity="0.89"/><ellipse cx="1359.6" cy="401.1" rx="3.8" ry="3.9" opacity="0.99"/><ellipse cx="1368.5" cy="401.2" rx="3.7" ry="3.7" opacity="1.00"/><ellipse cx="1378" cy="399.4" rx="4.1" ry="5.1" opacity="0.84"/><ellipse cx="1386.2" cy="398.9" rx="4.1" ry="4.2" opacity="0.95"/><ellipse cx="1393.9" cy="400" rx="3.7" ry="4.7" opacity="0.92"/><ellipse cx="1402.8" cy="400.3" rx="3.4" ry="3.9" opacity="0.81"/><ellipse cx="1411.1" cy="403.4" rx="3.7" ry="4.2" opacity="0.87"/><ellipse cx="1420.9" cy="402.1" rx="3.8" ry="4.1" opacity="0.89"/><ellipse cx="1429.4" cy="401.8" rx="4.3" ry="4.5" opacity="0.91"/><ellipse cx="1436.9" cy="401.7" rx="4.1" ry="4.4" opacity="0.98"/><ellipse cx="1445.2" cy="402.8" rx="3.8" ry="3.9" opacity="0.81"/><ellipse cx="1454.3" cy="402.5" rx="4.2" ry="4.6" opacity="0.96"/><ellipse cx="1472.1" cy="404.3" rx="3.6" ry="3.8" opacity="0.89"/><ellipse cx="1479.7" cy="405.4" rx="3.8" ry="4.1" opacity="0.94"/><ellipse cx="1488.5" cy="405.1" rx="3.7" ry="3.9" opacity="0.91"/><ellipse cx="1497.5" cy="404.9" rx="3.9" ry="4.3" opacity="0.82"/><ellipse cx="1507" cy="403.1" rx="3.7" ry="4.6" opacity="0.97"/><ellipse cx="1514.9" cy="404.4" rx="4" ry="4.9" opacity="0.86"/><ellipse cx="1524.2" cy="406.2" rx="4.1" ry="4.6" opacity="1.00"/><ellipse cx="1531.2" cy="407.8" rx="3.3" ry="3.7" opacity="0.91"/><ellipse cx="1539.2" cy="405.3" rx="4.1" ry="5" opacity="0.91"/><ellipse cx="1546.3" cy="407.9" rx="3.5" ry="3.5" opacity="0.89"/><ellipse cx="1555.3" cy="408.3" rx="3.9" ry="4.8" opacity="0.89"/><ellipse cx="1562.9" cy="407.6" rx="3.9" ry="4.1" opacity="0.95"/><ellipse cx="1570.9" cy="406.1" rx="3.6" ry="4.3" opacity="0.95"/><ellipse cx="1580.1" cy="406.6" rx="4.1" ry="4.2" opacity="0.83"/><ellipse cx="1588.7" cy="407.6" rx="4.2" ry="4.5" opacity="0.99"/><ellipse cx="1615.3" cy="408.8" rx="3.3" ry="3.6" opacity="0.98"/><ellipse cx="1622.6" cy="409.4" rx="3.4" ry="3.7" opacity="0.84"/><ellipse cx="1631" cy="409.5" rx="3.8" ry="4.7" opacity="0.95"/><ellipse cx="1640.7" cy="411.8" rx="3.9" ry="4.2" opacity="0.90"/><ellipse cx="1659.5" cy="410.4" rx="3.8" ry="4.2" opacity="0.97"/><ellipse cx="1668.5" cy="410.6" rx="3.9" ry="5.1" opacity="0.89"/><ellipse cx="1677.6" cy="410.4" rx="3.6" ry="3.7" opacity="0.82"/><ellipse cx="1685.1" cy="413.6" rx="3.4" ry="4.3" opacity="0.92"/><ellipse cx="1692.8" cy="413.8" rx="3.8" ry="4.2" opacity="0.99"/><ellipse cx="1702.6" cy="412.6" rx="4.3" ry="4.5" opacity="0.98"/><ellipse cx="1712.5" cy="412.1" rx="4.1" ry="5.1" opacity="0.95"/><ellipse cx="1231.7" cy="399" rx="4.1" ry="4.5" opacity="0.94"/><ellipse cx="1239.9" cy="402.4" rx="3.3" ry="3.7" opacity="0.99"/><ellipse cx="1248.3" cy="403" rx="3.6" ry="3.6" opacity="0.91"/><ellipse cx="1255.6" cy="403.5" rx="4" ry="5.1" opacity="0.89"/><ellipse cx="1285" cy="401.8" rx="3.3" ry="4.3" opacity="0.83"/><ellipse cx="1292.6" cy="401.5" rx="4.2" ry="4.9" opacity="0.93"/><ellipse cx="1300.8" cy="405.6" rx="3.3" ry="3.4" opacity="0.88"/><ellipse cx="1308.1" cy="405.9" rx="4.1" ry="4.2" opacity="0.95"/><ellipse cx="1316.6" cy="404" rx="3.4" ry="4.3" opacity="0.90"/><ellipse cx="1326.3" cy="404.1" rx="3.6" ry="4.1" opacity="0.85"/><ellipse cx="1335" cy="406.6" rx="3.8" ry="4.9" opacity="0.90"/><ellipse cx="1351.8" cy="405.3" rx="4.2" ry="5.1" opacity="0.94"/><ellipse cx="1359.7" cy="406.8" rx="3.5" ry="4.1" opacity="0.91"/><ellipse cx="1367.2" cy="405.3" rx="4.1" ry="5.3" opacity="0.96"/><ellipse cx="1374.8" cy="404.5" rx="4" ry="4.8" opacity="0.95"/><ellipse cx="1383.4" cy="406.9" rx="4.2" ry="5.1" opacity="0.93"/><ellipse cx="1391.8" cy="408.1" rx="3.9" ry="4.4" opacity="0.83"/><ellipse cx="1400.1" cy="407.5" rx="3.7" ry="4.1" opacity="0.88"/><ellipse cx="1410.1" cy="405.8" rx="3.3" ry="3.7" opacity="0.94"/><ellipse cx="1418.8" cy="407.3" rx="3.5" ry="4.5" opacity="0.80"/><ellipse cx="1426.7" cy="408.1" rx="3.6" ry="4.6" opacity="0.81"/><ellipse cx="1434.4" cy="407.4" rx="4" ry="4.6" opacity="0.96"/><ellipse cx="1442.1" cy="410.1" rx="4.2" ry="4.3" opacity="0.97"/><ellipse cx="1452.1" cy="410.1" rx="3.8" ry="3.8" opacity="0.83"/><ellipse cx="1459.3" cy="410.8" rx="4" ry="5" opacity="0.89"/><ellipse cx="1468.1" cy="408.1" rx="3.9" ry="4.2" opacity="0.88"/><ellipse cx="1477.3" cy="408.5" rx="3.5" ry="4.1" opacity="0.87"/><ellipse cx="1485.6" cy="411.8" rx="3.5" ry="3.8" opacity="0.94"/><ellipse cx="1495.5" cy="410.1" rx="3.9" ry="4.4" opacity="0.82"/><ellipse cx="1504.4" cy="410.5" rx="3.3" ry="3.9" opacity="0.82"/><ellipse cx="1512.3" cy="412" rx="4.2" ry="4.5" opacity="0.90"/><ellipse cx="1520.1" cy="412.9" rx="3.5" ry="3.9" opacity="0.85"/><ellipse cx="1527.6" cy="410.7" rx="3.4" ry="3.8" opacity="0.84"/><ellipse cx="1536.9" cy="412" rx="3.8" ry="4.7" opacity="0.88"/><ellipse cx="1545.2" cy="414.5" rx="3.6" ry="4.1" opacity="1.00"/><ellipse cx="1553.3" cy="412.1" rx="3.4" ry="3.8" opacity="0.98"/><ellipse cx="1561.7" cy="413.4" rx="3.5" ry="3.9" opacity="0.84"/><ellipse cx="1570.4" cy="411.6" rx="4" ry="4.1" opacity="0.89"/><ellipse cx="1578" cy="415.3" rx="3.9" ry="4.1" opacity="0.87"/><ellipse cx="1585.8" cy="413.6" rx="4.1" ry="4.9" opacity="0.96"/><ellipse cx="1594.8" cy="413" rx="3.3" ry="3.6" opacity="0.83"/><ellipse cx="1604.3" cy="415.3" rx="3.7" ry="4.8" opacity="0.85"/><ellipse cx="1612.3" cy="413.4" rx="4.3" ry="5.4" opacity="0.85"/><ellipse cx="1621.2" cy="415" rx="4.2" ry="4.3" opacity="0.86"/><ellipse cx="1630.7" cy="417.8" rx="3.9" ry="4.3" opacity="0.94"/><ellipse cx="1637.9" cy="418.1" rx="3.3" ry="3.7" opacity="0.92"/><ellipse cx="1646.2" cy="418.2" rx="3.5" ry="4.2" opacity="0.83"/><ellipse cx="1654.8" cy="415.6" rx="4.2" ry="4.4" opacity="0.82"/><ellipse cx="1663.3" cy="417.1" rx="3.9" ry="4.9" opacity="0.95"/><ellipse cx="1670.4" cy="418.7" rx="3.3" ry="3.5" opacity="0.86"/><ellipse cx="1679.8" cy="416.3" rx="3.6" ry="4.3" opacity="0.97"/><ellipse cx="1688.8" cy="419.2" rx="3.7" ry="4.4" opacity="0.83"/><ellipse cx="1696.2" cy="417.1" rx="3.7" ry="4.1" opacity="0.83"/><ellipse cx="1704.9" cy="418.3" rx="4.1" ry="4.5" opacity="0.82"/><ellipse cx="1714.5" cy="420.7" rx="4.1" ry="5" opacity="0.91"/><ellipse cx="1226" cy="405.6" rx="4.2" ry="4.7" opacity="0.86"/><ellipse cx="1233.3" cy="408.8" rx="4.1" ry="5.2" opacity="0.96"/><ellipse cx="1240.8" cy="409.4" rx="4" ry="4.4" opacity="0.87"/><ellipse cx="1250.3" cy="408.2" rx="4.1" ry="4.5" opacity="0.87"/><ellipse cx="1259.5" cy="410.6" rx="3.7" ry="4.1" opacity="0.94"/><ellipse cx="1268.8" cy="409.3" rx="3.7" ry="4.6" opacity="0.85"/><ellipse cx="1276.7" cy="407.4" rx="3.5" ry="3.5" opacity="0.99"/><ellipse cx="1285.3" cy="409.9" rx="3.8" ry="4.5" opacity="0.88"/><ellipse cx="1295.1" cy="408.1" rx="3.4" ry="4.1" opacity="0.93"/><ellipse cx="1304.1" cy="412.3" rx="3.4" ry="3.6" opacity="0.80"/><ellipse cx="1311.6" cy="410.7" rx="4.1" ry="4.7" opacity="0.83"/><ellipse cx="1320.8" cy="410.4" rx="3.8" ry="4.9" opacity="0.86"/><ellipse cx="1329.9" cy="410.3" rx="4" ry="5" opacity="0.90"/><ellipse cx="1339.5" cy="412.4" rx="3.8" ry="4.7" opacity="0.91"/><ellipse cx="1349.4" cy="409.6" rx="4.2" ry="4.8" opacity="0.94"/><ellipse cx="1356.8" cy="411.4" rx="4" ry="4.5" opacity="0.96"/><ellipse cx="1365.8" cy="410.4" rx="3.4" ry="4" opacity="0.82"/><ellipse cx="1373.6" cy="412.5" rx="3.4" ry="4.2" opacity="0.98"/><ellipse cx="1381.9" cy="412.1" rx="3.9" ry="5" opacity="0.87"/><ellipse cx="1391.1" cy="414.8" rx="3.4" ry="3.7" opacity="0.82"/><ellipse cx="1399.4" cy="415.8" rx="4.1" ry="4.4" opacity="0.99"/><ellipse cx="1406.4" cy="412.8" rx="3.4" ry="3.7" opacity="0.91"/><ellipse cx="1415.1" cy="414.6" rx="3.6" ry="4.3" opacity="0.95"/><ellipse cx="1423.5" cy="414.3" rx="3.6" ry="4.1" opacity="0.81"/><ellipse cx="1431.1" cy="416.3" rx="4.2" ry="5.2" opacity="0.97"/><ellipse cx="1446.7" cy="414.6" rx="3.9" ry="4.9" opacity="0.82"/><ellipse cx="1456.4" cy="414.8" rx="3.6" ry="4.6" opacity="0.84"/><ellipse cx="1465.9" cy="414" rx="3.8" ry="5" opacity="0.95"/><ellipse cx="1473.2" cy="415.6" rx="4.3" ry="5.5" opacity="0.91"/><ellipse cx="1480.3" cy="418.3" rx="3.6" ry="3.9" opacity="0.91"/><ellipse cx="1498.3" cy="418.9" rx="3.6" ry="4.2" opacity="0.87"/><ellipse cx="1507.4" cy="418" rx="3.4" ry="3.5" opacity="0.98"/><ellipse cx="1515.5" cy="416.1" rx="3.4" ry="4.2" opacity="1.00"/><ellipse cx="1524.9" cy="419.9" rx="4.2" ry="4.6" opacity="0.91"/><ellipse cx="1534.8" cy="419.3" rx="4" ry="4.5" opacity="0.97"/><ellipse cx="1544.4" cy="417.4" rx="4.2" ry="4.8" opacity="0.80"/><ellipse cx="1551.8" cy="420.6" rx="3.7" ry="4.2" opacity="0.84"/><ellipse cx="1560.1" cy="417.1" rx="3.4" ry="3.5" opacity="0.94"/><ellipse cx="1569.5" cy="421" rx="4.2" ry="4.2" opacity="0.83"/><ellipse cx="1578.3" cy="419.2" rx="3.3" ry="3.6" opacity="0.89"/><ellipse cx="1588.2" cy="419" rx="3.4" ry="3.5" opacity="0.94"/><ellipse cx="1596.6" cy="422.4" rx="3.6" ry="4.1" opacity="0.86"/><ellipse cx="1604.8" cy="421.5" rx="3.6" ry="3.8" opacity="0.96"/><ellipse cx="1613.6" cy="420.8" rx="4.2" ry="5.2" opacity="0.82"/><ellipse cx="1621.8" cy="419.8" rx="3.9" ry="4.5" opacity="0.95"/><ellipse cx="1630.8" cy="422.1" rx="3.7" ry="4.2" opacity="0.84"/><ellipse cx="1640.5" cy="423.9" rx="3.9" ry="4.1" opacity="0.87"/><ellipse cx="1649.7" cy="421.3" rx="4" ry="4.5" opacity="1.00"/><ellipse cx="1658" cy="423.2" rx="4.2" ry="4.6" opacity="0.84"/><ellipse cx="1665.2" cy="422.1" rx="3.8" ry="4.5" opacity="0.95"/><ellipse cx="1682.8" cy="423.9" rx="3.5" ry="3.9" opacity="0.97"/><ellipse cx="1698.6" cy="423.3" rx="4.2" ry="4.2" opacity="0.90"/><ellipse cx="1707.5" cy="425.5" rx="3.4" ry="3.8" opacity="0.96"/><ellipse cx="1715.7" cy="424.3" rx="4.3" ry="5.5" opacity="0.98"/><ellipse cx="1225.1" cy="412.2" rx="4.1" ry="4.9" opacity="0.93"/><ellipse cx="1232.9" cy="416.8" rx="3.8" ry="4.2" opacity="0.80"/><ellipse cx="1240.1" cy="417.3" rx="4.2" ry="4.2" opacity="0.96"/><ellipse cx="1247.5" cy="416.3" rx="4.1" ry="5.1" opacity="0.96"/><ellipse cx="1254.5" cy="413.5" rx="4.1" ry="4.8" opacity="0.97"/><ellipse cx="1264.1" cy="413.9" rx="3.6" ry="4.7" opacity="0.80"/><ellipse cx="1273.4" cy="417.4" rx="3.9" ry="4.8" opacity="1.00"/><ellipse cx="1283.3" cy="414.3" rx="4.1" ry="4.4" opacity="0.85"/><ellipse cx="1293.3" cy="414.6" rx="3.7" ry="4.9" opacity="0.83"/><ellipse cx="1302.4" cy="417" rx="4.1" ry="4.6" opacity="0.87"/><ellipse cx="1311.5" cy="419" rx="3.6" ry="4.4" opacity="0.97"/><ellipse cx="1319.7" cy="417.8" rx="3.4" ry="3.7" opacity="0.82"/><ellipse cx="1326.8" cy="418.7" rx="4" ry="4.3" opacity="0.92"/><ellipse cx="1336.3" cy="418.5" rx="3.5" ry="3.9" opacity="0.91"/><ellipse cx="1343.8" cy="419.9" rx="3.9" ry="4.1" opacity="0.99"/><ellipse cx="1352.3" cy="416.5" rx="3.6" ry="4.1" opacity="0.91"/><ellipse cx="1371" cy="420.4" rx="3.4" ry="3.7" opacity="0.82"/><ellipse cx="1378.4" cy="417.2" rx="3.8" ry="4.1" opacity="0.80"/><ellipse cx="1386" cy="417.3" rx="3.6" ry="3.9" opacity="0.85"/><ellipse cx="1394" cy="419" rx="3.3" ry="4.1" opacity="0.97"/><ellipse cx="1401.1" cy="418.9" rx="4.2" ry="4.5" opacity="0.89"/><ellipse cx="1410.7" cy="418.7" rx="3.8" ry="3.9" opacity="0.91"/><ellipse cx="1419.6" cy="421.4" rx="3.9" ry="4.4" opacity="0.92"/><ellipse cx="1426.6" cy="422.3" rx="4.2" ry="4.3" opacity="0.98"/><ellipse cx="1434.2" cy="420.4" rx="3.5" ry="4.4" opacity="0.97"/><ellipse cx="1442.3" cy="423.3" rx="3.6" ry="4.3" opacity="0.91"/><ellipse cx="1450.4" cy="419.9" rx="4.1" ry="4.3" opacity="0.84"/><ellipse cx="1459.4" cy="422.5" rx="3.8" ry="4.7" opacity="0.97"/><ellipse cx="1468" cy="420.7" rx="3.5" ry="3.6" opacity="0.83"/><ellipse cx="1477.6" cy="423.1" rx="3.4" ry="4" opacity="0.84"/><ellipse cx="1484.7" cy="420.9" rx="3.9" ry="4" opacity="0.92"/><ellipse cx="1492.4" cy="423.3" rx="3.8" ry="4.9" opacity="0.87"/><ellipse cx="1500.7" cy="423.4" rx="4.1" ry="5.1" opacity="1.00"/><ellipse cx="1509.8" cy="424.1" rx="4.3" ry="5.2" opacity="0.99"/><ellipse cx="1518.6" cy="423.5" rx="3.5" ry="3.8" opacity="0.96"/><ellipse cx="1527" cy="423.7" rx="4" ry="5.2" opacity="0.94"/><ellipse cx="1536.4" cy="423.3" rx="4" ry="5.1" opacity="0.90"/><ellipse cx="1544.5" cy="422.6" rx="3.8" ry="4.1" opacity="0.91"/><ellipse cx="1552.9" cy="423.1" rx="3.5" ry="3.8" opacity="0.89"/><ellipse cx="1561.5" cy="424.7" rx="3.4" ry="4" opacity="0.80"/><ellipse cx="1569.4" cy="424.8" rx="3.6" ry="4.2" opacity="0.95"/><ellipse cx="1576.4" cy="424.1" rx="3.5" ry="3.9" opacity="0.87"/><ellipse cx="1586.3" cy="425.7" rx="3.9" ry="4.6" opacity="0.99"/><ellipse cx="1595.8" cy="425.5" rx="3.3" ry="3.9" opacity="0.99"/><ellipse cx="1603" cy="427.4" rx="3.7" ry="4" opacity="0.93"/><ellipse cx="1611.1" cy="425.8" rx="4.2" ry="4.5" opacity="0.84"/><ellipse cx="1621" cy="425.5" rx="3.5" ry="3.6" opacity="0.96"/><ellipse cx="1630.4" cy="428.1" rx="4.1" ry="5.2" opacity="0.82"/><ellipse cx="1639.8" cy="427.5" rx="4.2" ry="4.5" opacity="0.90"/><ellipse cx="1648.3" cy="426.1" rx="3.5" ry="4.1" opacity="0.97"/><ellipse cx="1655.8" cy="428" rx="3.8" ry="4.1" opacity="0.82"/><ellipse cx="1664.9" cy="428.4" rx="3.9" ry="5" opacity="0.97"/><ellipse cx="1672.1" cy="430.1" rx="3.5" ry="3.6" opacity="0.85"/><ellipse cx="1680.8" cy="428.7" rx="3.8" ry="4.6" opacity="0.83"/><ellipse cx="1688.8" cy="430.4" rx="4.2" ry="5.5" opacity="0.98"/><ellipse cx="1696.9" cy="429.2" rx="3.6" ry="4.5" opacity="0.95"/><ellipse cx="1705.4" cy="431.5" rx="4.2" ry="4.3" opacity="0.89"/><ellipse cx="1224.8" cy="422.6" rx="3.7" ry="4" opacity="0.99"/><ellipse cx="1232.4" cy="419.4" rx="3.4" ry="3.8" opacity="0.82"/><ellipse cx="1240.5" cy="422.9" rx="3.3" ry="3.9" opacity="0.90"/><ellipse cx="1249.2" cy="421.8" rx="3.6" ry="4.4" opacity="0.97"/><ellipse cx="1256.6" cy="420.2" rx="3.6" ry="4.6" opacity="0.93"/><ellipse cx="1266.2" cy="420.8" rx="4.1" ry="4.7" opacity="0.95"/><ellipse cx="1275" cy="421" rx="3.5" ry="4.2" opacity="0.83"/><ellipse cx="1284.5" cy="420.8" rx="3.3" ry="3.6" opacity="0.99"/><ellipse cx="1294.1" cy="421.6" rx="4.1" ry="4.8" opacity="0.98"/><ellipse cx="1301.1" cy="424.1" rx="3.9" ry="4.5" opacity="0.95"/><ellipse cx="1308.8" cy="424.5" rx="3.4" ry="3.6" opacity="0.82"/><ellipse cx="1317.5" cy="423.4" rx="4.3" ry="4.6" opacity="0.92"/><ellipse cx="1327" cy="423.7" rx="3.7" ry="4.8" opacity="0.92"/><ellipse cx="1343.1" cy="423.9" rx="3.9" ry="4.4" opacity="0.96"/><ellipse cx="1351" cy="423.9" rx="3.8" ry="4.1" opacity="0.91"/><ellipse cx="1359.5" cy="424.6" rx="3.6" ry="4.5" opacity="0.97"/><ellipse cx="1367.2" cy="423.5" rx="3.9" ry="4.9" opacity="0.80"/><ellipse cx="1375.2" cy="425.4" rx="4" ry="4.4" opacity="0.83"/><ellipse cx="1393.2" cy="426.5" rx="4.2" ry="5.4" opacity="0.91"/><ellipse cx="1409.8" cy="425.3" rx="3.9" ry="4.5" opacity="0.90"/><ellipse cx="1419.1" cy="425.1" rx="3.3" ry="3.9" opacity="0.94"/><ellipse cx="1427.6" cy="425.1" rx="3.8" ry="4.4" opacity="0.97"/><ellipse cx="1434.9" cy="429.2" rx="3.8" ry="4.7" opacity="0.83"/><ellipse cx="1444.5" cy="428.3" rx="4.1" ry="4.7" opacity="0.82"/><ellipse cx="1452.6" cy="426.4" rx="4.2" ry="4.2" opacity="0.94"/><ellipse cx="1461.2" cy="430.1" rx="3.9" ry="4" opacity="0.98"/><ellipse cx="1468.8" cy="427.6" rx="3.4" ry="3.5" opacity="0.89"/><ellipse cx="1477.7" cy="430.4" rx="4.1" ry="5.1" opacity="0.82"/><ellipse cx="1487.5" cy="428.9" rx="3.4" ry="3.6" opacity="0.94"/><ellipse cx="1496.1" cy="430.9" rx="3.8" ry="4.5" opacity="0.87"/><ellipse cx="1504.5" cy="428.4" rx="3.7" ry="4" opacity="0.94"/><ellipse cx="1513" cy="430.3" rx="3.4" ry="4.3" opacity="0.85"/><ellipse cx="1522.3" cy="429.1" rx="3.4" ry="4.3" opacity="0.90"/><ellipse cx="1529.4" cy="431" rx="3.9" ry="4.7" opacity="0.90"/><ellipse cx="1537" cy="431.1" rx="3.4" ry="4.3" opacity="0.86"/><ellipse cx="1553.6" cy="428.9" rx="4.3" ry="5.1" opacity="0.98"/><ellipse cx="1563.1" cy="430.2" rx="4.1" ry="4.8" opacity="0.93"/><ellipse cx="1570.9" cy="432.7" rx="3.8" ry="4.8" opacity="0.95"/><ellipse cx="1579.2" cy="431" rx="3.4" ry="4.1" opacity="0.98"/><ellipse cx="1587.8" cy="433.3" rx="3.4" ry="4.1" opacity="0.87"/><ellipse cx="1596.3" cy="431" rx="3.5" ry="3.9" opacity="0.93"/><ellipse cx="1606" cy="434.2" rx="3.6" ry="3.7" opacity="0.90"/><ellipse cx="1613.2" cy="432.5" rx="4.3" ry="4.7" opacity="0.95"/><ellipse cx="1623" cy="431" rx="4.1" ry="4.2" opacity="0.97"/><ellipse cx="1632" cy="432.6" rx="3.7" ry="4.3" opacity="0.92"/><ellipse cx="1641.7" cy="432.6" rx="3.3" ry="4" opacity="0.96"/><ellipse cx="1648.9" cy="431.9" rx="4.2" ry="4.8" opacity="0.87"/><ellipse cx="1656.5" cy="434.3" rx="3.4" ry="4.1" opacity="0.91"/><ellipse cx="1665.7" cy="435.8" rx="4.1" ry="5.3" opacity="0.96"/><ellipse cx="1674.4" cy="435.5" rx="4.1" ry="4.9" opacity="0.93"/><ellipse cx="1682.4" cy="433.8" rx="4.2" ry="4.5" opacity="0.96"/><ellipse cx="1689.6" cy="433" rx="3.6" ry="4.7" opacity="0.82"/><ellipse cx="1697.7" cy="436.3" rx="3.8" ry="4.3" opacity="0.93"/><ellipse cx="1707.6" cy="434.4" rx="3.8" ry="4" opacity="0.90"/><ellipse cx="1716.1" cy="436.6" rx="3.7" ry="4.8" opacity="0.81"/><ellipse cx="1224.4" cy="429" rx="3.4" ry="3.9" opacity="0.85"/><ellipse cx="1232.7" cy="428.1" rx="3.7" ry="4" opacity="0.90"/><ellipse cx="1249.3" cy="428.3" rx="4.2" ry="4.8" opacity="0.86"/><ellipse cx="1257.9" cy="428.1" rx="4" ry="4.8" opacity="0.88"/><ellipse cx="1266.2" cy="429.7" rx="4" ry="4.5" opacity="0.93"/><ellipse cx="1273.6" cy="427.9" rx="3.5" ry="4.2" opacity="0.84"/><ellipse cx="1283.3" cy="428.6" rx="3.5" ry="3.7" opacity="0.84"/><ellipse cx="1292" cy="428.9" rx="4.1" ry="4.6" opacity="0.94"/><ellipse cx="1301" cy="430" rx="3.4" ry="4.4" opacity="0.87"/><ellipse cx="1309.9" cy="428.6" rx="4.1" ry="4.5" opacity="0.97"/><ellipse cx="1318.5" cy="429.6" rx="3.5" ry="4.2" opacity="0.83"/><ellipse cx="1335.7" cy="433.4" rx="4.2" ry="4.9" opacity="0.92"/><ellipse cx="1344" cy="429.7" rx="3.8" ry="4" opacity="0.85"/><ellipse cx="1352.7" cy="433.3" rx="3.6" ry="3.9" opacity="0.92"/><ellipse cx="1360.3" cy="432.5" rx="3.9" ry="3.9" opacity="0.87"/><ellipse cx="1368.9" cy="433.5" rx="3.5" ry="3.8" opacity="0.84"/><ellipse cx="1376.6" cy="432.8" rx="3.3" ry="4" opacity="0.82"/><ellipse cx="1383.9" cy="432.3" rx="4.2" ry="4.9" opacity="0.88"/><ellipse cx="1392.5" cy="430.6" rx="4.2" ry="4.6" opacity="0.92"/><ellipse cx="1400" cy="434.7" rx="4.1" ry="4.9" opacity="0.88"/><ellipse cx="1414.7" cy="431.7" rx="4" ry="5.1" opacity="0.92"/><ellipse cx="1423.3" cy="431.2" rx="4.3" ry="5.4" opacity="0.90"/><ellipse cx="1432.8" cy="433.5" rx="3.5" ry="3.6" opacity="0.88"/><ellipse cx="1440.4" cy="434.7" rx="3.5" ry="4.1" opacity="0.94"/><ellipse cx="1450.3" cy="433.2" rx="4" ry="5.1" opacity="0.88"/><ellipse cx="1459.6" cy="434.8" rx="3.6" ry="4.6" opacity="0.98"/><ellipse cx="1467.6" cy="435.9" rx="4" ry="4.9" opacity="0.97"/><ellipse cx="1482.8" cy="434.8" rx="3.4" ry="3.5" opacity="0.97"/><ellipse cx="1490.5" cy="433.5" rx="4.1" ry="4.6" opacity="0.94"/><ellipse cx="1499.1" cy="437.2" rx="3.8" ry="4.3" opacity="0.91"/><ellipse cx="1508.2" cy="433.9" rx="4" ry="4.9" opacity="0.99"/><ellipse cx="1516.3" cy="434.1" rx="3.4" ry="4.3" opacity="0.91"/><ellipse cx="1523.8" cy="437" rx="4.1" ry="5.2" opacity="0.90"/><ellipse cx="1531.8" cy="436.2" rx="4" ry="4.4" opacity="0.89"/><ellipse cx="1540" cy="436" rx="3.5" ry="4.3" opacity="0.90"/><ellipse cx="1549" cy="436.6" rx="3.3" ry="3.6" opacity="0.99"/><ellipse cx="1558.9" cy="435.6" rx="3.4" ry="3.5" opacity="0.84"/><ellipse cx="1567.4" cy="435.2" rx="3.6" ry="3.8" opacity="0.90"/><ellipse cx="1577.1" cy="437.1" rx="3.5" ry="3.7" opacity="0.92"/><ellipse cx="1586.1" cy="435.9" rx="3.8" ry="4.7" opacity="0.86"/><ellipse cx="1595.8" cy="438.2" rx="3.5" ry="4.2" opacity="0.84"/><ellipse cx="1603" cy="437.7" rx="3.6" ry="4.5" opacity="0.89"/><ellipse cx="1612.2" cy="439.3" rx="3.6" ry="4" opacity="0.92"/><ellipse cx="1620.8" cy="439.1" rx="3.5" ry="3.6" opacity="0.97"/><ellipse cx="1630.4" cy="440.6" rx="3.7" ry="3.7" opacity="0.99"/><ellipse cx="1645.3" cy="438.5" rx="3.4" ry="3.7" opacity="0.89"/><ellipse cx="1653.8" cy="441.1" rx="4.1" ry="5.3" opacity="0.83"/><ellipse cx="1662.5" cy="439.6" rx="3.5" ry="3.7" opacity="0.86"/><ellipse cx="1671.3" cy="439.1" rx="4.1" ry="5.1" opacity="0.91"/><ellipse cx="1680.9" cy="440" rx="3.9" ry="4.8" opacity="0.85"/><ellipse cx="1699" cy="440.6" rx="4" ry="4.6" opacity="0.87"/><ellipse cx="1708.2" cy="439" rx="3.8" ry="4.5" opacity="0.85"/><ellipse cx="1715.8" cy="439.9" rx="4.2" ry="5.3" opacity="0.87"/><ellipse cx="1228.4" cy="433" rx="4.2" ry="4.4" opacity="0.93"/><ellipse cx="1236.9" cy="436.3" rx="3.6" ry="4.3" opacity="0.98"/><ellipse cx="1246.4" cy="437.6" rx="3.6" ry="4.5" opacity="0.94"/><ellipse cx="1253.6" cy="437.5" rx="3.5" ry="4.3" opacity="0.96"/><ellipse cx="1263.3" cy="437.6" rx="4.3" ry="5" opacity="0.99"/><ellipse cx="1272.3" cy="435.8" rx="3.8" ry="4" opacity="0.90"/><ellipse cx="1281.8" cy="438.2" rx="4" ry="4.6" opacity="0.94"/><ellipse cx="1290.8" cy="434.4" rx="3.7" ry="4" opacity="0.99"/><ellipse cx="1298.1" cy="435.7" rx="4.1" ry="5.1" opacity="0.81"/><ellipse cx="1307.7" cy="436" rx="4.2" ry="4.8" opacity="0.87"/><ellipse cx="1316.3" cy="438.2" rx="3.4" ry="3.7" opacity="0.80"/><ellipse cx="1325.8" cy="436.4" rx="4.3" ry="4.5" opacity="0.94"/><ellipse cx="1333.7" cy="437.8" rx="3.4" ry="4.2" opacity="0.97"/><ellipse cx="1342.8" cy="437.2" rx="3.4" ry="4.2" opacity="0.87"/><ellipse cx="1350.2" cy="436.9" rx="3.8" ry="3.8" opacity="0.80"/><ellipse cx="1357.6" cy="440" rx="3.4" ry="4.2" opacity="0.95"/><ellipse cx="1366.2" cy="440.7" rx="3.9" ry="5.1" opacity="0.88"/><ellipse cx="1376.1" cy="437.8" rx="3.7" ry="4.4" opacity="0.86"/><ellipse cx="1385.2" cy="437.4" rx="4.3" ry="4.9" opacity="0.94"/><ellipse cx="1392.5" cy="439.5" rx="4.1" ry="4.9" opacity="0.96"/><ellipse cx="1400.9" cy="438.2" rx="3.9" ry="4.4" opacity="0.88"/><ellipse cx="1409.7" cy="441.2" rx="3.6" ry="3.8" opacity="0.85"/><ellipse cx="1419.2" cy="441.5" rx="3.4" ry="4.4" opacity="0.87"/><ellipse cx="1429.2" cy="442" rx="3.6" ry="3.9" opacity="0.81"/><ellipse cx="1436.2" cy="438.9" rx="3.8" ry="3.9" opacity="0.94"/><ellipse cx="1444.2" cy="438.4" rx="3.4" ry="4.2" opacity="0.82"/><ellipse cx="1451.3" cy="441.7" rx="4.1" ry="4.5" opacity="0.93"/><ellipse cx="1458.6" cy="438.5" rx="4.3" ry="5.4" opacity="0.84"/><ellipse cx="1465.7" cy="438.9" rx="3.9" ry="4.7" opacity="0.83"/><ellipse cx="1473.4" cy="440.7" rx="3.5" ry="4.2" opacity="0.97"/><ellipse cx="1482.3" cy="439.2" rx="4.2" ry="4.8" opacity="0.96"/><ellipse cx="1490.8" cy="442.3" rx="3.8" ry="4.4" opacity="0.86"/><ellipse cx="1497.8" cy="441.5" rx="4.2" ry="4.4" opacity="0.94"/><ellipse cx="1506.5" cy="441.9" rx="3.8" ry="4.5" opacity="0.90"/><ellipse cx="1515.1" cy="443" rx="4" ry="4.3" opacity="0.82"/><ellipse cx="1523.1" cy="441.9" rx="3.6" ry="4.4" opacity="1.00"/><ellipse cx="1532.2" cy="444" rx="3.5" ry="4.5" opacity="0.93"/><ellipse cx="1541.9" cy="443.7" rx="3.6" ry="4.5" opacity="0.83"/><ellipse cx="1549.9" cy="442.4" rx="4" ry="5.1" opacity="0.98"/><ellipse cx="1557.4" cy="442.2" rx="3.3" ry="3.6" opacity="0.84"/><ellipse cx="1565.9" cy="441.4" rx="4" ry="4.2" opacity="0.88"/><ellipse cx="1573.9" cy="441.2" rx="4.1" ry="5.2" opacity="0.95"/><ellipse cx="1581.6" cy="444.1" rx="3.4" ry="4.1" opacity="0.99"/><ellipse cx="1588.8" cy="442.6" rx="3.7" ry="3.9" opacity="1.00"/><ellipse cx="1596" cy="445.5" rx="4" ry="5" opacity="0.96"/><ellipse cx="1603.8" cy="441.9" rx="3.9" ry="4.1" opacity="0.82"/><ellipse cx="1613.5" cy="445.2" rx="3.6" ry="3.8" opacity="0.99"/><ellipse cx="1621.7" cy="445.4" rx="3.4" ry="4" opacity="0.96"/><ellipse cx="1629.7" cy="442.5" rx="3.4" ry="3.9" opacity="0.94"/><ellipse cx="1637.3" cy="443.7" rx="3.5" ry="4.3" opacity="0.97"/><ellipse cx="1646.4" cy="442.9" rx="3.8" ry="4.6" opacity="0.85"/><ellipse cx="1665" cy="446.7" rx="3.7" ry="4.4" opacity="0.90"/><ellipse cx="1674" cy="445.4" rx="4.1" ry="4.1" opacity="0.90"/><ellipse cx="1682.2" cy="444.9" rx="3.7" ry="4" opacity="0.84"/><ellipse cx="1691.9" cy="445.6" rx="4.1" ry="4.8" opacity="0.83"/><ellipse cx="1701.2" cy="445.6" rx="3.5" ry="4.1" opacity="0.99"/><ellipse cx="1709.2" cy="444.7" rx="3.9" ry="4.9" opacity="0.88"/><ellipse cx="1228.6" cy="443.5" rx="3.4" ry="4" opacity="1.00"/><ellipse cx="1236.1" cy="440.4" rx="4" ry="4.8" opacity="0.95"/><ellipse cx="1244.6" cy="443.8" rx="3.9" ry="4" opacity="0.98"/><ellipse cx="1251.6" cy="443.3" rx="3.8" ry="4.3" opacity="0.81"/><ellipse cx="1261.2" cy="440.9" rx="3.8" ry="3.9" opacity="0.96"/><ellipse cx="1271" cy="442.3" rx="3.5" ry="3.7" opacity="0.83"/><ellipse cx="1280.2" cy="445.3" rx="3.9" ry="4.4" opacity="0.99"/><ellipse cx="1287.2" cy="443" rx="3.3" ry="4.1" opacity="0.83"/><ellipse cx="1295.1" cy="443.7" rx="3.8" ry="4" opacity="0.81"/><ellipse cx="1303.3" cy="441.8" rx="3.8" ry="4.9" opacity="0.87"/><ellipse cx="1310.8" cy="441.9" rx="3.9" ry="4.7" opacity="0.99"/><ellipse cx="1319.4" cy="443.4" rx="4.3" ry="5.1" opacity="0.94"/><ellipse cx="1327.8" cy="444.3" rx="3.7" ry="3.8" opacity="0.91"/><ellipse cx="1337.7" cy="443.9" rx="3.8" ry="4.7" opacity="0.95"/><ellipse cx="1345.9" cy="445.5" rx="3.5" ry="3.5" opacity="0.92"/><ellipse cx="1353.4" cy="444" rx="4" ry="5.1" opacity="0.80"/><ellipse cx="1363.2" cy="446.9" rx="3.9" ry="5" opacity="0.97"/><ellipse cx="1372.8" cy="442.9" rx="4.1" ry="5" opacity="0.93"/><ellipse cx="1380" cy="445.3" rx="3.9" ry="4.1" opacity="0.94"/><ellipse cx="1390" cy="444.3" rx="4.1" ry="5" opacity="0.99"/><ellipse cx="1398.2" cy="445.4" rx="3.4" ry="3.7" opacity="0.81"/><ellipse cx="1407.9" cy="445.1" rx="4.2" ry="5.3" opacity="0.91"/><ellipse cx="1417" cy="445.7" rx="3.5" ry="3.9" opacity="0.91"/><ellipse cx="1424.2" cy="446.7" rx="3.6" ry="4.2" opacity="0.88"/><ellipse cx="1434.2" cy="445.6" rx="4.3" ry="4.9" opacity="0.99"/><ellipse cx="1441.7" cy="447.7" rx="3.8" ry="4.8" opacity="0.95"/><ellipse cx="1450.8" cy="446.8" rx="3.4" ry="3.5" opacity="0.89"/><ellipse cx="1460.8" cy="446.3" rx="3.4" ry="3.5" opacity="0.89"/><ellipse cx="1468.5" cy="445.7" rx="3.9" ry="4" opacity="0.99"/><ellipse cx="1477.2" cy="447" rx="3.7" ry="4.1" opacity="0.80"/><ellipse cx="1485.2" cy="449.4" rx="3.6" ry="4.5" opacity="0.97"/><ellipse cx="1502.2" cy="447.4" rx="4.3" ry="4.8" opacity="0.99"/><ellipse cx="1509.5" cy="448.8" rx="3.8" ry="4.8" opacity="0.83"/><ellipse cx="1517" cy="447.8" rx="4.3" ry="4.6" opacity="0.83"/><ellipse cx="1525.1" cy="449.8" rx="3.3" ry="3.6" opacity="0.85"/><ellipse cx="1532.4" cy="448.9" rx="4.2" ry="5.2" opacity="0.99"/><ellipse cx="1540.8" cy="447.2" rx="3.4" ry="4.2" opacity="0.85"/><ellipse cx="1548.2" cy="447.6" rx="3.4" ry="4.1" opacity="0.99"/><ellipse cx="1558.1" cy="450.7" rx="3.5" ry="3.7" opacity="0.85"/><ellipse cx="1566.9" cy="448.9" rx="4.1" ry="4.5" opacity="0.91"/><ellipse cx="1576.7" cy="447.2" rx="3.8" ry="4.6" opacity="0.83"/><ellipse cx="1586.2" cy="449.9" rx="4.3" ry="5" opacity="0.92"/><ellipse cx="1595.6" cy="448.7" rx="3.4" ry="3.5" opacity="0.98"/><ellipse cx="1605.4" cy="450.2" rx="4.2" ry="5.2" opacity="0.92"/><ellipse cx="1613.1" cy="448.1" rx="4" ry="4.2" opacity="0.89"/><ellipse cx="1620.9" cy="448.9" rx="4.2" ry="5.1" opacity="0.92"/><ellipse cx="1629.2" cy="449.9" rx="3.7" ry="4.6" opacity="0.87"/><ellipse cx="1637.1" cy="451.1" rx="3.5" ry="4.2" opacity="0.80"/><ellipse cx="1645.1" cy="452.3" rx="4" ry="4.9" opacity="0.86"/><ellipse cx="1652.5" cy="452.1" rx="3.7" ry="4.2" opacity="0.85"/><ellipse cx="1661.1" cy="449.9" rx="3.4" ry="4.1" opacity="0.93"/><ellipse cx="1669.3" cy="452.2" rx="3.3" ry="3.3" opacity="0.83"/><ellipse cx="1677.9" cy="450" rx="3.8" ry="3.9" opacity="0.80"/><ellipse cx="1687.5" cy="449.5" rx="4" ry="4.6" opacity="0.90"/><ellipse cx="1696.4" cy="453.1" rx="4" ry="4.1" opacity="0.98"/><ellipse cx="1704.4" cy="453.1" rx="4.1" ry="5" opacity="0.99"/><ellipse cx="1713" cy="452.8" rx="3.4" ry="3.9" opacity="0.91"/><ellipse cx="1228.8" cy="450.3" rx="3.7" ry="4.7" opacity="0.94"/><ellipse cx="1237.4" cy="449.2" rx="4.1" ry="4.5" opacity="0.85"/><ellipse cx="1246.4" cy="447.8" rx="4.3" ry="5.2" opacity="0.90"/><ellipse cx="1253.5" cy="449" rx="3.9" ry="5" opacity="0.82"/><ellipse cx="1261.8" cy="447.5" rx="3.5" ry="4.2" opacity="0.87"/><ellipse cx="1270.3" cy="448.8" rx="3.9" ry="4.5" opacity="0.94"/><ellipse cx="1279.2" cy="448" rx="4" ry="4.9" opacity="0.90"/><ellipse cx="1287.2" cy="451.8" rx="3.5" ry="3.5" opacity="0.93"/><ellipse cx="1295.6" cy="450" rx="3.8" ry="4.1" opacity="0.87"/><ellipse cx="1304.4" cy="448.3" rx="3.6" ry="3.9" opacity="0.99"/><ellipse cx="1313.2" cy="450" rx="4.2" ry="4.4" opacity="1.00"/><ellipse cx="1320.7" cy="450.4" rx="3.6" ry="4.5" opacity="0.93"/><ellipse cx="1327.8" cy="449" rx="3.6" ry="4.1" opacity="0.83"/><ellipse cx="1336.9" cy="453.1" rx="4.3" ry="5.1" opacity="0.88"/><ellipse cx="1345.8" cy="452.9" rx="4.2" ry="4.4" opacity="0.83"/><ellipse cx="1354.9" cy="452.4" rx="3.4" ry="3.4" opacity="0.92"/><ellipse cx="1364.3" cy="450.6" rx="3.3" ry="4.3" opacity="0.95"/><ellipse cx="1372.4" cy="450.8" rx="4.1" ry="4.6" opacity="0.99"/><ellipse cx="1382.3" cy="451.4" rx="3.7" ry="4.6" opacity="0.86"/><ellipse cx="1390.8" cy="453.4" rx="3.7" ry="4.6" opacity="0.88"/><ellipse cx="1400" cy="452.9" rx="4.1" ry="5.3" opacity="0.98"/><ellipse cx="1408.2" cy="449.9" rx="3.8" ry="3.8" opacity="0.87"/><ellipse cx="1416.1" cy="454.2" rx="3.3" ry="4.1" opacity="0.87"/><ellipse cx="1425.1" cy="452.3" rx="3.4" ry="4.2" opacity="0.97"/><ellipse cx="1433.8" cy="453.9" rx="3.8" ry="4.3" opacity="0.90"/><ellipse cx="1443" cy="452" rx="4.1" ry="4.9" opacity="0.88"/><ellipse cx="1452.7" cy="454.8" rx="4.1" ry="4.5" opacity="0.88"/><ellipse cx="1461.5" cy="451" rx="3.8" ry="3.9" opacity="0.99"/><ellipse cx="1470.2" cy="455.3" rx="4" ry="4.9" opacity="0.94"/><ellipse cx="1477.6" cy="454.8" rx="4.2" ry="4.4" opacity="0.94"/><ellipse cx="1486.1" cy="452.8" rx="3.8" ry="4.9" opacity="0.89"/><ellipse cx="1496.1" cy="455.3" rx="3.5" ry="3.9" opacity="0.95"/><ellipse cx="1504.8" cy="454.7" rx="3.6" ry="4" opacity="0.94"/><ellipse cx="1513.2" cy="454.5" rx="4.3" ry="4.3" opacity="0.86"/><ellipse cx="1521.8" cy="454.6" rx="4.1" ry="4.6" opacity="0.98"/><ellipse cx="1530" cy="455.1" rx="4.1" ry="4.7" opacity="0.87"/><ellipse cx="1538" cy="453.9" rx="4.1" ry="5.4" opacity="0.81"/><ellipse cx="1546.7" cy="455" rx="3.6" ry="4.5" opacity="0.95"/><ellipse cx="1555.2" cy="453.4" rx="3.6" ry="4.2" opacity="0.97"/><ellipse cx="1564.1" cy="453.4" rx="3.3" ry="3.9" opacity="0.87"/><ellipse cx="1572.7" cy="454.1" rx="3.6" ry="3.9" opacity="0.95"/><ellipse cx="1582" cy="454.5" rx="3.3" ry="3.9" opacity="0.97"/><ellipse cx="1591" cy="455.3" rx="4.2" ry="5.4" opacity="0.80"/><ellipse cx="1599.3" cy="456.9" rx="4.2" ry="4.2" opacity="0.92"/><ellipse cx="1607.5" cy="455.7" rx="4.1" ry="5.2" opacity="0.83"/><ellipse cx="1615.3" cy="453.7" rx="3.4" ry="3.9" opacity="0.85"/><ellipse cx="1622.8" cy="454.8" rx="3.7" ry="4.1" opacity="0.93"/><ellipse cx="1630.2" cy="454" rx="3.9" ry="4" opacity="0.94"/><ellipse cx="1639.2" cy="454.2" rx="4.2" ry="4.4" opacity="0.94"/><ellipse cx="1646.4" cy="454.4" rx="3.7" ry="4.6" opacity="0.98"/><ellipse cx="1655.3" cy="456.5" rx="3.8" ry="4.4" opacity="0.93"/><ellipse cx="1664.8" cy="455.6" rx="3.7" ry="4.8" opacity="0.94"/><ellipse cx="1673.1" cy="456.1" rx="3.5" ry="4.3" opacity="0.87"/><ellipse cx="1681.5" cy="455.8" rx="3.9" ry="4" opacity="0.95"/><ellipse cx="1689.1" cy="457.3" rx="4" ry="4.3" opacity="0.84"/><ellipse cx="1697.1" cy="458.4" rx="4.2" ry="4.7" opacity="0.96"/><ellipse cx="1704.7" cy="456.9" rx="4.3" ry="4.8" opacity="0.82"/><ellipse cx="1714.2" cy="456.4" rx="3.8" ry="4.6" opacity="0.81"/><ellipse cx="1229.8" cy="457.3" rx="3.6" ry="5.1" opacity="0.72"/><ellipse cx="1238.9" cy="456.2" rx="3.7" ry="6.8" opacity="0.69"/><ellipse cx="1246.2" cy="457.2" rx="3.8" ry="7.5" opacity="0.81"/><ellipse cx="1254.2" cy="456.6" rx="3.9" ry="7.1" opacity="0.76"/><ellipse cx="1262" cy="456.5" rx="3.8" ry="7.3" opacity="0.78"/><ellipse cx="1269.4" cy="458.3" rx="3.9" ry="6.8" opacity="0.81"/><ellipse cx="1276.6" cy="455.9" rx="3.5" ry="4.9" opacity="0.79"/><ellipse cx="1284.1" cy="457" rx="3.8" ry="6.4" opacity="0.76"/><ellipse cx="1291.4" cy="454.8" rx="3.5" ry="5.8" opacity="0.75"/><ellipse cx="1300.6" cy="458.8" rx="3.6" ry="5.3" opacity="0.69"/><ellipse cx="1309.9" cy="457.1" rx="4.2" ry="8.1" opacity="0.71"/><ellipse cx="1327" cy="455.7" rx="4.2" ry="8.4" opacity="0.73"/><ellipse cx="1335.3" cy="455.7" rx="3.7" ry="6.1" opacity="0.73"/><ellipse cx="1343.1" cy="455.5" rx="4.2" ry="7.4" opacity="0.69"/><ellipse cx="1352.6" cy="457.4" rx="4.3" ry="8.4" opacity="0.77"/><ellipse cx="1361.7" cy="458.9" rx="4" ry="7.3" opacity="0.68"/><ellipse cx="1369" cy="456" rx="3.8" ry="6.3" opacity="0.70"/><ellipse cx="1378.2" cy="457.8" rx="3.5" ry="6.7" opacity="0.75"/><ellipse cx="1386.2" cy="456" rx="4" ry="7.5" opacity="0.80"/><ellipse cx="1395.1" cy="459.8" rx="3.4" ry="5" opacity="0.84"/><ellipse cx="1404" cy="457.6" rx="4.2" ry="7.2" opacity="0.73"/><ellipse cx="1411.9" cy="460.3" rx="4" ry="7.8" opacity="0.78"/><ellipse cx="1420.5" cy="456.6" rx="3.5" ry="6.3" opacity="0.79"/><ellipse cx="1428.7" cy="460.2" rx="4.1" ry="7.1" opacity="0.81"/><ellipse cx="1438.5" cy="459.4" rx="3.4" ry="5" opacity="0.83"/><ellipse cx="1446.1" cy="460.1" rx="4" ry="8" opacity="0.71"/><ellipse cx="1456" cy="460.4" rx="3.8" ry="6.9" opacity="0.82"/><ellipse cx="1464.1" cy="460.1" rx="3.7" ry="5.4" opacity="0.71"/><ellipse cx="1471.4" cy="460.3" rx="3.5" ry="6.2" opacity="0.84"/><ellipse cx="1479" cy="460" rx="3.8" ry="6.5" opacity="0.78"/><ellipse cx="1487.9" cy="458.5" rx="3.6" ry="6.1" opacity="0.83"/><ellipse cx="1496.2" cy="457.5" rx="3.4" ry="5.4" opacity="0.82"/><ellipse cx="1503.3" cy="458" rx="4.1" ry="6.6" opacity="0.81"/><ellipse cx="1511.3" cy="460" rx="4.1" ry="8.1" opacity="0.77"/><ellipse cx="1518.4" cy="458.4" rx="4" ry="5.7" opacity="0.70"/><ellipse cx="1528.4" cy="459.7" rx="3.9" ry="6.2" opacity="0.78"/><ellipse cx="1537.6" cy="461.4" rx="4" ry="7.8" opacity="0.71"/><ellipse cx="1545.6" cy="460.8" rx="4.3" ry="7.2" opacity="0.68"/><ellipse cx="1555.2" cy="458.8" rx="3.9" ry="7.1" opacity="0.73"/><ellipse cx="1562.6" cy="461.7" rx="4" ry="7.9" opacity="0.78"/><ellipse cx="1571.7" cy="461.9" rx="3.6" ry="7" opacity="0.83"/><ellipse cx="1581.6" cy="462.4" rx="4.1" ry="7.2" opacity="0.74"/><ellipse cx="1589.9" cy="462.6" rx="3.5" ry="5.3" opacity="0.77"/><ellipse cx="1597" cy="461.3" rx="3.9" ry="6.8" opacity="0.75"/><ellipse cx="1604.3" cy="460.4" rx="3.3" ry="4.9" opacity="0.71"/><ellipse cx="1612.4" cy="461.9" rx="4.2" ry="8.3" opacity="0.82"/><ellipse cx="1622.4" cy="462.4" rx="3.6" ry="6.8" opacity="0.74"/><ellipse cx="1632" cy="462.2" rx="3.9" ry="6.4" opacity="0.75"/><ellipse cx="1640.4" cy="462.5" rx="4.2" ry="8.2" opacity="0.69"/><ellipse cx="1649.8" cy="461.4" rx="3.5" ry="6.2" opacity="0.68"/><ellipse cx="1656.8" cy="461" rx="4.2" ry="6.9" opacity="0.81"/><ellipse cx="1666" cy="461.1" rx="3.7" ry="6.1" opacity="0.77"/><ellipse cx="1674.5" cy="460.3" rx="3.6" ry="6" opacity="0.78"/><ellipse cx="1682.6" cy="460.9" rx="4.2" ry="6.1" opacity="0.69"/><ellipse cx="1691.2" cy="461.9" rx="3.9" ry="5.6" opacity="0.83"/><ellipse cx="1700.8" cy="462.8" rx="4.1" ry="7.4" opacity="0.75"/><ellipse cx="1710.6" cy="461.3" rx="3.6" ry="6.1" opacity="0.80"/><ellipse cx="1717.9" cy="463.2" rx="3.6" ry="5.5" opacity="0.80"/><ellipse cx="1229.7" cy="465" rx="3.7" ry="5.8" opacity="0.69"/><ellipse cx="1238.2" cy="462.8" rx="3.3" ry="5.6" opacity="0.72"/><ellipse cx="1272.6" cy="462.8" rx="3.8" ry="6.6" opacity="0.83"/><ellipse cx="1288.4" cy="465.1" rx="3.7" ry="5.3" opacity="0.75"/><ellipse cx="1314.5" cy="463.3" rx="4.2" ry="6.3" opacity="0.74"/><ellipse cx="1322.3" cy="465.9" rx="3.7" ry="5.9" opacity="0.84"/><ellipse cx="1332.1" cy="465" rx="4.1" ry="6.1" opacity="0.78"/><ellipse cx="1341" cy="464.8" rx="3.6" ry="5.7" opacity="0.81"/><ellipse cx="1350.4" cy="465.1" rx="4.1" ry="8.2" opacity="0.80"/><ellipse cx="1359.4" cy="464.1" rx="3.8" ry="7.2" opacity="0.69"/><ellipse cx="1367.8" cy="465.8" rx="3.3" ry="5.9" opacity="0.75"/><ellipse cx="1376.6" cy="466.3" rx="3.7" ry="7.1" opacity="0.70"/><ellipse cx="1410.5" cy="466.3" rx="4.1" ry="7.8" opacity="0.68"/><ellipse cx="1419.3" cy="464.6" rx="4.1" ry="7" opacity="0.77"/><ellipse cx="1426.8" cy="465.8" rx="4.1" ry="6.8" opacity="0.79"/><ellipse cx="1434.2" cy="465.2" rx="4" ry="5.6" opacity="0.77"/><ellipse cx="1441.7" cy="465.6" rx="3.8" ry="7.6" opacity="0.80"/><ellipse cx="1451.3" cy="463.9" rx="4" ry="7.3" opacity="0.74"/><ellipse cx="1489.2" cy="465.9" rx="4.2" ry="8" opacity="0.82"/><ellipse cx="1497" cy="463.9" rx="4" ry="6.8" opacity="0.79"/><ellipse cx="1506.8" cy="465.4" rx="3.4" ry="6.7" opacity="0.84"/><ellipse cx="1540.3" cy="466" rx="4" ry="8.1" opacity="0.77"/><ellipse cx="1556.7" cy="468" rx="3.9" ry="6.1" opacity="0.70"/><ellipse cx="1573.6" cy="467.2" rx="3.6" ry="6.9" opacity="0.79"/><ellipse cx="1599" cy="465" rx="4.2" ry="8" opacity="0.77"/><ellipse cx="1607" cy="466.7" rx="4.1" ry="8.1" opacity="0.76"/><ellipse cx="1615.5" cy="468" rx="3.8" ry="7.4" opacity="0.78"/><ellipse cx="1624.2" cy="467.3" rx="3.4" ry="5.3" opacity="0.78"/><ellipse cx="1632" cy="468" rx="3.6" ry="5.1" opacity="0.78"/><ellipse cx="1648.3" cy="467.9" rx="3.7" ry="6" opacity="0.81"/><ellipse cx="1655.7" cy="467.9" rx="3.9" ry="5.9" opacity="0.72"/><ellipse cx="1664.4" cy="469.2" rx="4" ry="7" opacity="0.72"/><ellipse cx="1673.4" cy="468.6" rx="4" ry="7.7" opacity="0.72"/><ellipse cx="1699.4" cy="466.8" rx="3.3" ry="5.2" opacity="0.83"/><ellipse cx="1707.5" cy="468.1" rx="3.4" ry="6.5" opacity="0.75"/><ellipse cx="1717.2" cy="467.1" rx="3.4" ry="5.8" opacity="0.70"/></g>
<g filter="url(#soft)"><rect x="1232" y="469.5" width="3" height="56.1" fill="#d6e8e8" opacity="0.35"/><rect x="1241.9" y="470.3" width="3" height="57.2" fill="#d6e8e8" opacity="0.45"/><rect x="1250.1" y="467.8" width="3" height="59.4" fill="#d6e8e8" opacity="0.43"/><rect x="1259" y="468.4" width="3.4" height="55.6" fill="#d6e8e8" opacity="0.57"/><rect x="1267.1" y="470.9" width="2.9" height="53" fill="#d6e8e8" opacity="0.38"/><rect x="1273.9" y="470.6" width="3.9" height="52.6" fill="#d6e8e8" opacity="0.62"/><rect x="1283.4" y="469.2" width="4.6" height="56.4" fill="#d6e8e8" opacity="0.33"/><rect x="1290.7" y="468.8" width="4.7" height="59.6" fill="#d6e8e8" opacity="0.59"/><rect x="1301.3" y="469.4" width="2.9" height="58.6" fill="#d6e8e8" opacity="0.41"/><rect x="1308.6" y="470" width="2.6" height="56.3" fill="#d6e8e8" opacity="0.37"/><rect x="1315.9" y="468.6" width="4.1" height="59.1" fill="#d6e8e8" opacity="0.61"/><rect x="1324" y="470.3" width="2.8" height="54.5" fill="#d6e8e8" opacity="0.34"/><rect x="1333.5" y="469.2" width="3.9" height="55.3" fill="#d6e8e8" opacity="0.55"/><rect x="1344.1" y="470.5" width="3.4" height="53.8" fill="#d6e8e8" opacity="0.46"/><rect x="1353" y="470.7" width="3.3" height="55.6" fill="#d6e8e8" opacity="0.32"/><rect x="1359.6" y="468.9" width="3.5" height="57.3" fill="#d6e8e8" opacity="0.51"/><rect x="1368.7" y="470.9" width="4.7" height="56.8" fill="#d6e8e8" opacity="0.34"/><rect x="1379.1" y="470.9" width="4.8" height="57" fill="#d6e8e8" opacity="0.49"/><rect x="1387.2" y="470.6" width="2.9" height="56.7" fill="#d6e8e8" opacity="0.58"/><rect x="1397.7" y="472.5" width="3.8" height="52.7" fill="#d6e8e8" opacity="0.31"/><rect x="1405.8" y="471.9" width="3.9" height="52.5" fill="#d6e8e8" opacity="0.31"/><rect x="1415.5" y="472.3" width="3" height="54.1" fill="#d6e8e8" opacity="0.35"/><rect x="1424.1" y="469.9" width="4.4" height="58.8" fill="#d6e8e8" opacity="0.32"/><rect x="1430.8" y="471.8" width="4" height="54.8" fill="#d6e8e8" opacity="0.62"/><rect x="1437.8" y="471.3" width="2.6" height="53.8" fill="#d6e8e8" opacity="0.44"/><rect x="1445.8" y="470.4" width="4.7" height="56.8" fill="#d6e8e8" opacity="0.50"/><rect x="1453.2" y="470.3" width="4.8" height="54.5" fill="#d6e8e8" opacity="0.37"/><rect x="1462.7" y="470.9" width="4.2" height="52.8" fill="#d6e8e8" opacity="0.51"/><rect x="1470.4" y="472.1" width="3.9" height="50.9" fill="#d6e8e8" opacity="0.32"/><rect x="1480.5" y="470" width="4.7" height="54.4" fill="#d6e8e8" opacity="0.45"/><rect x="1490.7" y="473.5" width="3.3" height="50" fill="#d6e8e8" opacity="0.62"/><rect x="1496.9" y="473.7" width="4" height="53.7" fill="#d6e8e8" opacity="0.62"/><rect x="1504.7" y="473.5" width="4.9" height="51.2" fill="#d6e8e8" opacity="0.57"/><rect x="1515.3" y="471.5" width="3" height="56.1" fill="#d6e8e8" opacity="0.50"/><rect x="1525.9" y="471.9" width="3.6" height="52.1" fill="#d6e8e8" opacity="0.40"/><rect x="1536.3" y="473.8" width="3.2" height="54" fill="#d6e8e8" opacity="0.50"/><rect x="1543.8" y="470.7" width="2.5" height="57.2" fill="#d6e8e8" opacity="0.64"/><rect x="1554.6" y="474.1" width="3.2" height="51.5" fill="#d6e8e8" opacity="0.43"/><rect x="1565.1" y="473.2" width="4.5" height="51.5" fill="#d6e8e8" opacity="0.34"/><rect x="1572" y="471.3" width="3.2" height="55.1" fill="#d6e8e8" opacity="0.41"/><rect x="1579.1" y="472.1" width="4.7" height="50.9" fill="#d6e8e8" opacity="0.30"/><rect x="1587.9" y="473" width="2.6" height="50.2" fill="#d6e8e8" opacity="0.46"/><rect x="1597" y="471.7" width="3.8" height="56.3" fill="#d6e8e8" opacity="0.64"/><rect x="1607" y="474.8" width="4.8" height="50.4" fill="#d6e8e8" opacity="0.49"/><rect x="1615.1" y="471.7" width="4.5" height="52.7" fill="#d6e8e8" opacity="0.46"/><rect x="1623.8" y="472.4" width="5" height="50.6" fill="#d6e8e8" opacity="0.44"/><rect x="1634.2" y="473.3" width="2.7" height="53.3" fill="#d6e8e8" opacity="0.59"/><rect x="1641.8" y="475.1" width="4" height="53.7" fill="#d6e8e8" opacity="0.50"/><rect x="1649.5" y="474.3" width="4.1" height="52.8" fill="#d6e8e8" opacity="0.54"/><rect x="1657.5" y="472.9" width="4.3" height="51.5" fill="#d6e8e8" opacity="0.33"/><rect x="1666.2" y="472.7" width="2.9" height="52.1" fill="#d6e8e8" opacity="0.43"/><rect x="1674.3" y="473.7" width="4.9" height="52.6" fill="#d6e8e8" opacity="0.44"/><rect x="1683" y="473.8" width="4.5" height="52.3" fill="#d6e8e8" opacity="0.42"/><rect x="1690" y="472.1" width="3" height="52.6" fill="#d6e8e8" opacity="0.31"/><rect x="1698.1" y="472.3" width="3.9" height="55.2" fill="#d6e8e8" opacity="0.46"/><rect x="1707.2" y="475.1" width="3.6" height="51.9" fill="#d6e8e8" opacity="0.34"/><rect x="1236" y="499.5" width="5.9" height="19.6" rx="2.5" fill="#b09ab3" opacity="0.73"/><rect x="1254.1" y="499" width="7.2" height="19.7" rx="2.5" fill="#b7a3b9" opacity="0.65"/><rect x="1273.9" y="500.8" width="5.7" height="19.2" rx="2.5" fill="#b09ab3" opacity="0.61"/><rect x="1292.6" y="495.9" width="6" height="18.1" rx="2.5" fill="#b7a3b9" opacity="0.81"/><rect x="1311.7" y="495.4" width="5.9" height="17.4" rx="2.5" fill="#a993ad" opacity="0.71"/><rect x="1332.4" y="498.7" width="5.5" height="19" rx="2.5" fill="#a993ad" opacity="0.71"/><rect x="1352.5" y="497.6" width="6.8" height="19.4" rx="2.5" fill="#b7a3b9" opacity="0.72"/><rect x="1371.4" y="497.9" width="7.5" height="19.5" rx="2.5" fill="#a993ad" opacity="0.78"/><rect x="1388" y="497.2" width="7.1" height="21.6" rx="2.5" fill="#b09ab3" opacity="0.69"/><rect x="1405.2" y="497.5" width="6.4" height="20" rx="2.5" fill="#b7a3b9" opacity="0.78"/><rect x="1424.1" y="501" width="7" height="22.5" rx="2.5" fill="#b09ab3" opacity="0.52"/><rect x="1440.3" y="498" width="5.6" height="17.1" rx="2.5" fill="#b09ab3" opacity="0.55"/><rect x="1460.9" y="497.1" width="6.9" height="21" rx="2.5" fill="#b7a3b9" opacity="0.55"/><rect x="1480.4" y="497.4" width="6.1" height="17.6" rx="2.5" fill="#a993ad" opacity="0.65"/><rect x="1495.5" y="496.6" width="5.7" height="18.2" rx="2.5" fill="#b7a3b9" opacity="0.81"/><rect x="1515.4" y="496.7" width="6.5" height="19.8" rx="2.5" fill="#b09ab3" opacity="0.51"/><rect x="1531.6" y="496.1" width="6.8" height="18.6" rx="2.5" fill="#a993ad" opacity="0.77"/><rect x="1550.3" y="499" width="6" height="18.3" rx="2.5" fill="#a993ad" opacity="0.65"/><rect x="1566.8" y="500.2" width="6.1" height="21.7" rx="2.5" fill="#b7a3b9" opacity="0.74"/><rect x="1588.6" y="495.7" width="7" height="22" rx="2.5" fill="#b09ab3" opacity="0.83"/><rect x="1606.3" y="496.9" width="7.4" height="19.5" rx="2.5" fill="#a993ad" opacity="0.82"/><rect x="1624.7" y="500.4" width="7.3" height="20" rx="2.5" fill="#b7a3b9" opacity="0.68"/><rect x="1662.8" y="495.4" width="6.1" height="21.5" rx="2.5" fill="#a993ad" opacity="0.79"/><rect x="1681.3" y="499.1" width="6.5" height="20.1" rx="2.5" fill="#b09ab3" opacity="0.63"/><rect x="1703.1" y="500.3" width="5.8" height="19.2" rx="2.5" fill="#b7a3b9" opacity="0.81"/></g>
<g filter="url(#soft)"><path d="M1228 520 C1229 538 1216.3 548 1215.3 574" stroke="#eef8f5" stroke-width="3" fill="none" opacity="0.85"/><path d="M1235.2 520 C1236.2 538 1224 548 1223 574" stroke="#f1faf7" stroke-width="3.1" fill="none" opacity="0.85"/><path d="M1242.4 520 C1243.4 538 1232.5 548 1231.5 574" stroke="#f1faf7" stroke-width="3.8" fill="none" opacity="0.85"/><path d="M1249.3 520 C1250.3 538 1239.2 548 1238.2 574" stroke="#eef8f5" stroke-width="3.6" fill="none" opacity="0.85"/><path d="M1256.8 520 C1257.8 538 1247.2 548 1246.2 574" stroke="#f6fcfa" stroke-width="3.1" fill="none" opacity="0.85"/><path d="M1262.4 520 C1263.4 538 1253.3 548 1252.3 574" stroke="#f6fcfa" stroke-width="3.6" fill="none" opacity="0.85"/><path d="M1270.6 520 C1271.6 538 1259.5 548 1258.5 574" stroke="#f6fcfa" stroke-width="4.5" fill="none" opacity="0.85"/><path d="M1279.5 520 C1280.5 538 1272.3 548 1271.3 574" stroke="#c3dad9" stroke-width="4.8" fill="none" opacity="0.85"/><path d="M1287 520 C1288 538 1276.5 548 1275.5 574" stroke="#eef8f5" stroke-width="4.8" fill="none" opacity="0.85"/><path d="M1295.1 520 C1296.1 538 1286.5 548 1285.5 574" stroke="#eaf6f2" stroke-width="3.4" fill="none" opacity="0.85"/><path d="M1301.6 520 C1302.6 538 1290.6 548 1289.6 574" stroke="#f6fcfa" stroke-width="3.2" fill="none" opacity="0.85"/><path d="M1309.7 520 C1310.7 538 1301.8 548 1300.8 574" stroke="#eef8f5" stroke-width="4" fill="none" opacity="0.85"/><path d="M1317.9 520 C1318.9 538 1307.8 548 1306.8 574" stroke="#c3dad9" stroke-width="4.2" fill="none" opacity="0.85"/><path d="M1325 520 C1326 538 1315 548 1314 574" stroke="#eef8f5" stroke-width="4.7" fill="none" opacity="0.85"/><path d="M1331 520 C1332 538 1320.2 548 1319.2 574" stroke="#eef8f5" stroke-width="4.5" fill="none" opacity="0.85"/><path d="M1339.9 520 C1340.9 538 1329.4 548 1328.4 574" stroke="#eef8f5" stroke-width="3.5" fill="none" opacity="0.85"/><path d="M1348.1 520 C1349.1 538 1337.2 548 1336.2 574" stroke="#eaf6f2" stroke-width="4.9" fill="none" opacity="0.85"/><path d="M1356.2 520 C1357.2 538 1347.3 548 1346.3 574" stroke="#f6fcfa" stroke-width="4.7" fill="none" opacity="0.85"/><path d="M1364.9 520 C1365.9 538 1356.3 548 1355.3 574" stroke="#f1faf7" stroke-width="3.5" fill="none" opacity="0.85"/><path d="M1370.6 520 C1371.6 538 1361.1 548 1360.1 574" stroke="#f1faf7" stroke-width="3.2" fill="none" opacity="0.85"/><path d="M1378.7 520 C1379.7 538 1367.9 548 1366.9 574" stroke="#c3dad9" stroke-width="4" fill="none" opacity="0.85"/><path d="M1385.1 520 C1386.1 538 1374.7 548 1373.7 574" stroke="#eef8f5" stroke-width="3.9" fill="none" opacity="0.85"/><path d="M1393.3 520 C1394.3 538 1384 548 1383 574" stroke="#eaf6f2" stroke-width="4.8" fill="none" opacity="0.85"/><path d="M1401 520 C1402 538 1392.3 548 1391.3 574" stroke="#c3dad9" stroke-width="2.9" fill="none" opacity="0.85"/><path d="M1407.1 520 C1408.1 538 1395.7 548 1394.7 574" stroke="#c3dad9" stroke-width="4.1" fill="none" opacity="0.85"/><path d="M1416.1 520 C1417.1 538 1406 548 1405 574" stroke="#eaf6f2" stroke-width="4.4" fill="none" opacity="0.85"/><path d="M1423.1 520 C1424.1 538 1411.8 548 1410.8 574" stroke="#c3dad9" stroke-width="4" fill="none" opacity="0.85"/><path d="M1430.2 520 C1431.2 538 1421.8 548 1420.8 574" stroke="#eaf6f2" stroke-width="3.3" fill="none" opacity="0.85"/><path d="M1436.1 520 C1437.1 538 1427.2 548 1426.2 574" stroke="#c3dad9" stroke-width="3.1" fill="none" opacity="0.85"/><path d="M1443 520 C1444 538 1433 548 1432 574" stroke="#c3dad9" stroke-width="4.3" fill="none" opacity="0.85"/><path d="M1450.1 520 C1451.1 538 1441.1 548 1440.1 574" stroke="#eaf6f2" stroke-width="4.2" fill="none" opacity="0.85"/><path d="M1457.2 520 C1458.2 538 1449.1 548 1448.1 574" stroke="#eef8f5" stroke-width="2.8" fill="none" opacity="0.85"/><path d="M1464.4 520 C1465.4 538 1456.5 548 1455.5 574" stroke="#eef8f5" stroke-width="3.8" fill="none" opacity="0.85"/><path d="M1470.8 520 C1471.8 538 1463.4 548 1462.4 574" stroke="#eef8f5" stroke-width="3.5" fill="none" opacity="0.85"/><path d="M1477.6 520 C1478.6 538 1470.2 548 1469.2 574" stroke="#eaf6f2" stroke-width="4.8" fill="none" opacity="0.85"/><path d="M1484.3 520 C1485.3 538 1474.2 548 1473.2 574" stroke="#eef8f5" stroke-width="4.9" fill="none" opacity="0.85"/><path d="M1493 520 C1494 538 1484.2 548 1483.2 574" stroke="#eef8f5" stroke-width="4.2" fill="none" opacity="0.85"/><path d="M1500.4 520 C1501.4 538 1490.1 548 1489.1 574" stroke="#c3dad9" stroke-width="3.7" fill="none" opacity="0.85"/><path d="M1507.5 520 C1508.5 538 1497.6 548 1496.6 574" stroke="#f1faf7" stroke-width="2.5" fill="none" opacity="0.85"/><path d="M1514.3 520 C1515.3 538 1504.5 548 1503.5 574" stroke="#f1faf7" stroke-width="3.8" fill="none" opacity="0.85"/><path d="M1522.3 520 C1523.3 538 1512.7 548 1511.7 574" stroke="#c3dad9" stroke-width="3.7" fill="none" opacity="0.85"/><path d="M1530 520 C1531 538 1519.1 548 1518.1 574" stroke="#eaf6f2" stroke-width="3.1" fill="none" opacity="0.85"/><path d="M1538 520 C1539 538 1526.2 548 1525.2 574" stroke="#eef8f5" stroke-width="3.5" fill="none" opacity="0.85"/><path d="M1544.9 520 C1545.9 538 1536.2 548 1535.2 574" stroke="#eaf6f2" stroke-width="2.7" fill="none" opacity="0.85"/><path d="M1551.6 520 C1552.6 538 1544.4 548 1543.4 574" stroke="#c3dad9" stroke-width="3.9" fill="none" opacity="0.85"/><path d="M1558.7 520 C1559.7 538 1551 548 1550 574" stroke="#eef8f5" stroke-width="3.2" fill="none" opacity="0.85"/><path d="M1565.3 520 C1566.3 538 1556.4 548 1555.4 574" stroke="#f6fcfa" stroke-width="3.4" fill="none" opacity="0.85"/><path d="M1571.9 520 C1572.9 538 1564.5 548 1563.5 574" stroke="#eef8f5" stroke-width="2.9" fill="none" opacity="0.85"/><path d="M1579.9 520 C1580.9 538 1572.6 548 1571.6 574" stroke="#f1faf7" stroke-width="2.7" fill="none" opacity="0.85"/><path d="M1586.5 520 C1587.5 538 1578.4 548 1577.4 574" stroke="#eef8f5" stroke-width="3.1" fill="none" opacity="0.85"/><path d="M1594.4 520 C1595.4 538 1585.5 548 1584.5 574" stroke="#c3dad9" stroke-width="3.8" fill="none" opacity="0.85"/><path d="M1602.6 520 C1603.6 538 1593.8 548 1592.8 574" stroke="#f6fcfa" stroke-width="3.2" fill="none" opacity="0.85"/><path d="M1608.8 520 C1609.8 538 1597.4 548 1596.4 574" stroke="#c3dad9" stroke-width="4.1" fill="none" opacity="0.85"/><path d="M1614.4 520 C1615.4 538 1602.8 548 1601.8 574" stroke="#eef8f5" stroke-width="2.9" fill="none" opacity="0.85"/><path d="M1623.3 520 C1624.3 538 1611.6 548 1610.6 574" stroke="#c3dad9" stroke-width="3.3" fill="none" opacity="0.85"/><path d="M1631.7 520 C1632.7 538 1621.5 548 1620.5 574" stroke="#f1faf7" stroke-width="2.5" fill="none" opacity="0.85"/><path d="M1639.4 520 C1640.4 538 1631.7 548 1630.7 574" stroke="#f1faf7" stroke-width="4.6" fill="none" opacity="0.85"/><path d="M1648.3 520 C1649.3 538 1639.6 548 1638.6 574" stroke="#eef8f5" stroke-width="2.5" fill="none" opacity="0.85"/><path d="M1656.6 520 C1657.6 538 1649.2 548 1648.2 574" stroke="#c3dad9" stroke-width="5" fill="none" opacity="0.85"/><path d="M1664.5 520 C1665.5 538 1652.5 548 1651.5 574" stroke="#c3dad9" stroke-width="4.5" fill="none" opacity="0.85"/><path d="M1670.7 520 C1671.7 538 1662.5 548 1661.5 574" stroke="#eef8f5" stroke-width="3.5" fill="none" opacity="0.85"/><path d="M1678.8 520 C1679.8 538 1670.6 548 1669.6 574" stroke="#f6fcfa" stroke-width="2.8" fill="none" opacity="0.85"/><path d="M1685.3 520 C1686.3 538 1675.3 548 1674.3 574" stroke="#c3dad9" stroke-width="3.5" fill="none" opacity="0.85"/><path d="M1693.1 520 C1694.1 538 1686 548 1685 574" stroke="#f1faf7" stroke-width="4.6" fill="none" opacity="0.85"/><path d="M1701.2 520 C1702.2 538 1692.1 548 1691.1 574" stroke="#f1faf7" stroke-width="3.8" fill="none" opacity="0.85"/><path d="M1709 520 C1710 538 1700.6 548 1699.6 574" stroke="#eaf6f2" stroke-width="2.7" fill="none" opacity="0.85"/><path d="M1714.8 520 C1715.8 538 1706.3 548 1705.3 574" stroke="#eef8f5" stroke-width="3.2" fill="none" opacity="0.85"/><path d="M1721.3 520 C1722.3 538 1710.2 548 1709.2 574" stroke="#f6fcfa" stroke-width="3.3" fill="none" opacity="0.85"/><path d="M1728.8 520 C1729.8 538 1721.3 548 1720.3 574" stroke="#eef8f5" stroke-width="4.8" fill="none" opacity="0.85"/></g>
<g><ellipse cx="1646.4" cy="578" rx="0.5" ry="2.5" fill="#3d3550" opacity="0.85" transform="rotate(-20 1646.4 578)"/><ellipse cx="1449.6" cy="578.5" rx="0.8" ry="1.5" fill="#2c2838" opacity="0.69" transform="rotate(-28 1449.6 578.5)"/><ellipse cx="1478.8" cy="574.7" rx="1.1" ry="1.1" fill="#574c68" opacity="0.61" transform="rotate(-35 1478.8 574.7)"/><ellipse cx="1639.9" cy="581.1" rx="0.7" ry="2.4" fill="#2c2838" opacity="0.52" transform="rotate(-9 1639.9 581.1)"/><ellipse cx="1394.8" cy="580.4" rx="0.6" ry="2.4" fill="#2c2838" opacity="0.64" transform="rotate(-19 1394.8 580.4)"/><ellipse cx="1315.2" cy="575.4" rx="1.1" ry="1.1" fill="#3d3550" opacity="0.55" transform="rotate(-23 1315.2 575.4)"/><ellipse cx="1501.7" cy="576.9" rx="0.7" ry="2" fill="#574c68" opacity="0.81" transform="rotate(-6 1501.7 576.9)"/><ellipse cx="1549.1" cy="576.2" rx="1" ry="2.3" fill="#574c68" opacity="0.52" transform="rotate(-16 1549.1 576.2)"/><ellipse cx="1456" cy="576.9" rx="0.6" ry="1.2" fill="#574c68" opacity="0.51" transform="rotate(-15 1456 576.9)"/><ellipse cx="1377.7" cy="581.9" rx="0.7" ry="2.5" fill="#3d3550" opacity="0.56" transform="rotate(-4 1377.7 581.9)"/><ellipse cx="1334.9" cy="582.7" rx="0.8" ry="1.3" fill="#2c2838" opacity="0.74" transform="rotate(-6 1334.9 582.7)"/><ellipse cx="1706.5" cy="582.9" rx="1" ry="1.2" fill="#3d3550" opacity="0.76" transform="rotate(28 1706.5 582.9)"/><ellipse cx="1507" cy="576.3" rx="1.2" ry="2" fill="#3d3550" opacity="0.62" transform="rotate(-19 1507 576.3)"/><ellipse cx="1562.1" cy="580.5" rx="1.3" ry="2.4" fill="#574c68" opacity="0.74" transform="rotate(25 1562.1 580.5)"/><ellipse cx="1295.9" cy="578.7" rx="1" ry="2.4" fill="#574c68" opacity="0.83" transform="rotate(23 1295.9 578.7)"/><ellipse cx="1542" cy="580.3" rx="0.5" ry="2.2" fill="#574c68" opacity="0.72" transform="rotate(15 1542 580.3)"/><ellipse cx="1309" cy="569.5" rx="0.8" ry="1.2" fill="#3d3550" opacity="0.70" transform="rotate(26 1309 569.5)"/><ellipse cx="1264.2" cy="583.7" rx="0.8" ry="1.3" fill="#3d3550" opacity="0.79" transform="rotate(-14 1264.2 583.7)"/><ellipse cx="1398.9" cy="576.9" rx="0.9" ry="1.1" fill="#2c2838" opacity="0.67" transform="rotate(13 1398.9 576.9)"/><ellipse cx="1514" cy="576.2" rx="1" ry="1.1" fill="#3d3550" opacity="0.91" transform="rotate(4 1514 576.2)"/><ellipse cx="1485.5" cy="577.3" rx="1.2" ry="1.2" fill="#2c2838" opacity="0.57" transform="rotate(22 1485.5 577.3)"/><ellipse cx="1349.2" cy="582.5" rx="0.6" ry="1.6" fill="#2c2838" opacity="0.54" transform="rotate(-17 1349.2 582.5)"/><ellipse cx="1657.2" cy="577.5" rx="1" ry="2.3" fill="#3d3550" opacity="0.52" transform="rotate(22 1657.2 577.5)"/><ellipse cx="1684.9" cy="584.8" rx="1.3" ry="1.6" fill="#3d3550" opacity="0.79" transform="rotate(-11 1684.9 584.8)"/><ellipse cx="1688.3" cy="579" rx="0.7" ry="2.1" fill="#2c2838" opacity="0.73" transform="rotate(7 1688.3 579)"/><ellipse cx="1675.8" cy="573.4" rx="0.9" ry="1.9" fill="#2c2838" opacity="0.62" transform="rotate(16 1675.8 573.4)"/><ellipse cx="1599.3" cy="580.9" rx="1" ry="1" fill="#3d3550" opacity="0.91" transform="rotate(-31 1599.3 580.9)"/><ellipse cx="1416.8" cy="578.7" rx="0.9" ry="2.3" fill="#574c68" opacity="0.56" transform="rotate(-10 1416.8 578.7)"/><ellipse cx="1539.8" cy="573.3" rx="0.6" ry="1.6" fill="#2c2838" opacity="0.69" transform="rotate(-18 1539.8 573.3)"/><ellipse cx="1497.9" cy="578.9" rx="1" ry="2.2" fill="#574c68" opacity="0.69" transform="rotate(-7 1497.9 578.9)"/><ellipse cx="1503.1" cy="570.5" rx="1.3" ry="1.3" fill="#3d3550" opacity="0.84" transform="rotate(21 1503.1 570.5)"/><ellipse cx="1324.6" cy="579.6" rx="0.9" ry="1.8" fill="#574c68" opacity="0.94" transform="rotate(-4 1324.6 579.6)"/><ellipse cx="1309" cy="576.5" rx="0.6" ry="2" fill="#574c68" opacity="0.90" transform="rotate(-28 1309 576.5)"/><ellipse cx="1684.2" cy="583.5" rx="0.7" ry="1.4" fill="#3d3550" opacity="0.72" transform="rotate(16 1684.2 583.5)"/><ellipse cx="1325.8" cy="574.9" rx="1" ry="1.4" fill="#574c68" opacity="0.53" transform="rotate(-3 1325.8 574.9)"/><ellipse cx="1495.7" cy="576.4" rx="0.7" ry="2.4" fill="#2c2838" opacity="0.53" transform="rotate(21 1495.7 576.4)"/><ellipse cx="1414" cy="575.5" rx="1.2" ry="2.1" fill="#574c68" opacity="0.58" transform="rotate(18 1414 575.5)"/><ellipse cx="1260.5" cy="578.2" rx="1.1" ry="1.4" fill="#574c68" opacity="0.63" transform="rotate(-15 1260.5 578.2)"/><ellipse cx="1539.6" cy="577.9" rx="0.6" ry="2.3" fill="#2c2838" opacity="0.74" transform="rotate(-12 1539.6 577.9)"/><ellipse cx="1353.3" cy="580.6" rx="0.9" ry="2.5" fill="#3d3550" opacity="0.83" transform="rotate(8 1353.3 580.6)"/><ellipse cx="1379" cy="585" rx="1.2" ry="2.3" fill="#574c68" opacity="0.59" transform="rotate(-23 1379 585)"/><ellipse cx="1538.3" cy="586.5" rx="0.6" ry="2.4" fill="#2c2838" opacity="0.91" transform="rotate(-30 1538.3 586.5)"/><ellipse cx="1245.3" cy="579.5" rx="1.1" ry="1" fill="#3d3550" opacity="0.79" transform="rotate(-19 1245.3 579.5)"/><ellipse cx="1510.5" cy="580.1" rx="1.1" ry="2.5" fill="#3d3550" opacity="0.59" transform="rotate(11 1510.5 580.1)"/><ellipse cx="1461.9" cy="581" rx="1.2" ry="1.1" fill="#2c2838" opacity="0.78" transform="rotate(-3 1461.9 581)"/><ellipse cx="1282.1" cy="583.6" rx="1.1" ry="2.5" fill="#2c2838" opacity="0.85" transform="rotate(-24 1282.1 583.6)"/><ellipse cx="1343.8" cy="579.6" rx="1" ry="1.4" fill="#574c68" opacity="0.60" transform="rotate(21 1343.8 579.6)"/><ellipse cx="1376.1" cy="579.4" rx="1" ry="1.9" fill="#3d3550" opacity="0.85" transform="rotate(-17 1376.1 579.4)"/><ellipse cx="1543.8" cy="579.3" rx="1" ry="2.2" fill="#2c2838" opacity="0.77" transform="rotate(33 1543.8 579.3)"/><ellipse cx="1681.9" cy="574.8" rx="1" ry="1.9" fill="#2c2838" opacity="0.68" transform="rotate(2 1681.9 574.8)"/><ellipse cx="1535.1" cy="578" rx="1.2" ry="1" fill="#574c68" opacity="0.53" transform="rotate(-7 1535.1 578)"/><ellipse cx="1533.3" cy="577.5" rx="1.1" ry="1.1" fill="#3d3550" opacity="0.74" transform="rotate(7 1533.3 577.5)"/><ellipse cx="1250.6" cy="578.1" rx="1.3" ry="1.4" fill="#3d3550" opacity="0.58" transform="rotate(32 1250.6 578.1)"/><ellipse cx="1389" cy="581.9" rx="1" ry="2.1" fill="#3d3550" opacity="0.86" transform="rotate(-18 1389 581.9)"/><ellipse cx="1493.6" cy="576.9" rx="1.2" ry="2.2" fill="#3d3550" opacity="0.92" transform="rotate(29 1493.6 576.9)"/><ellipse cx="1708.5" cy="577.5" rx="1.2" ry="2" fill="#2c2838" opacity="0.88" transform="rotate(-7 1708.5 577.5)"/><ellipse cx="1657.8" cy="583.8" rx="0.6" ry="1.3" fill="#3d3550" opacity="0.82" transform="rotate(15 1657.8 583.8)"/><ellipse cx="1497.4" cy="577.2" rx="0.7" ry="2.4" fill="#574c68" opacity="0.74" transform="rotate(-17 1497.4 577.2)"/><ellipse cx="1435.1" cy="577.6" rx="0.9" ry="1.5" fill="#574c68" opacity="0.59" transform="rotate(9 1435.1 577.6)"/><ellipse cx="1313" cy="578" rx="0.5" ry="2.3" fill="#3d3550" opacity="0.73" transform="rotate(7 1313 578)"/><ellipse cx="1606.9" cy="575.2" rx="0.5" ry="2.4" fill="#3d3550" opacity="0.62" transform="rotate(-15 1606.9 575.2)"/><ellipse cx="1565.1" cy="583.2" rx="0.7" ry="1.2" fill="#574c68" opacity="0.54" transform="rotate(-34 1565.1 583.2)"/><ellipse cx="1466.7" cy="583.5" rx="1.1" ry="1.3" fill="#574c68" opacity="0.62" transform="rotate(6 1466.7 583.5)"/><ellipse cx="1487.7" cy="578.7" rx="1" ry="2.1" fill="#3d3550" opacity="0.71" transform="rotate(-12 1487.7 578.7)"/><ellipse cx="1478.3" cy="573" rx="0.6" ry="1.2" fill="#2c2838" opacity="0.51" transform="rotate(30 1478.3 573)"/><ellipse cx="1284.1" cy="581.3" rx="1.3" ry="2.5" fill="#574c68" opacity="0.62" transform="rotate(13 1284.1 581.3)"/><ellipse cx="1660.3" cy="576.4" rx="1.1" ry="1" fill="#3d3550" opacity="0.61" transform="rotate(3 1660.3 576.4)"/><ellipse cx="1418.4" cy="583.9" rx="1" ry="2.4" fill="#2c2838" opacity="0.68" transform="rotate(-3 1418.4 583.9)"/><ellipse cx="1296.4" cy="583.4" rx="1" ry="2.5" fill="#3d3550" opacity="0.82" transform="rotate(-4 1296.4 583.4)"/><ellipse cx="1586.1" cy="581.8" rx="1.2" ry="2.3" fill="#3d3550" opacity="0.70" transform="rotate(17 1586.1 581.8)"/><ellipse cx="1300.3" cy="579.5" rx="0.9" ry="2.3" fill="#3d3550" opacity="0.87" transform="rotate(5 1300.3 579.5)"/><ellipse cx="1474.9" cy="578.8" rx="0.9" ry="2.4" fill="#2c2838" opacity="0.92" transform="rotate(26 1474.9 578.8)"/><ellipse cx="1468.1" cy="577.4" rx="1.2" ry="1.5" fill="#3d3550" opacity="0.70" transform="rotate(33 1468.1 577.4)"/><ellipse cx="1522" cy="579" rx="0.9" ry="1.8" fill="#574c68" opacity="0.88" transform="rotate(9 1522 579)"/><ellipse cx="1656.1" cy="584.3" rx="0.9" ry="2.2" fill="#3d3550" opacity="0.57" transform="rotate(-33 1656.1 584.3)"/><ellipse cx="1484.8" cy="574.6" rx="1.2" ry="2.5" fill="#2c2838" opacity="0.64" transform="rotate(34 1484.8 574.6)"/><ellipse cx="1245" cy="576.9" rx="1" ry="2.3" fill="#3d3550" opacity="0.57" transform="rotate(32 1245 576.9)"/><ellipse cx="1548.5" cy="576.5" rx="1.2" ry="1.4" fill="#2c2838" opacity="0.60" transform="rotate(-12 1548.5 576.5)"/><ellipse cx="1562.6" cy="579.7" rx="1.3" ry="2.5" fill="#2c2838" opacity="0.56" transform="rotate(-9 1562.6 579.7)"/><ellipse cx="1346.5" cy="580.7" rx="0.6" ry="1.8" fill="#574c68" opacity="0.69" transform="rotate(-14 1346.5 580.7)"/><ellipse cx="1398.4" cy="578.1" rx="0.9" ry="1.3" fill="#574c68" opacity="0.52" transform="rotate(26 1398.4 578.1)"/><ellipse cx="1327.3" cy="580.3" rx="0.9" ry="1.9" fill="#2c2838" opacity="0.52" transform="rotate(-15 1327.3 580.3)"/><ellipse cx="1318.8" cy="574.1" rx="0.8" ry="1.6" fill="#2c2838" opacity="0.57" transform="rotate(-24 1318.8 574.1)"/><ellipse cx="1476" cy="574.7" rx="1.1" ry="1.7" fill="#3d3550" opacity="0.62" transform="rotate(-15 1476 574.7)"/><ellipse cx="1563.2" cy="573.9" rx="0.7" ry="1.1" fill="#3d3550" opacity="0.77" transform="rotate(-3 1563.2 573.9)"/><ellipse cx="1457.6" cy="580.3" rx="0.7" ry="2.4" fill="#3d3550" opacity="0.52" transform="rotate(24 1457.6 580.3)"/><ellipse cx="1362.1" cy="574.2" rx="0.8" ry="2.5" fill="#2c2838" opacity="0.82" transform="rotate(-7 1362.1 574.2)"/><ellipse cx="1562" cy="575.8" rx="1" ry="1.2" fill="#3d3550" opacity="0.80" transform="rotate(16 1562 575.8)"/><ellipse cx="1362.9" cy="581.3" rx="0.7" ry="2.6" fill="#574c68" opacity="0.87" transform="rotate(21 1362.9 581.3)"/><ellipse cx="1625.7" cy="582.3" rx="0.7" ry="1.8" fill="#3d3550" opacity="0.78" transform="rotate(-10 1625.7 582.3)"/><ellipse cx="1579.4" cy="571.3" rx="0.7" ry="1.6" fill="#574c68" opacity="0.86" transform="rotate(21 1579.4 571.3)"/><ellipse cx="1575.5" cy="575.2" rx="1" ry="2.1" fill="#574c68" opacity="0.94" transform="rotate(12 1575.5 575.2)"/><ellipse cx="1664.1" cy="578.7" rx="0.7" ry="1.4" fill="#2c2838" opacity="0.50" transform="rotate(-22 1664.1 578.7)"/><ellipse cx="1356.1" cy="581.9" rx="0.8" ry="1.1" fill="#574c68" opacity="0.62" transform="rotate(9 1356.1 581.9)"/><ellipse cx="1371.9" cy="580.8" rx="0.5" ry="2.5" fill="#574c68" opacity="0.77" transform="rotate(-17 1371.9 580.8)"/><ellipse cx="1706.4" cy="583.3" rx="1.1" ry="2.6" fill="#2c2838" opacity="0.62" transform="rotate(13 1706.4 583.3)"/><ellipse cx="1386" cy="572.1" rx="1.1" ry="1" fill="#2c2838" opacity="0.63" transform="rotate(-7 1386 572.1)"/><ellipse cx="1255" cy="583.9" rx="0.8" ry="2" fill="#2c2838" opacity="0.63" transform="rotate(16 1255 583.9)"/><ellipse cx="1668.8" cy="581.1" rx="0.8" ry="2.1" fill="#2c2838" opacity="0.81" transform="rotate(-13 1668.8 581.1)"/><ellipse cx="1332.1" cy="579.3" rx="0.8" ry="2.5" fill="#574c68" opacity="0.51" transform="rotate(-13 1332.1 579.3)"/><ellipse cx="1263.3" cy="575" rx="0.6" ry="1.5" fill="#3d3550" opacity="0.92" transform="rotate(22 1263.3 575)"/><ellipse cx="1660.4" cy="575.9" rx="0.7" ry="1.1" fill="#3d3550" opacity="0.93" transform="rotate(-23 1660.4 575.9)"/><ellipse cx="1677.9" cy="577.3" rx="1.3" ry="1.3" fill="#3d3550" opacity="0.92" transform="rotate(-4 1677.9 577.3)"/><ellipse cx="1611.3" cy="579.4" rx="0.6" ry="2.6" fill="#574c68" opacity="0.53" transform="rotate(-12 1611.3 579.4)"/><ellipse cx="1520.7" cy="570.9" rx="0.8" ry="1.3" fill="#574c68" opacity="0.74" transform="rotate(-35 1520.7 570.9)"/><ellipse cx="1451.6" cy="580.2" rx="1.2" ry="2.4" fill="#2c2838" opacity="0.75" transform="rotate(7 1451.6 580.2)"/><ellipse cx="1695.8" cy="583.1" rx="1.2" ry="1.6" fill="#3d3550" opacity="0.52" transform="rotate(9 1695.8 583.1)"/><ellipse cx="1638.8" cy="581.1" rx="0.7" ry="1.8" fill="#2c2838" opacity="0.51" transform="rotate(19 1638.8 581.1)"/><ellipse cx="1328.6" cy="582" rx="0.6" ry="2.3" fill="#574c68" opacity="0.65" transform="rotate(-10 1328.6 582)"/><ellipse cx="1566.2" cy="583.6" rx="0.6" ry="2.5" fill="#2c2838" opacity="0.83" transform="rotate(-17 1566.2 583.6)"/><ellipse cx="1474" cy="569.1" rx="1.1" ry="1.2" fill="#3d3550" opacity="0.66" transform="rotate(18 1474 569.1)"/><ellipse cx="1460.5" cy="578.6" rx="0.7" ry="2.4" fill="#574c68" opacity="0.61" transform="rotate(14 1460.5 578.6)"/><ellipse cx="1613.9" cy="578" rx="0.7" ry="1.4" fill="#2c2838" opacity="0.80" transform="rotate(13 1613.9 578)"/><ellipse cx="1487.8" cy="572.5" rx="0.7" ry="1.7" fill="#574c68" opacity="0.76" transform="rotate(16 1487.8 572.5)"/><ellipse cx="1297.1" cy="580.1" rx="0.5" ry="1.7" fill="#574c68" opacity="0.88" transform="rotate(-8 1297.1 580.1)"/><ellipse cx="1304.5" cy="575.7" rx="0.5" ry="1.5" fill="#574c68" opacity="0.90" transform="rotate(-19 1304.5 575.7)"/><ellipse cx="1518.6" cy="576.3" rx="0.9" ry="2.1" fill="#3d3550" opacity="0.87" transform="rotate(12 1518.6 576.3)"/><ellipse cx="1536.5" cy="581" rx="1" ry="1.4" fill="#574c68" opacity="0.84" transform="rotate(27 1536.5 581)"/><ellipse cx="1499.3" cy="581.1" rx="0.5" ry="2" fill="#3d3550" opacity="0.93" transform="rotate(-7 1499.3 581.1)"/><ellipse cx="1447.4" cy="570.8" rx="1.1" ry="1.5" fill="#574c68" opacity="0.71" transform="rotate(-4 1447.4 570.8)"/><ellipse cx="1418" cy="580.9" rx="1.1" ry="2" fill="#3d3550" opacity="0.80" transform="rotate(-30 1418 580.9)"/><ellipse cx="1637.1" cy="575.7" rx="1.3" ry="1.7" fill="#2c2838" opacity="0.61" transform="rotate(11 1637.1 575.7)"/><ellipse cx="1527.2" cy="581.9" rx="1.2" ry="1.5" fill="#2c2838" opacity="0.72" transform="rotate(3 1527.2 581.9)"/><ellipse cx="1707.5" cy="574.1" rx="1.3" ry="2.2" fill="#574c68" opacity="0.71" transform="rotate(-21 1707.5 574.1)"/><ellipse cx="1356.1" cy="584.8" rx="0.5" ry="1.8" fill="#574c68" opacity="0.65" transform="rotate(-31 1356.1 584.8)"/><ellipse cx="1391.4" cy="584.1" rx="1.2" ry="2.1" fill="#574c68" opacity="0.61" transform="rotate(7 1391.4 584.1)"/><ellipse cx="1291.8" cy="577.1" rx="0.7" ry="1.5" fill="#2c2838" opacity="0.63" transform="rotate(25 1291.8 577.1)"/><ellipse cx="1669.1" cy="578.7" rx="0.7" ry="2.3" fill="#2c2838" opacity="0.79" transform="rotate(-6 1669.1 578.7)"/><ellipse cx="1612.3" cy="577.6" rx="1.1" ry="1.5" fill="#3d3550" opacity="0.62" transform="rotate(-26 1612.3 577.6)"/><ellipse cx="1308.6" cy="579" rx="0.8" ry="1.4" fill="#3d3550" opacity="0.57" transform="rotate(-26 1308.6 579)"/><ellipse cx="1446" cy="575.2" rx="0.9" ry="1.3" fill="#574c68" opacity="0.83" transform="rotate(-10 1446 575.2)"/><ellipse cx="1681.3" cy="581.2" rx="0.8" ry="1.1" fill="#2c2838" opacity="0.81" transform="rotate(-21 1681.3 581.2)"/><ellipse cx="1287.3" cy="574.4" rx="1.1" ry="2" fill="#3d3550" opacity="0.79" transform="rotate(32 1287.3 574.4)"/><ellipse cx="1445.4" cy="577.6" rx="0.8" ry="1.8" fill="#3d3550" opacity="0.82" transform="rotate(15 1445.4 577.6)"/><ellipse cx="1423.5" cy="574" rx="0.7" ry="2.5" fill="#3d3550" opacity="0.86" transform="rotate(-9 1423.5 574)"/><ellipse cx="1455.1" cy="576" rx="0.8" ry="1.2" fill="#2c2838" opacity="0.57" transform="rotate(10 1455.1 576)"/><ellipse cx="1599.7" cy="584.5" rx="0.7" ry="2" fill="#3d3550" opacity="0.90" transform="rotate(20 1599.7 584.5)"/><ellipse cx="1598.3" cy="577" rx="1" ry="2" fill="#2c2838" opacity="0.85" transform="rotate(34 1598.3 577)"/><ellipse cx="1435.4" cy="570.8" rx="1.3" ry="1.5" fill="#2c2838" opacity="0.76" transform="rotate(6 1435.4 570.8)"/><ellipse cx="1687.4" cy="581" rx="0.6" ry="1.5" fill="#3d3550" opacity="0.80" transform="rotate(21 1687.4 581)"/><ellipse cx="1583.8" cy="578" rx="0.5" ry="1.8" fill="#3d3550" opacity="0.74" transform="rotate(-24 1583.8 578)"/><ellipse cx="1343.2" cy="588.2" rx="0.8" ry="2" fill="#2c2838" opacity="0.67" transform="rotate(12 1343.2 588.2)"/><ellipse cx="1469.8" cy="575.8" rx="0.9" ry="1.8" fill="#3d3550" opacity="0.70" transform="rotate(-15 1469.8 575.8)"/><ellipse cx="1269.9" cy="580.5" rx="1" ry="1.2" fill="#2c2838" opacity="0.73" transform="rotate(-25 1269.9 580.5)"/><ellipse cx="1693.1" cy="587.1" rx="1" ry="1.1" fill="#2c2838" opacity="0.81" transform="rotate(-31 1693.1 587.1)"/><ellipse cx="1457.2" cy="579.4" rx="0.5" ry="1.3" fill="#2c2838" opacity="0.75" transform="rotate(14 1457.2 579.4)"/><ellipse cx="1479.3" cy="582.3" rx="1" ry="2.6" fill="#574c68" opacity="0.56" transform="rotate(25 1479.3 582.3)"/><ellipse cx="1587.9" cy="580.5" rx="1.1" ry="2" fill="#2c2838" opacity="0.66" transform="rotate(-34 1587.9 580.5)"/><ellipse cx="1267.1" cy="581.6" rx="1.1" ry="1.9" fill="#2c2838" opacity="0.61" transform="rotate(3 1267.1 581.6)"/><ellipse cx="1276.2" cy="581" rx="0.9" ry="2.2" fill="#3d3550" opacity="0.72" transform="rotate(22 1276.2 581)"/><ellipse cx="1606.2" cy="572" rx="0.7" ry="1.9" fill="#2c2838" opacity="0.70" transform="rotate(-21 1606.2 572)"/><ellipse cx="1374.8" cy="577.2" rx="0.7" ry="2.4" fill="#2c2838" opacity="0.52" transform="rotate(3 1374.8 577.2)"/><ellipse cx="1594" cy="577.4" rx="1.2" ry="1.5" fill="#2c2838" opacity="0.69" transform="rotate(-11 1594 577.4)"/><ellipse cx="1447.2" cy="578.1" rx="1.2" ry="1.7" fill="#574c68" opacity="0.55" transform="rotate(12 1447.2 578.1)"/><ellipse cx="1317.4" cy="576.5" rx="1.1" ry="2.5" fill="#574c68" opacity="0.89" transform="rotate(-19 1317.4 576.5)"/><ellipse cx="1545.2" cy="573.5" rx="0.7" ry="2" fill="#3d3550" opacity="0.56" transform="rotate(12 1545.2 573.5)"/><ellipse cx="1486" cy="577.3" rx="1" ry="1.6" fill="#3d3550" opacity="0.80" transform="rotate(31 1486 577.3)"/><ellipse cx="1285.6" cy="582.1" rx="1.1" ry="1.1" fill="#2c2838" opacity="0.56" transform="rotate(-3 1285.6 582.1)"/><ellipse cx="1466" cy="585.6" rx="1.1" ry="1.9" fill="#3d3550" opacity="0.84" transform="rotate(17 1466 585.6)"/><ellipse cx="1484.9" cy="578.5" rx="0.8" ry="1.4" fill="#574c68" opacity="0.83" transform="rotate(20 1484.9 578.5)"/><ellipse cx="1698.7" cy="578.8" rx="1.3" ry="2.4" fill="#3d3550" opacity="0.67" transform="rotate(35 1698.7 578.8)"/><ellipse cx="1320.2" cy="576.6" rx="1.1" ry="1.7" fill="#2c2838" opacity="0.83" transform="rotate(34 1320.2 576.6)"/><ellipse cx="1653.2" cy="581.2" rx="1.1" ry="2.1" fill="#2c2838" opacity="0.76" transform="rotate(11 1653.2 581.2)"/><ellipse cx="1558.5" cy="578.6" rx="1.1" ry="1.4" fill="#2c2838" opacity="0.86" transform="rotate(6 1558.5 578.6)"/><ellipse cx="1563.5" cy="577.9" rx="1.1" ry="1.3" fill="#3d3550" opacity="0.64" transform="rotate(-23 1563.5 577.9)"/><ellipse cx="1310.2" cy="584" rx="0.9" ry="2.6" fill="#2c2838" opacity="0.68" transform="rotate(-20 1310.2 584)"/><ellipse cx="1267.3" cy="576.8" rx="1.2" ry="1.5" fill="#3d3550" opacity="0.73" transform="rotate(22 1267.3 576.8)"/><ellipse cx="1699.2" cy="574.6" rx="0.7" ry="1.5" fill="#574c68" opacity="0.89" transform="rotate(-34 1699.2 574.6)"/><ellipse cx="1275.4" cy="582" rx="1.1" ry="1.1" fill="#2c2838" opacity="0.78" transform="rotate(-11 1275.4 582)"/><ellipse cx="1695.2" cy="578.3" rx="0.9" ry="1.1" fill="#3d3550" opacity="0.56" transform="rotate(-23 1695.2 578.3)"/><ellipse cx="1305.5" cy="573.8" rx="0.9" ry="2.4" fill="#2c2838" opacity="0.71" transform="rotate(35 1305.5 573.8)"/><ellipse cx="1665.7" cy="574.5" rx="0.8" ry="2.2" fill="#2c2838" opacity="0.84" transform="rotate(13 1665.7 574.5)"/><ellipse cx="1374.8" cy="583.2" rx="1.2" ry="2.4" fill="#2c2838" opacity="0.75" transform="rotate(31 1374.8 583.2)"/><ellipse cx="1383.7" cy="580.5" rx="0.9" ry="2.5" fill="#3d3550" opacity="0.94" transform="rotate(-16 1383.7 580.5)"/><ellipse cx="1636.7" cy="585.8" rx="1.1" ry="2.2" fill="#3d3550" opacity="0.50" transform="rotate(-16 1636.7 585.8)"/><ellipse cx="1703.7" cy="578.8" rx="0.9" ry="1.8" fill="#574c68" opacity="0.57" transform="rotate(-1 1703.7 578.8)"/><ellipse cx="1259.8" cy="584.7" rx="1.1" ry="2.4" fill="#574c68" opacity="0.72" transform="rotate(8 1259.8 584.7)"/><ellipse cx="1706.8" cy="575.6" rx="1" ry="1.1" fill="#2c2838" opacity="0.59" transform="rotate(-16 1706.8 575.6)"/><ellipse cx="1330.3" cy="576.4" rx="0.8" ry="1.1" fill="#2c2838" opacity="0.64" transform="rotate(6 1330.3 576.4)"/><ellipse cx="1491" cy="576.9" rx="0.9" ry="1.2" fill="#2c2838" opacity="0.93" transform="rotate(-22 1491 576.9)"/><ellipse cx="1658.4" cy="582.2" rx="0.7" ry="1.7" fill="#574c68" opacity="0.59" transform="rotate(32 1658.4 582.2)"/><ellipse cx="1619.4" cy="573.4" rx="1.3" ry="1.6" fill="#2c2838" opacity="0.92" transform="rotate(-33 1619.4 573.4)"/><ellipse cx="1316.2" cy="582.6" rx="0.6" ry="1.2" fill="#574c68" opacity="0.61" transform="rotate(-22 1316.2 582.6)"/><ellipse cx="1585" cy="576.7" rx="0.6" ry="2.2" fill="#574c68" opacity="0.91" transform="rotate(-17 1585 576.7)"/><ellipse cx="1238.3" cy="576.7" rx="0.8" ry="2.3" fill="#2c2838" opacity="0.83" transform="rotate(-6 1238.3 576.7)"/><ellipse cx="1469.9" cy="577.3" rx="0.5" ry="1.6" fill="#2c2838" opacity="0.71" transform="rotate(-8 1469.9 577.3)"/><ellipse cx="1395.7" cy="576.2" rx="0.8" ry="1.5" fill="#3d3550" opacity="0.84" transform="rotate(-14 1395.7 576.2)"/><ellipse cx="1281" cy="580.7" rx="0.6" ry="1.6" fill="#574c68" opacity="0.84" transform="rotate(10 1281 580.7)"/><ellipse cx="1564.1" cy="585" rx="1.3" ry="1.2" fill="#3d3550" opacity="0.58" transform="rotate(-2 1564.1 585)"/><ellipse cx="1523" cy="578.9" rx="1.1" ry="1.6" fill="#574c68" opacity="0.75" transform="rotate(32 1523 578.9)"/><ellipse cx="1647.8" cy="574.6" rx="1.3" ry="1.8" fill="#3d3550" opacity="0.69" transform="rotate(-6 1647.8 574.6)"/><ellipse cx="1332.1" cy="583.3" rx="0.8" ry="1.6" fill="#2c2838" opacity="0.61" transform="rotate(3 1332.1 583.3)"/><ellipse cx="1250.5" cy="573.7" rx="0.7" ry="2.2" fill="#574c68" opacity="0.72" transform="rotate(-1 1250.5 573.7)"/><ellipse cx="1545.3" cy="581.8" rx="0.7" ry="2" fill="#2c2838" opacity="0.88" transform="rotate(-21 1545.3 581.8)"/><ellipse cx="1267.9" cy="579" rx="1.2" ry="2.5" fill="#2c2838" opacity="0.95" transform="rotate(-13 1267.9 579)"/><ellipse cx="1440.4" cy="575.1" rx="0.9" ry="1.7" fill="#3d3550" opacity="0.91" transform="rotate(-25 1440.4 575.1)"/><ellipse cx="1321.3" cy="576.8" rx="1.1" ry="1.4" fill="#3d3550" opacity="0.57" transform="rotate(27 1321.3 576.8)"/><ellipse cx="1360" cy="591.5" rx="0.9" ry="1.1" fill="#2c2838" opacity="0.67" transform="rotate(0 1360 591.5)"/><ellipse cx="1572" cy="581" rx="0.5" ry="2" fill="#574c68" opacity="0.57" transform="rotate(-1 1572 581)"/><ellipse cx="1291.6" cy="580" rx="1.2" ry="1.7" fill="#574c68" opacity="0.66" transform="rotate(13 1291.6 580)"/><ellipse cx="1510.7" cy="576.1" rx="1.2" ry="2.5" fill="#3d3550" opacity="0.87" transform="rotate(22 1510.7 576.1)"/><ellipse cx="1349.3" cy="581.7" rx="1.2" ry="1.4" fill="#574c68" opacity="0.76" transform="rotate(-31 1349.3 581.7)"/><ellipse cx="1607.4" cy="580.8" rx="0.6" ry="2.6" fill="#3d3550" opacity="0.61" transform="rotate(27 1607.4 580.8)"/><ellipse cx="1573.9" cy="576.5" rx="1.3" ry="1.5" fill="#574c68" opacity="0.84" transform="rotate(6 1573.9 576.5)"/><ellipse cx="1497.4" cy="574.8" rx="0.9" ry="1.2" fill="#2c2838" opacity="0.68" transform="rotate(20 1497.4 574.8)"/><ellipse cx="1397.9" cy="578.1" rx="0.8" ry="2.2" fill="#3d3550" opacity="0.94" transform="rotate(-7 1397.9 578.1)"/><ellipse cx="1320.7" cy="577.9" rx="1" ry="1.2" fill="#3d3550" opacity="0.74" transform="rotate(-27 1320.7 577.9)"/><ellipse cx="1580" cy="576.7" rx="1" ry="2" fill="#2c2838" opacity="0.51" transform="rotate(-35 1580 576.7)"/><ellipse cx="1238.2" cy="577.9" rx="0.8" ry="1.3" fill="#2c2838" opacity="0.55" transform="rotate(11 1238.2 577.9)"/><ellipse cx="1300.6" cy="580.4" rx="0.6" ry="1.3" fill="#2c2838" opacity="0.62" transform="rotate(22 1300.6 580.4)"/><ellipse cx="1300.2" cy="585.4" rx="1.1" ry="2.2" fill="#574c68" opacity="0.76" transform="rotate(14 1300.2 585.4)"/><ellipse cx="1569.2" cy="575.4" rx="1" ry="1.8" fill="#3d3550" opacity="0.53" transform="rotate(23 1569.2 575.4)"/><ellipse cx="1449.2" cy="578" rx="1.2" ry="1.2" fill="#2c2838" opacity="0.53" transform="rotate(1 1449.2 578)"/><ellipse cx="1368" cy="576.7" rx="0.7" ry="1.7" fill="#2c2838" opacity="0.59" transform="rotate(-1 1368 576.7)"/><ellipse cx="1668.6" cy="574.2" rx="1" ry="1.7" fill="#3d3550" opacity="0.76" transform="rotate(24 1668.6 574.2)"/><ellipse cx="1691.7" cy="586.2" rx="1.1" ry="2.4" fill="#2c2838" opacity="0.91" transform="rotate(24 1691.7 586.2)"/><ellipse cx="1335" cy="582.1" rx="1" ry="1.7" fill="#3d3550" opacity="0.64" transform="rotate(3 1335 582.1)"/><ellipse cx="1536.3" cy="576.1" rx="0.7" ry="2.3" fill="#3d3550" opacity="0.70" transform="rotate(-18 1536.3 576.1)"/><ellipse cx="1511.4" cy="577.7" rx="1" ry="1.5" fill="#3d3550" opacity="0.78" transform="rotate(24 1511.4 577.7)"/><ellipse cx="1392.4" cy="579.9" rx="1.1" ry="1.5" fill="#574c68" opacity="0.76" transform="rotate(8 1392.4 579.9)"/><ellipse cx="1455.5" cy="575.8" rx="0.7" ry="1.8" fill="#2c2838" opacity="0.87" transform="rotate(-13 1455.5 575.8)"/><ellipse cx="1340.1" cy="578.5" rx="1.1" ry="1.6" fill="#574c68" opacity="0.72" transform="rotate(-19 1340.1 578.5)"/><ellipse cx="1294.9" cy="576.8" rx="0.9" ry="2.4" fill="#574c68" opacity="0.72" transform="rotate(24 1294.9 576.8)"/><ellipse cx="1555.5" cy="579.5" rx="1.2" ry="1.9" fill="#574c68" opacity="0.74" transform="rotate(-29 1555.5 579.5)"/><ellipse cx="1283.8" cy="574.8" rx="0.8" ry="2" fill="#3d3550" opacity="0.77" transform="rotate(30 1283.8 574.8)"/><ellipse cx="1706.8" cy="573.1" rx="1" ry="1.8" fill="#3d3550" opacity="0.62" transform="rotate(27 1706.8 573.1)"/><ellipse cx="1377.8" cy="578.7" rx="1" ry="2.2" fill="#574c68" opacity="0.88" transform="rotate(-11 1377.8 578.7)"/><ellipse cx="1545.5" cy="575.3" rx="1.3" ry="1.3" fill="#574c68" opacity="0.67" transform="rotate(-5 1545.5 575.3)"/><ellipse cx="1525" cy="570.9" rx="1.2" ry="2.3" fill="#3d3550" opacity="0.94" transform="rotate(23 1525 570.9)"/><ellipse cx="1525.9" cy="581.2" rx="0.8" ry="1.3" fill="#574c68" opacity="0.59" transform="rotate(23 1525.9 581.2)"/><ellipse cx="1375.6" cy="571.6" rx="0.9" ry="1.1" fill="#574c68" opacity="0.58" transform="rotate(30 1375.6 571.6)"/><ellipse cx="1695.9" cy="579.9" rx="0.9" ry="1.2" fill="#574c68" opacity="0.57" transform="rotate(34 1695.9 579.9)"/><ellipse cx="1232.7" cy="579.1" rx="0.7" ry="2.6" fill="#2c2838" opacity="0.88" transform="rotate(-33 1232.7 579.1)"/><ellipse cx="1603.7" cy="581.8" rx="1.2" ry="1.5" fill="#3d3550" opacity="0.89" transform="rotate(-11 1603.7 581.8)"/><ellipse cx="1519.3" cy="578" rx="0.5" ry="1.3" fill="#574c68" opacity="0.90" transform="rotate(3 1519.3 578)"/><ellipse cx="1272.9" cy="584.2" rx="1" ry="2.5" fill="#574c68" opacity="0.87" transform="rotate(13 1272.9 584.2)"/><ellipse cx="1575.8" cy="575.6" rx="1.3" ry="2" fill="#574c68" opacity="0.84" transform="rotate(-32 1575.8 575.6)"/><ellipse cx="1511.8" cy="575.2" rx="0.5" ry="1.4" fill="#574c68" opacity="0.72" transform="rotate(15 1511.8 575.2)"/><ellipse cx="1301.7" cy="575.3" rx="1" ry="2.2" fill="#574c68" opacity="0.63" transform="rotate(12 1301.7 575.3)"/><ellipse cx="1391.8" cy="578" rx="1" ry="1.2" fill="#3d3550" opacity="0.70" transform="rotate(9 1391.8 578)"/><ellipse cx="1504.3" cy="578" rx="0.5" ry="1.7" fill="#574c68" opacity="0.67" transform="rotate(19 1504.3 578)"/><ellipse cx="1550.7" cy="572.4" rx="0.8" ry="1.3" fill="#2c2838" opacity="0.89" transform="rotate(23 1550.7 572.4)"/><ellipse cx="1254.8" cy="579.8" rx="0.8" ry="1.1" fill="#2c2838" opacity="0.82" transform="rotate(11 1254.8 579.8)"/><ellipse cx="1373.3" cy="579.5" rx="1" ry="2.6" fill="#2c2838" opacity="0.57" transform="rotate(-6 1373.3 579.5)"/><ellipse cx="1551.6" cy="571.5" rx="1" ry="1.4" fill="#574c68" opacity="0.61" transform="rotate(29 1551.6 571.5)"/><ellipse cx="1699.8" cy="574" rx="0.8" ry="2.4" fill="#2c2838" opacity="0.50" transform="rotate(-18 1699.8 574)"/><ellipse cx="1660.4" cy="583.9" rx="0.8" ry="1.3" fill="#574c68" opacity="0.91" transform="rotate(-26 1660.4 583.9)"/><ellipse cx="1636.1" cy="578.8" rx="0.6" ry="1.2" fill="#3d3550" opacity="0.58" transform="rotate(-29 1636.1 578.8)"/><ellipse cx="1516" cy="575.7" rx="0.8" ry="1.8" fill="#3d3550" opacity="0.86" transform="rotate(-23 1516 575.7)"/><ellipse cx="1319.8" cy="577.5" rx="0.7" ry="1.5" fill="#2c2838" opacity="0.79" transform="rotate(-31 1319.8 577.5)"/><ellipse cx="1454.4" cy="573.4" rx="0.5" ry="1.4" fill="#574c68" opacity="0.75" transform="rotate(-20 1454.4 573.4)"/><ellipse cx="1528.7" cy="579.3" rx="0.6" ry="2.2" fill="#3d3550" opacity="0.53" transform="rotate(3 1528.7 579.3)"/><ellipse cx="1585.5" cy="570.3" rx="0.8" ry="1.4" fill="#3d3550" opacity="0.51" transform="rotate(7 1585.5 570.3)"/><ellipse cx="1546.3" cy="571.4" rx="1.2" ry="2.1" fill="#3d3550" opacity="0.89" transform="rotate(-25 1546.3 571.4)"/><ellipse cx="1247.6" cy="575.7" rx="0.5" ry="1.2" fill="#574c68" opacity="0.93" transform="rotate(-13 1247.6 575.7)"/><ellipse cx="1374.2" cy="583.3" rx="0.8" ry="2.3" fill="#2c2838" opacity="0.78" transform="rotate(31 1374.2 583.3)"/><ellipse cx="1321.8" cy="579" rx="1.1" ry="2" fill="#2c2838" opacity="0.74" transform="rotate(-13 1321.8 579)"/><ellipse cx="1538.3" cy="578.7" rx="1.1" ry="2.1" fill="#574c68" opacity="0.52" transform="rotate(-19 1538.3 578.7)"/><ellipse cx="1241.3" cy="573.6" rx="1.2" ry="2.2" fill="#574c68" opacity="0.82" transform="rotate(-24 1241.3 573.6)"/><ellipse cx="1421.8" cy="579.1" rx="1.2" ry="1.3" fill="#574c68" opacity="0.92" transform="rotate(27 1421.8 579.1)"/><ellipse cx="1412.3" cy="578.5" rx="0.7" ry="1.8" fill="#3d3550" opacity="0.62" transform="rotate(5 1412.3 578.5)"/><ellipse cx="1282.3" cy="580.5" rx="0.6" ry="2.4" fill="#3d3550" opacity="0.59" transform="rotate(2 1282.3 580.5)"/><ellipse cx="1630.7" cy="577.7" rx="0.8" ry="1.1" fill="#3d3550" opacity="0.70" transform="rotate(-8 1630.7 577.7)"/><ellipse cx="1518.8" cy="572.3" rx="1.1" ry="1.1" fill="#2c2838" opacity="0.61" transform="rotate(-10 1518.8 572.3)"/><ellipse cx="1629.5" cy="585.2" rx="1.1" ry="2.6" fill="#574c68" opacity="0.73" transform="rotate(4 1629.5 585.2)"/><ellipse cx="1482.3" cy="581.2" rx="1.1" ry="1.8" fill="#2c2838" opacity="0.64" transform="rotate(-16 1482.3 581.2)"/><ellipse cx="1306.1" cy="581.7" rx="1" ry="1.1" fill="#2c2838" opacity="0.73" transform="rotate(8 1306.1 581.7)"/><ellipse cx="1663.8" cy="579.8" rx="1.1" ry="2.6" fill="#2c2838" opacity="0.58" transform="rotate(12 1663.8 579.8)"/><ellipse cx="1643.5" cy="580.3" rx="0.6" ry="1.5" fill="#2c2838" opacity="0.93" transform="rotate(11 1643.5 580.3)"/><ellipse cx="1289.4" cy="573.8" rx="0.7" ry="1.9" fill="#2c2838" opacity="0.89" transform="rotate(-6 1289.4 573.8)"/><ellipse cx="1517.5" cy="577.6" rx="0.8" ry="2.6" fill="#574c68" opacity="0.51" transform="rotate(-17 1517.5 577.6)"/><ellipse cx="1692" cy="577.9" rx="1.2" ry="2.5" fill="#2c2838" opacity="0.64" transform="rotate(-35 1692 577.9)"/><ellipse cx="1598.5" cy="576.9" rx="0.6" ry="2.3" fill="#574c68" opacity="0.78" transform="rotate(19 1598.5 576.9)"/><ellipse cx="1526.8" cy="579.8" rx="0.7" ry="2.4" fill="#574c68" opacity="0.91" transform="rotate(24 1526.8 579.8)"/><ellipse cx="1552.1" cy="573" rx="0.5" ry="1.6" fill="#3d3550" opacity="0.92" transform="rotate(11 1552.1 573)"/><ellipse cx="1519.3" cy="578.6" rx="0.7" ry="1.6" fill="#3d3550" opacity="0.67" transform="rotate(-9 1519.3 578.6)"/><ellipse cx="1575.1" cy="578.9" rx="0.5" ry="2" fill="#3d3550" opacity="0.87" transform="rotate(7 1575.1 578.9)"/><ellipse cx="1602" cy="574.7" rx="0.8" ry="1.9" fill="#3d3550" opacity="0.81" transform="rotate(20 1602 574.7)"/><ellipse cx="1523.8" cy="577.3" rx="1.2" ry="2.4" fill="#3d3550" opacity="0.53" transform="rotate(-12 1523.8 577.3)"/><ellipse cx="1428.5" cy="579.2" rx="0.7" ry="2" fill="#3d3550" opacity="0.53" transform="rotate(23 1428.5 579.2)"/><ellipse cx="1368.5" cy="574.6" rx="0.6" ry="1.8" fill="#574c68" opacity="0.86" transform="rotate(-18 1368.5 574.6)"/><ellipse cx="1438.8" cy="578" rx="0.7" ry="1.4" fill="#574c68" opacity="0.74" transform="rotate(-15 1438.8 578)"/><ellipse cx="1552.7" cy="577.1" rx="1.2" ry="2.4" fill="#3d3550" opacity="0.58" transform="rotate(-26 1552.7 577.1)"/><ellipse cx="1541.9" cy="575.9" rx="1.1" ry="2.3" fill="#574c68" opacity="0.71" transform="rotate(-6 1541.9 575.9)"/><ellipse cx="1299.3" cy="578.1" rx="1" ry="1.7" fill="#3d3550" opacity="0.65" transform="rotate(2 1299.3 578.1)"/><ellipse cx="1467.9" cy="576.6" rx="0.9" ry="2.3" fill="#2c2838" opacity="0.84" transform="rotate(12 1467.9 576.6)"/><ellipse cx="1317" cy="575.8" rx="0.6" ry="1.1" fill="#2c2838" opacity="0.79" transform="rotate(-3 1317 575.8)"/><ellipse cx="1454.1" cy="573.1" rx="1.1" ry="2.5" fill="#574c68" opacity="0.58" transform="rotate(-11 1454.1 573.1)"/><ellipse cx="1586.1" cy="583.1" rx="1.2" ry="2.6" fill="#3d3550" opacity="0.85" transform="rotate(20 1586.1 583.1)"/><ellipse cx="1286.1" cy="576" rx="1.2" ry="2.6" fill="#3d3550" opacity="0.90" transform="rotate(28 1286.1 576)"/><ellipse cx="1425.6" cy="574.1" rx="1.2" ry="1.7" fill="#574c68" opacity="0.82" transform="rotate(16 1425.6 574.1)"/><ellipse cx="1478.2" cy="572.9" rx="1.1" ry="1.4" fill="#3d3550" opacity="0.52" transform="rotate(-29 1478.2 572.9)"/><ellipse cx="1563.8" cy="577.7" rx="1.2" ry="2" fill="#574c68" opacity="0.75" transform="rotate(-28 1563.8 577.7)"/><ellipse cx="1388.3" cy="572.7" rx="0.9" ry="1.4" fill="#574c68" opacity="0.53" transform="rotate(-26 1388.3 572.7)"/><ellipse cx="1498.4" cy="573.6" rx="0.8" ry="2.2" fill="#574c68" opacity="0.61" transform="rotate(33 1498.4 573.6)"/><ellipse cx="1552.1" cy="574.4" rx="0.8" ry="1.1" fill="#2c2838" opacity="0.62" transform="rotate(18 1552.1 574.4)"/><ellipse cx="1390.5" cy="581.9" rx="0.5" ry="1.9" fill="#2c2838" opacity="0.61" transform="rotate(17 1390.5 581.9)"/><ellipse cx="1247.6" cy="576" rx="1" ry="2" fill="#2c2838" opacity="0.71" transform="rotate(-8 1247.6 576)"/><ellipse cx="1422.8" cy="572.8" rx="0.8" ry="1.9" fill="#3d3550" opacity="0.73" transform="rotate(-24 1422.8 572.8)"/><ellipse cx="1327.7" cy="578.7" rx="0.6" ry="2.4" fill="#574c68" opacity="0.69" transform="rotate(-21 1327.7 578.7)"/></g>
<circle cx="1258" cy="589" r="4.6" fill="url(#cB)" opacity="0.9"/>
<circle cx="1330" cy="590" r="4.6" fill="url(#cB)" opacity="0.9"/>
<circle cx="1407" cy="597" r="4.6" fill="url(#cB)" opacity="0.9"/>
<circle cx="1437" cy="596" r="4.6" fill="url(#cB)" opacity="0.9"/>
<circle cx="1462" cy="597" r="4.6" fill="url(#cB)" opacity="0.9"/>
<circle cx="1585" cy="599" r="4.6" fill="url(#cB)" opacity="0.9"/>
<circle cx="1653" cy="598" r="4.6" fill="url(#cB)" opacity="0.9"/>
<g filter="url(#soft2)"><rect x="1230" y="606" width="480" height="42" fill="#ced8e2" opacity="0.7"/><rect x="1230" y="602" width="480" height="4.5" fill="#aeabce" opacity="0.55"/><ellipse cx="1262" cy="613" rx="26" ry="4.5" fill="#e9f4f2" opacity="0.97"/><ellipse cx="1322" cy="613" rx="27" ry="4.5" fill="#e9f4f2" opacity="0.97"/><ellipse cx="1432" cy="616" rx="36" ry="6" fill="#e9f4f2" opacity="0.97"/><ellipse cx="1519" cy="617" rx="38" ry="6.5" fill="#e9f4f2" opacity="0.97"/><ellipse cx="1598" cy="618" rx="25" ry="7" fill="#e9f4f2" opacity="0.97"/><ellipse cx="1668" cy="617" rx="33" ry="7" fill="#e9f4f2" opacity="0.97"/><ellipse cx="1250" cy="630" rx="22" ry="6" fill="#e9f4f2" opacity="0.97"/><ellipse cx="1420" cy="632" rx="30" ry="6" fill="#e9f4f2" opacity="0.97"/><ellipse cx="1500" cy="636" rx="40" ry="6" fill="#e9f4f2" opacity="0.97"/><ellipse cx="1700" cy="643" rx="12" ry="4" fill="#e9f4f2" opacity="0.97"/><ellipse cx="1640" cy="643" rx="20" ry="3" fill="#e9f4f2" opacity="0.97"/><ellipse cx="1275" cy="644" rx="32" ry="3" fill="#e9f4f2" opacity="0.97"/><ellipse cx="1370" cy="616" rx="14" ry="4" fill="#e9f4f2" opacity="0.97"/><ellipse cx="1560" cy="640" rx="10" ry="5" fill="#e9f4f2" opacity="0.97"/><ellipse cx="1472" cy="614" rx="6" ry="9" fill="#8d86b4" opacity="0.8"/><ellipse cx="1568" cy="615" rx="5" ry="10" fill="#8d86b4" opacity="0.8"/><ellipse cx="1650" cy="626" rx="6" ry="5" fill="#8d86b4" opacity="0.8"/><ellipse cx="1243" cy="628" rx="5" ry="5" fill="#8d86b4" opacity="0.8"/><ellipse cx="1540" cy="634" rx="6" ry="6" fill="#8d86b4" opacity="0.8"/></g>
<g filter="url(#soft)"><path d="M1281 619 C1290 615 1300 617 1310 616 C1318 614 1327 615 1328 620 C1327 624 1345 623 1360 622 C1380 621 1392 624 1394 633 C1396 641 1388 644 1378 642 C1360 640 1345 641 1332 637 C1318 633 1308 630 1298 627 C1290 625 1280 623 1281 619Z" fill="#1d1a2a"/><path d="M1572 636 C1575 629 1585 628 1592 632 C1597 637 1595 642 1594 648 L1571 648 C1570 643 1570 640 1572 636Z" fill="#1d1a2a"/><path d="M1607 640 C1612 634 1622 636 1634 633 C1640 627 1655 626 1668 629 C1676 632 1674 640 1670 645 L1608 647 C1605 645 1605 642 1607 640Z" fill="#1d1a2a"/><ellipse cx="1704" cy="632.5" rx="9" ry="3.5" fill="#25213a"/><ellipse cx="1389" cy="609" rx="5" ry="3" fill="#3a3358"/></g>
<rect x="1230" y="0" width="480" height="646" filter="url(#grain)" opacity="0.28"/>
</g>
<path d="M1230.15 0 V645.55 H1710" stroke="#0e1018" stroke-width="1.9" fill="none"/>
<text x="1200.8" y="761.6" font-size="29.5" fill="#000" font-weight="bold">K</text>
<defs>
<clipPath id="oclip"><rect x="1227.2" y="778.0" width="482.79999999999995" height="306.0"/></clipPath>
<filter id="ob1" x="-5%" y="-5%" width="110%" height="110%"><feGaussianBlur stdDeviation="1.6"/></filter>
<filter id="ob1b" x="-5%" y="-5%" width="110%" height="110%"><feGaussianBlur stdDeviation="2.4"/></filter>
<filter id="ob2" x="-5%" y="-5%" width="110%" height="110%"><feGaussianBlur stdDeviation="4"/></filter>
<filter id="speckle" x="1227.2" y="778.0" width="482.79999999999995" height="306.0" filterUnits="userSpaceOnUse" color-interpolation-filters="sRGB">
<feTurbulence type="fractalNoise" baseFrequency="0.5 0.17" numOctaves="3" seed="11"/>
<feColorMatrix type="matrix" values="1 0 0 0 0  1 0 0 0 0  1 0 0 0 0  0 0 0 0 1" result="n1"/>
<feTurbulence type="fractalNoise" baseFrequency="0.3 0.006" numOctaves="1" seed="5"/>
<feColorMatrix type="matrix" values="1 0 0 0 0  1 0 0 0 0  1 0 0 0 0  0 0 0 0 1" result="n2"/>
<feComposite in="n1" in2="n2" operator="arithmetic" k1="0" k2="1.1" k3="0.28" k4="-0.19" result="n"/>
<feColorMatrix in="n" type="matrix" values="1.25 0 0 0 -0.125  1.25 0 0 0 -0.125  1.25 0 0 0 -0.125  0 0 0 0 1" result="ng"/>
<feComposite in="SourceGraphic" in2="ng" operator="arithmetic" k1="1.3" k2="0.33" k3="0.04" k4="-0.022" result="sp"/>
<feGaussianBlur in="sp" stdDeviation="0.5 0.9"/>
</filter>
<linearGradient id="chor" x1="0" y1="1040" x2="0" y2="1084" gradientUnits="userSpaceOnUse"><stop offset="0" stop-color="#747474"/><stop offset="1" stop-color="#505050"/></linearGradient>
<linearGradient id="vit" x1="1227" y1="0" x2="1500" y2="0" gradientUnits="userSpaceOnUse"><stop offset="0" stop-color="#141414"/><stop offset="1" stop-color="#060606"/></linearGradient>
</defs>
<g id="oct" clip-path="url(#oclip)"><g filter="url(#speckle)">
<rect x="1227.2" y="778.0" width="482.79999999999995" height="306.0" fill="url(#vit)"/>
<g filter="url(#ob1b)">
<path d="M1227.2 857 L1233.2 856.6 L1239.2 855.9 L1245.2 855.3 L1251.2 854.9 L1257.2 854.2 L1263.2 853.3 L1269.2 852.6 L1275.2 851.9 L1281.2 851 L1287.2 850 L1293.2 849.2 L1299.2 848.8 L1305.2 848.3 L1311.2 847.7 L1317.2 847.2 L1323.2 847.1 L1329.2 847.6 L1335.2 848.2 L1341.2 848.6 L1347.2 849.8 L1353.2 851.3 L1359.2 852.4 L1365.2 853.7 L1371.2 855.8 L1377.2 857.8 L1383.2 859.1 L1389.2 861.5 L1395.2 863.4 L1401.2 867.1 L1407.2 870.7 L1413.2 875.7 L1419.2 882.9 L1425.2 888.1 L1431.2 897.4 L1437.2 903.5 L1443.2 910.7 L1449.2 915.4 L1455.2 920.5 L1461.2 923 L1467.2 922.2 L1473.2 919.8 L1479.2 913.3 L1485.2 904.4 L1491.2 893.8 L1497.2 882.6 L1503.2 871.7 L1509.2 865 L1515.2 856.5 L1521.2 851.6 L1527.2 844.7 L1533.2 839.9 L1539.2 834.6 L1545.2 829 L1551.2 825.5 L1557.2 820.6 L1563.2 817.7 L1569.2 814 L1575.2 810.7 L1581.2 808.3 L1587.2 805 L1593.2 803.2 L1599.2 800.8 L1605.2 799 L1611.2 798 L1617.2 796.7 L1623.2 795.9 L1629.2 795.5 L1635.2 794.9 L1641.2 794.6 L1647.2 794.6 L1653.2 794.6 L1659.2 794.6 L1665.2 795 L1671.2 795.6 L1677.2 796 L1683.2 796.9 L1689.2 798.1 L1695.2 799 L1701.2 800.7 L1707.2 802.7 L1710 803.3 L1710 1090 L1707.2 1090 L1701.2 1090 L1695.2 1090 L1689.2 1090 L1683.2 1090 L1677.2 1090 L1671.2 1090 L1665.2 1090 L1659.2 1090 L1653.2 1090 L1647.2 1090 L1641.2 1090 L1635.2 1090 L1629.2 1090 L1623.2 1090 L1617.2 1090 L1611.2 1090 L1605.2 1090 L1599.2 1090 L1593.2 1090 L1587.2 1090 L1581.2 1090 L1575.2 1090 L1569.2 1090 L1563.2 1090 L1557.2 1090 L1551.2 1090 L1545.2 1090 L1539.2 1090 L1533.2 1090 L1527.2 1090 L1521.2 1090 L1515.2 1090 L1509.2 1090 L1503.2 1090 L1497.2 1090 L1491.2 1090 L1485.2 1090 L1479.2 1090 L1473.2 1090 L1467.2 1090 L1461.2 1090 L1455.2 1090 L1449.2 1090 L1443.2 1090 L1437.2 1090 L1431.2 1090 L1425.2 1090 L1419.2 1090 L1413.2 1090 L1407.2 1090 L1401.2 1090 L1395.2 1090 L1389.2 1090 L1383.2 1090 L1377.2 1090 L1371.2 1090 L1365.2 1090 L1359.2 1090 L1353.2 1090 L1347.2 1090 L1341.2 1090 L1335.2 1090 L1329.2 1090 L1323.2 1090 L1317.2 1090 L1311.2 1090 L1305.2 1090 L1299.2 1090 L1293.2 1090 L1287.2 1090 L1281.2 1090 L1275.2 1090 L1269.2 1090 L1263.2 1090 L1257.2 1090 L1251.2 1090 L1245.2 1090 L1239.2 1090 L1233.2 1090 L1227.2 1090Z" fill="#747474"/>
</g><g filter="url(#ob2)">
<path d="M1227.2 859 L1233.2 858.6 L1239.2 857.9 L1245.2 857.3 L1251.2 856.9 L1257.2 856.2 L1263.2 855.3 L1269.2 854.6 L1275.2 853.9 L1281.2 853 L1287.2 852 L1293.2 851.2 L1299.2 850.8 L1305.2 850.3 L1311.2 849.7 L1317.2 849.2 L1323.2 849.1 L1329.2 849.6 L1335.2 850.2 L1341.2 850.6 L1347.2 851.8 L1353.2 853.3 L1359.2 854.4 L1365.2 855.7 L1371.2 857.8 L1377.2 859.8 L1383.2 861.1 L1389.2 863.5 L1395.2 865.4 L1401.2 869.1 L1407.2 872.7 L1413.2 877.7 L1419.2 884.9 L1425.2 890.1 L1431.2 899.4 L1437.2 905.5 L1443.2 912.7 L1449.2 917.4 L1455.2 922.5 L1461.2 925 L1467.2 924.2 L1473.2 921.8 L1479.2 915.3 L1485.2 906.4 L1491.2 895.8 L1497.2 884.6 L1503.2 873.7 L1509.2 867 L1515.2 858.5 L1521.2 853.6 L1527.2 846.7 L1533.2 841.9 L1539.2 836.6 L1545.2 831 L1551.2 827.5 L1557.2 822.6 L1563.2 819.7 L1569.2 816 L1575.2 812.7 L1581.2 810.3 L1587.2 807 L1593.2 805.2 L1599.2 802.8 L1605.2 801 L1611.2 800 L1617.2 798.7 L1623.2 797.9 L1629.2 797.5 L1635.2 796.9 L1641.2 796.6 L1647.2 796.6 L1653.2 796.6 L1659.2 796.6 L1665.2 797 L1671.2 797.6 L1677.2 798 L1683.2 798.9 L1689.2 800.1 L1695.2 801 L1701.2 802.7 L1707.2 804.7 L1710 805.3 L1710 833.3 L1707.2 832.7 L1701.2 830.7 L1695.2 829 L1689.2 828.1 L1683.2 826.9 L1677.2 826 L1671.2 825.6 L1665.2 825 L1659.2 824.6 L1653.2 824.6 L1647.2 824.6 L1641.2 824.6 L1635.2 824.9 L1629.2 825.5 L1623.2 825.9 L1617.2 826.7 L1611.2 828 L1605.2 829 L1599.2 830.8 L1593.2 833.2 L1587.2 835 L1581.2 838.3 L1575.2 840.7 L1569.2 844 L1563.2 847.7 L1557.2 850.6 L1551.2 855.5 L1545.2 859 L1539.2 864.6 L1533.2 869.9 L1527.2 874.7 L1521.2 881.6 L1515.2 886.5 L1509.2 895 L1503.2 901.7 L1497.2 912.6 L1491.2 923.8 L1485.2 928.9 L1479.2 927.9 L1473.2 926.9 L1467.2 925.6 L1461.2 925.5 L1455.2 928.1 L1449.2 930 L1443.2 929.4 L1437.2 928.7 L1431.2 927.4 L1425.2 918.1 L1419.2 912.9 L1413.2 905.7 L1407.2 900.7 L1401.2 897.1 L1395.2 893.4 L1389.2 891.5 L1383.2 889.1 L1377.2 887.8 L1371.2 885.8 L1365.2 883.7 L1359.2 882.4 L1353.2 881.3 L1347.2 879.8 L1341.2 878.6 L1335.2 878.2 L1329.2 877.6 L1323.2 877.1 L1317.2 877.2 L1311.2 877.7 L1305.2 878.3 L1299.2 878.8 L1293.2 879.2 L1287.2 880 L1281.2 881 L1275.2 881.9 L1269.2 882.6 L1263.2 883.3 L1257.2 884.2 L1251.2 884.9 L1245.2 885.3 L1239.2 885.9 L1233.2 886.6 L1227.2 887Z" fill="#969696"/>
</g><g filter="url(#ob1)">
<path d="M1227.2 2000 L1233.2 2000 L1239.2 2000 L1245.2 2000 L1251.2 2000 L1257.2 2000 L1263.2 2000 L1269.2 2000 L1275.2 2000 L1281.2 2000 L1287.2 2000 L1293.2 2000 L1299.2 2000 L1305.2 2000 L1311.2 2000 L1317.2 2000 L1323.2 2000 L1329.2 2000 L1335.2 2000 L1341.2 2000 L1347.2 2000 L1353.2 2000 L1359.2 2000 L1365.2 2000 L1371.2 2000 L1377.2 2000 L1383.2 2000 L1389.2 2000 L1395.2 2000 L1401.2 2000 L1407.2 2000 L1413.2 2000 L1419.2 2000 L1425.2 2000 L1431.2 2000 L1437.2 2000 L1443.2 2000 L1449.2 2000 L1455.2 2000 L1461.2 2000 L1467.2 2000 L1473.2 2000 L1479.2 2000 L1485.2 2000 L1491.2 2000 L1497.2 2000 L1503.2 2000 L1509.2 2000 L1515.2 2000 L1521.2 2000 L1527.2 2000 L1533.2 2000 L1539.2 2000 L1545.2 2000 L1551.2 2000 L1557.2 2000 L1563.2 2000 L1569.2 2000 L1575.2 810.7 L1581.2 808.3 L1587.2 805 L1593.2 803.2 L1599.2 800.8 L1605.2 799 L1611.2 798 L1617.2 796.7 L1623.2 795.9 L1629.2 795.5 L1635.2 794.9 L1641.2 794.6 L1647.2 794.6 L1653.2 794.6 L1659.2 794.6 L1665.2 795 L1671.2 795.6 L1677.2 796 L1683.2 796.9 L1689.2 798.1 L1695.2 799 L1701.2 800.7 L1707.2 802.7 L1710 803.3 L1710 822.3 L1707.2 821.3 L1701.2 818.5 L1695.2 816 L1689.2 814.3 L1683.2 812.3 L1677.2 810.6 L1671.2 809.3 L1665.2 807.9 L1659.2 806.7 L1653.2 805.9 L1647.2 805.1 L1641.2 804.3 L1635.2 803.8 L1629.2 803.5 L1623.2 803.2 L1617.2 803.1 L1611.2 803.6 L1605.2 803.8 L1599.2 804.8 L1593.2 806.3 L1587.2 807.3 L1581.2 809.8 L1575.2 811.5 L1569.2 2000 L1563.2 2000 L1557.2 2000 L1551.2 2000 L1545.2 2000 L1539.2 2000 L1533.2 2000 L1527.2 2000 L1521.2 2000 L1515.2 2000 L1509.2 2000 L1503.2 2000 L1497.2 2000 L1491.2 2000 L1485.2 2000 L1479.2 2000 L1473.2 2000 L1467.2 2000 L1461.2 2000 L1455.2 2000 L1449.2 2000 L1443.2 2000 L1437.2 2000 L1431.2 2000 L1425.2 2000 L1419.2 2000 L1413.2 2000 L1407.2 2000 L1401.2 2000 L1395.2 2000 L1389.2 2000 L1383.2 2000 L1377.2 2000 L1371.2 2000 L1365.2 2000 L1359.2 2000 L1353.2 2000 L1347.2 2000 L1341.2 2000 L1335.2 2000 L1329.2 2000 L1323.2 2000 L1317.2 2000 L1311.2 2000 L1305.2 2000 L1299.2 2000 L1293.2 2000 L1287.2 2000 L1281.2 2000 L1275.2 2000 L1269.2 2000 L1263.2 2000 L1257.2 2000 L1251.2 2000 L1245.2 2000 L1239.2 2000 L1233.2 2000 L1227.2 2000Z" fill="#e2e2e2"/>
<path d="M1512 872 q12 -14 24 -20" stroke="#d0d0d0" stroke-width="6" fill="none" stroke-linecap="round"/>
</g><g filter="url(#ob2)">
<path d="M1227.2 922 L1233.2 922 L1239.2 922 L1245.2 922 L1251.2 922 L1257.2 922 L1263.2 922 L1269.2 922 L1275.2 922 L1281.2 922 L1287.2 922 L1293.2 922 L1299.2 922 L1305.2 922.1 L1311.2 922.3 L1317.2 922.5 L1323.2 922.7 L1329.2 923 L1335.2 923.2 L1341.2 923.5 L1347.2 923.7 L1353.2 923.9 L1359.2 924 L1365.2 924.2 L1371.2 924.5 L1377.2 924.8 L1383.2 925.2 L1389.2 925.6 L1395.2 925.8 L1401.2 926 L1407.2 926.4 L1413.2 926.9 L1419.2 927.3 L1425.2 927.8 L1431.2 928.1 L1437.2 928.7 L1443.2 929.4 L1449.2 930 L1455.2 928.1 L1461.2 925.5 L1467.2 925.6 L1473.2 926.9 L1479.2 927.9 L1485.2 928.9 L1491.2 930.3 L1497.2 931.6 L1503.2 931.9 L1509.2 931.5 L1515.2 931 L1521.2 930.5 L1527.2 930.1 L1533.2 929.7 L1539.2 928.8 L1545.2 927.7 L1551.2 926.4 L1557.2 925.1 L1563.2 923.9 L1569.2 922.8 L1575.2 922.1 L1581.2 921.8 L1587.2 921.5 L1593.2 921.1 L1599.2 920.7 L1605.2 920.2 L1611.2 919.8 L1617.2 919.3 L1623.2 918.9 L1629.2 918.5 L1635.2 918.2 L1641.2 917.9 L1647.2 917.6 L1653.2 917.2 L1659.2 916.6 L1665.2 916 L1671.2 915.4 L1677.2 914.8 L1683.2 914.1 L1689.2 913.5 L1695.2 913 L1701.2 912.5 L1707.2 912.1 L1710 912 L1710 1090 L1707.2 1090 L1701.2 1090 L1695.2 1090 L1689.2 1090 L1683.2 1090 L1677.2 1090 L1671.2 1090 L1665.2 1090 L1659.2 1090 L1653.2 1090 L1647.2 1090 L1641.2 1090 L1635.2 1090 L1629.2 1090 L1623.2 1090 L1617.2 1090 L1611.2 1090 L1605.2 1090 L1599.2 1090 L1593.2 1090 L1587.2 1090 L1581.2 1090 L1575.2 1090 L1569.2 1090 L1563.2 1090 L1557.2 1090 L1551.2 1090 L1545.2 1090 L1539.2 1090 L1533.2 1090 L1527.2 1090 L1521.2 1090 L1515.2 1090 L1509.2 1090 L1503.2 1090 L1497.2 1090 L1491.2 1090 L1485.2 1090 L1479.2 1090 L1473.2 1090 L1467.2 1090 L1461.2 1090 L1455.2 1090 L1449.2 1090 L1443.2 1090 L1437.2 1090 L1431.2 1090 L1425.2 1090 L1419.2 1090 L1413.2 1090 L1407.2 1090 L1401.2 1090 L1395.2 1090 L1389.2 1090 L1383.2 1090 L1377.2 1090 L1371.2 1090 L1365.2 1090 L1359.2 1090 L1353.2 1090 L1347.2 1090 L1341.2 1090 L1335.2 1090 L1329.2 1090 L1323.2 1090 L1317.2 1090 L1311.2 1090 L1305.2 1090 L1299.2 1090 L1293.2 1090 L1287.2 1090 L1281.2 1090 L1275.2 1090 L1269.2 1090 L1263.2 1090 L1257.2 1090 L1251.2 1090 L1245.2 1090 L1239.2 1090 L1233.2 1090 L1227.2 1090Z" fill="#666"/>
<path d="M1227.2 954 L1233.2 954.1 L1239.2 954.1 L1245.2 954.2 L1251.2 954.3 L1257.2 954.4 L1263.2 954.5 L1269.2 954.6 L1275.2 954.7 L1281.2 954.8 L1287.2 954.9 L1293.2 954.9 L1299.2 955 L1305.2 955.1 L1311.2 955.1 L1317.2 955.2 L1323.2 955.4 L1329.2 955.5 L1335.2 955.6 L1341.2 955.7 L1347.2 955.8 L1353.2 955.9 L1359.2 956 L1365.2 955.9 L1371.2 955.8 L1377.2 955.6 L1383.2 955.4 L1389.2 955.2 L1395.2 955.1 L1401.2 954.8 L1407.2 953.7 L1413.2 952 L1419.2 950.3 L1425.2 948.8 L1431.2 947.6 L1437.2 944.7 L1443.2 941 L1449.2 938.2 L1455.2 934.2 L1461.2 929 L1467.2 928.8 L1473.2 930.5 L1479.2 931.9 L1485.2 933.3 L1491.2 935.4 L1497.2 937.4 L1503.2 937.9 L1509.2 937.5 L1515.2 937 L1521.2 936.5 L1527.2 936.1 L1533.2 935.5 L1539.2 934.3 L1545.2 932.8 L1551.2 931 L1557.2 929.3 L1563.2 927.6 L1569.2 926.1 L1575.2 925.1 L1581.2 925 L1587.2 924.9 L1593.2 924.8 L1599.2 924.7 L1605.2 924.6 L1611.2 924.4 L1617.2 924.3 L1623.2 924.2 L1629.2 924.1 L1635.2 924 L1641.2 924 L1647.2 924.1 L1653.2 924.3 L1659.2 924.5 L1665.2 924.7 L1671.2 924.9 L1677.2 925.1 L1683.2 925.3 L1689.2 925.5 L1695.2 925.7 L1701.2 925.8 L1707.2 926 L1710 926 L1710 1090 L1707.2 1090 L1701.2 1090 L1695.2 1090 L1689.2 1090 L1683.2 1090 L1677.2 1090 L1671.2 1090 L1665.2 1090 L1659.2 1090 L1653.2 1090 L1647.2 1090 L1641.2 1090 L1635.2 1090 L1629.2 1090 L1623.2 1090 L1617.2 1090 L1611.2 1090 L1605.2 1090 L1599.2 1090 L1593.2 1090 L1587.2 1090 L1581.2 1090 L1575.2 1090 L1569.2 1090 L1563.2 1090 L1557.2 1090 L1551.2 1090 L1545.2 1090 L1539.2 1090 L1533.2 1090 L1527.2 1090 L1521.2 1090 L1515.2 1090 L1509.2 1090 L1503.2 1090 L1497.2 1090 L1491.2 1090 L1485.2 1090 L1479.2 1090 L1473.2 1090 L1467.2 1090 L1461.2 1090 L1455.2 1090 L1449.2 1090 L1443.2 1090 L1437.2 1090 L1431.2 1090 L1425.2 1090 L1419.2 1090 L1413.2 1090 L1407.2 1090 L1401.2 1090 L1395.2 1090 L1389.2 1090 L1383.2 1090 L1377.2 1090 L1371.2 1090 L1365.2 1090 L1359.2 1090 L1353.2 1090 L1347.2 1090 L1341.2 1090 L1335.2 1090 L1329.2 1090 L1323.2 1090 L1317.2 1090 L1311.2 1090 L1305.2 1090 L1299.2 1090 L1293.2 1090 L1287.2 1090 L1281.2 1090 L1275.2 1090 L1269.2 1090 L1263.2 1090 L1257.2 1090 L1251.2 1090 L1245.2 1090 L1239.2 1090 L1233.2 1090 L1227.2 1090Z" fill="#3c3c3c"/>
</g><g filter="url(#ob1)">
<path d="M1227.2 1007 L1233.2 1007.3 L1239.2 1007.7 L1245.2 1008.2 L1251.2 1008.7 L1257.2 1009.2 L1263.2 1009.7 L1269.2 1010 L1275.2 1010.2 L1281.2 1010.5 L1287.2 1010.9 L1293.2 1011.3 L1299.2 1011.7 L1305.2 1012.1 L1311.2 1012.4 L1317.2 1012.6 L1323.2 1012.8 L1329.2 1013.1 L1335.2 1013.4 L1341.2 1013.7 L1347.2 1014 L1353.2 1014.3 L1359.2 1014.5 L1365.2 1014.6 L1371.2 1014.7 L1377.2 1014.9 L1383.2 1015 L1389.2 1015.2 L1395.2 1015.3 L1401.2 1015.4 L1407.2 1015.4 L1413.2 1015 L1419.2 1014.5 L1425.2 1014 L1431.2 1013.5 L1437.2 1013.1 L1443.2 1012.6 L1449.2 1011.5 L1455.2 1010.1 L1461.2 1009 L1467.2 1008.3 L1473.2 1007.5 L1479.2 1006.5 L1485.2 1005.5 L1491.2 1004.9 L1497.2 1004 L1503.2 1002.9 L1509.2 1001.6 L1515.2 1000.6 L1521.2 999.9 L1527.2 999.1 L1533.2 998 L1539.2 996.8 L1545.2 995.5 L1551.2 994.5 L1557.2 993.9 L1563.2 993.2 L1569.2 992.3 L1575.2 991.6 L1581.2 990.7 L1587.2 989.3 L1593.2 987.7 L1599.2 986.1 L1605.2 984.7 L1611.2 983.9 L1617.2 982.9 L1623.2 981.5 L1629.2 979.9 L1635.2 978.4 L1641.2 977.2 L1647.2 976.4 L1653.2 975.4 L1659.2 974 L1665.2 972.4 L1671.2 971 L1677.2 969.9 L1683.2 969.1 L1689.2 968 L1695.2 966.7 L1701.2 965.4 L1707.2 964.3 L1710 964 L1710 1090 L1707.2 1090 L1701.2 1090 L1695.2 1090 L1689.2 1090 L1683.2 1090 L1677.2 1090 L1671.2 1090 L1665.2 1090 L1659.2 1090 L1653.2 1090 L1647.2 1090 L1641.2 1090 L1635.2 1090 L1629.2 1090 L1623.2 1090 L1617.2 1090 L1611.2 1090 L1605.2 1090 L1599.2 1090 L1593.2 1090 L1587.2 1090 L1581.2 1090 L1575.2 1090 L1569.2 1090 L1563.2 1090 L1557.2 1090 L1551.2 1090 L1545.2 1090 L1539.2 1090 L1533.2 1090 L1527.2 1090 L1521.2 1090 L1515.2 1090 L1509.2 1090 L1503.2 1090 L1497.2 1090 L1491.2 1090 L1485.2 1090 L1479.2 1090 L1473.2 1090 L1467.2 1090 L1461.2 1090 L1455.2 1090 L1449.2 1090 L1443.2 1090 L1437.2 1090 L1431.2 1090 L1425.2 1090 L1419.2 1090 L1413.2 1090 L1407.2 1090 L1401.2 1090 L1395.2 1090 L1389.2 1090 L1383.2 1090 L1377.2 1090 L1371.2 1090 L1365.2 1090 L1359.2 1090 L1353.2 1090 L1347.2 1090 L1341.2 1090 L1335.2 1090 L1329.2 1090 L1323.2 1090 L1317.2 1090 L1311.2 1090 L1305.2 1090 L1299.2 1090 L1293.2 1090 L1287.2 1090 L1281.2 1090 L1275.2 1090 L1269.2 1090 L1263.2 1090 L1257.2 1090 L1251.2 1090 L1245.2 1090 L1239.2 1090 L1233.2 1090 L1227.2 1090Z" fill="url(#chor)"/>
<path d="M1227.2 1020.5 L1233.2 1020.8 L1239.2 1021.2 L1245.2 1021.7 L1251.2 1022.2 L1257.2 1022.7 L1263.2 1023.2 L1269.2 1023.5 L1275.2 1023.7 L1281.2 1024 L1287.2 1024.4 L1293.2 1024.8 L1299.2 1025.2 L1305.2 1025.6 L1311.2 1025.9 L1317.2 1026.1 L1323.2 1026.3 L1329.2 1026.6 L1335.2 1026.9 L1341.2 1027.2 L1347.2 1027.5 L1353.2 1027.8 L1359.2 1028 L1365.2 1028.1 L1371.2 1028.2 L1377.2 1028.4 L1383.2 1028.5 L1389.2 1028.7 L1395.2 1028.8 L1401.2 1028.9 L1407.2 1028.9 L1413.2 1028.5 L1419.2 1028 L1425.2 1027.5 L1431.2 1027 L1437.2 1026.6 L1443.2 1026.1 L1449.2 1025 L1455.2 1023.6 L1461.2 1022.5 L1467.2 1021.8 L1473.2 1021 L1479.2 1020 L1485.2 1019 L1491.2 1018.4 L1497.2 1017.5 L1503.2 1016.4 L1509.2 1015.1 L1515.2 1014.1 L1521.2 1013.4 L1527.2 1012.6 L1533.2 1011.5 L1539.2 1010.3 L1545.2 1009 L1551.2 1008 L1557.2 1007.4 L1563.2 1006.7 L1569.2 1005.8 L1575.2 1005.1 L1581.2 1004.2 L1587.2 1002.8 L1593.2 1001.2 L1599.2 999.6 L1605.2 998.2 L1611.2 997.4 L1617.2 996.4 L1623.2 995 L1629.2 993.4 L1635.2 991.9 L1641.2 990.7 L1647.2 989.9 L1653.2 988.9 L1659.2 987.5 L1665.2 985.9 L1671.2 984.5 L1677.2 983.4 L1683.2 982.6 L1689.2 981.5 L1695.2 980.2 L1701.2 978.9 L1707.2 977.8 L1710 977.5 L1710 1004 L1707.2 1004.3 L1701.2 1005.4 L1695.2 1006.7 L1689.2 1008 L1683.2 1009.1 L1677.2 1009.9 L1671.2 1011 L1665.2 1012.4 L1659.2 1014 L1653.2 1015.4 L1647.2 1016.4 L1641.2 1017.2 L1635.2 1018.4 L1629.2 1019.9 L1623.2 1021.5 L1617.2 1022.9 L1611.2 1023.9 L1605.2 1024.7 L1599.2 1026.1 L1593.2 1027.7 L1587.2 1029.3 L1581.2 1030.7 L1575.2 1031.6 L1569.2 1032.3 L1563.2 1033.2 L1557.2 1033.9 L1551.2 1034.5 L1545.2 1035.5 L1539.2 1036.8 L1533.2 1038 L1527.2 1039.1 L1521.2 1039.9 L1515.2 1040.6 L1509.2 1041.6 L1503.2 1042.9 L1497.2 1044 L1491.2 1044.9 L1485.2 1045.5 L1479.2 1046.5 L1473.2 1047.5 L1467.2 1048.3 L1461.2 1049 L1455.2 1050.1 L1449.2 1051.5 L1443.2 1052.6 L1437.2 1053.1 L1431.2 1053.5 L1425.2 1054 L1419.2 1054.5 L1413.2 1055 L1407.2 1055.4 L1401.2 1055.4 L1395.2 1055.3 L1389.2 1055.2 L1383.2 1055 L1377.2 1054.9 L1371.2 1054.7 L1365.2 1054.6 L1359.2 1054.5 L1353.2 1054.3 L1347.2 1054 L1341.2 1053.7 L1335.2 1053.4 L1329.2 1053.1 L1323.2 1052.8 L1317.2 1052.6 L1311.2 1052.4 L1305.2 1052.1 L1299.2 1051.7 L1293.2 1051.3 L1287.2 1050.9 L1281.2 1050.5 L1275.2 1050.2 L1269.2 1050 L1263.2 1049.7 L1257.2 1049.2 L1251.2 1048.7 L1245.2 1048.2 L1239.2 1047.7 L1233.2 1047.3 L1227.2 1047Z" fill="#c6c6c6"/>
<path d="M1227.2 1015.5 L1233.2 1015.8 L1239.2 1016.2 L1245.2 1016.7 L1251.2 1017.2 L1257.2 1017.7 L1263.2 1018.2 L1269.2 1018.5 L1275.2 1018.7 L1281.2 1019 L1287.2 1019.4 L1293.2 1019.8 L1299.2 1020.2 L1305.2 1020.6 L1311.2 1020.9 L1317.2 1021.1 L1323.2 1021.3 L1329.2 1021.6 L1335.2 1021.9 L1341.2 1022.2 L1347.2 1022.5 L1353.2 1022.8 L1359.2 1023 L1365.2 1023.1 L1371.2 1023.2 L1377.2 1023.4 L1383.2 1023.5 L1389.2 1023.7 L1395.2 1023.8 L1401.2 1023.9 L1407.2 1023.9 L1413.2 1023.5 L1419.2 1023 L1425.2 1022.5 L1431.2 1022 L1437.2 1021.6 L1443.2 1021.1 L1449.2 1020 L1455.2 1018.6 L1461.2 1017.5 L1467.2 1016.8 L1473.2 1016 L1479.2 1015 L1485.2 1014 L1491.2 1013.4 L1497.2 1012.5 L1503.2 1011.4 L1509.2 1010.1 L1515.2 1009.1 L1521.2 1008.4 L1527.2 1007.6 L1533.2 1006.5 L1539.2 1005.3 L1545.2 1004 L1551.2 1003 L1557.2 1002.4 L1563.2 1001.7 L1569.2 1000.8 L1575.2 1000.1 L1581.2 999.2 L1587.2 997.8 L1593.2 996.2 L1599.2 994.6 L1605.2 993.2 L1611.2 992.4 L1617.2 991.4 L1623.2 990 L1629.2 988.4 L1635.2 986.9 L1641.2 985.7 L1647.2 984.9 L1653.2 983.9 L1659.2 982.5 L1665.2 980.9 L1671.2 979.5 L1677.2 978.4 L1683.2 977.6 L1689.2 976.5 L1695.2 975.2 L1701.2 973.9 L1707.2 972.8 L1710 972.5 L1710 978 L1707.2 978.3 L1701.2 979.4 L1695.2 980.7 L1689.2 982 L1683.2 983.1 L1677.2 983.9 L1671.2 985 L1665.2 986.4 L1659.2 988 L1653.2 989.4 L1647.2 990.4 L1641.2 991.2 L1635.2 992.4 L1629.2 993.9 L1623.2 995.5 L1617.2 996.9 L1611.2 997.9 L1605.2 998.7 L1599.2 1000.1 L1593.2 1001.7 L1587.2 1003.3 L1581.2 1004.7 L1575.2 1005.6 L1569.2 1006.3 L1563.2 1007.2 L1557.2 1007.9 L1551.2 1008.5 L1545.2 1009.5 L1539.2 1010.8 L1533.2 1012 L1527.2 1013.1 L1521.2 1013.9 L1515.2 1014.6 L1509.2 1015.6 L1503.2 1016.9 L1497.2 1018 L1491.2 1018.9 L1485.2 1019.5 L1479.2 1020.5 L1473.2 1021.5 L1467.2 1022.3 L1461.2 1023 L1455.2 1024.1 L1449.2 1025.5 L1443.2 1026.6 L1437.2 1027.1 L1431.2 1027.5 L1425.2 1028 L1419.2 1028.5 L1413.2 1029 L1407.2 1029.4 L1401.2 1029.4 L1395.2 1029.3 L1389.2 1029.2 L1383.2 1029 L1377.2 1028.9 L1371.2 1028.7 L1365.2 1028.6 L1359.2 1028.5 L1353.2 1028.3 L1347.2 1028 L1341.2 1027.7 L1335.2 1027.4 L1329.2 1027.1 L1323.2 1026.8 L1317.2 1026.6 L1311.2 1026.4 L1305.2 1026.1 L1299.2 1025.7 L1293.2 1025.3 L1287.2 1024.9 L1281.2 1024.5 L1275.2 1024.2 L1269.2 1024 L1263.2 1023.7 L1257.2 1023.2 L1251.2 1022.7 L1245.2 1022.2 L1239.2 1021.7 L1233.2 1021.3 L1227.2 1021Z" fill="#4a4a4a"/>
<path d="M1227.2 1006.5 L1233.2 1006.8 L1239.2 1007.2 L1245.2 1007.7 L1251.2 1008.2 L1257.2 1008.7 L1263.2 1009.2 L1269.2 1009.5 L1275.2 1009.7 L1281.2 1010 L1287.2 1010.4 L1293.2 1010.8 L1299.2 1011.2 L1305.2 1011.6 L1311.2 1011.9 L1317.2 1012.1 L1323.2 1012.3 L1329.2 1012.6 L1335.2 1012.9 L1341.2 1013.2 L1347.2 1013.5 L1353.2 1013.8 L1359.2 1014 L1365.2 1014.1 L1371.2 1014.2 L1377.2 1014.4 L1383.2 1014.5 L1389.2 1014.7 L1395.2 1014.8 L1401.2 1014.9 L1407.2 1014.9 L1413.2 1014.5 L1419.2 1014 L1425.2 1013.5 L1431.2 1013 L1437.2 1012.6 L1443.2 1012.1 L1449.2 1011 L1455.2 1009.6 L1461.2 1008.5 L1467.2 1007.8 L1473.2 1007 L1479.2 1006 L1485.2 1005 L1491.2 1004.4 L1497.2 1003.5 L1503.2 1002.4 L1509.2 1001.1 L1515.2 1000.1 L1521.2 999.4 L1527.2 998.6 L1533.2 997.5 L1539.2 996.3 L1545.2 995 L1551.2 994 L1557.2 993.4 L1563.2 992.7 L1569.2 991.8 L1575.2 991.1 L1581.2 990.2 L1587.2 988.8 L1593.2 987.2 L1599.2 985.6 L1605.2 984.2 L1611.2 983.4 L1617.2 982.4 L1623.2 981 L1629.2 979.4 L1635.2 977.9 L1641.2 976.7 L1647.2 975.9 L1653.2 974.9 L1659.2 973.5 L1665.2 971.9 L1671.2 970.5 L1677.2 969.4 L1683.2 968.6 L1689.2 967.5 L1695.2 966.2 L1701.2 964.9 L1707.2 963.8 L1710 963.5 L1710 973 L1707.2 973.3 L1701.2 974.4 L1695.2 975.7 L1689.2 977 L1683.2 978.1 L1677.2 978.9 L1671.2 980 L1665.2 981.4 L1659.2 983 L1653.2 984.4 L1647.2 985.4 L1641.2 986.2 L1635.2 987.4 L1629.2 988.9 L1623.2 990.5 L1617.2 991.9 L1611.2 992.9 L1605.2 993.7 L1599.2 995.1 L1593.2 996.7 L1587.2 998.3 L1581.2 999.7 L1575.2 1000.6 L1569.2 1001.3 L1563.2 1002.2 L1557.2 1002.9 L1551.2 1003.5 L1545.2 1004.5 L1539.2 1005.8 L1533.2 1007 L1527.2 1008.1 L1521.2 1008.9 L1515.2 1009.6 L1509.2 1010.6 L1503.2 1011.9 L1497.2 1013 L1491.2 1013.9 L1485.2 1014.5 L1479.2 1015.5 L1473.2 1016.5 L1467.2 1017.3 L1461.2 1018 L1455.2 1019.1 L1449.2 1020.5 L1443.2 1021.6 L1437.2 1022.1 L1431.2 1022.5 L1425.2 1023 L1419.2 1023.5 L1413.2 1024 L1407.2 1024.4 L1401.2 1024.4 L1395.2 1024.3 L1389.2 1024.2 L1383.2 1024 L1377.2 1023.9 L1371.2 1023.7 L1365.2 1023.6 L1359.2 1023.5 L1353.2 1023.3 L1347.2 1023 L1341.2 1022.7 L1335.2 1022.4 L1329.2 1022.1 L1323.2 1021.8 L1317.2 1021.6 L1311.2 1021.4 L1305.2 1021.1 L1299.2 1020.7 L1293.2 1020.3 L1287.2 1019.9 L1281.2 1019.5 L1275.2 1019.2 L1269.2 1019 L1263.2 1018.7 L1257.2 1018.2 L1251.2 1017.7 L1245.2 1017.2 L1239.2 1016.7 L1233.2 1016.3 L1227.2 1016Z" fill="#dcdcdc"/>
<ellipse cx="1481" cy="1017.5" rx="16" ry="2.6" fill="#333"/>
</g></g></g>
</svg>
</body></html>
